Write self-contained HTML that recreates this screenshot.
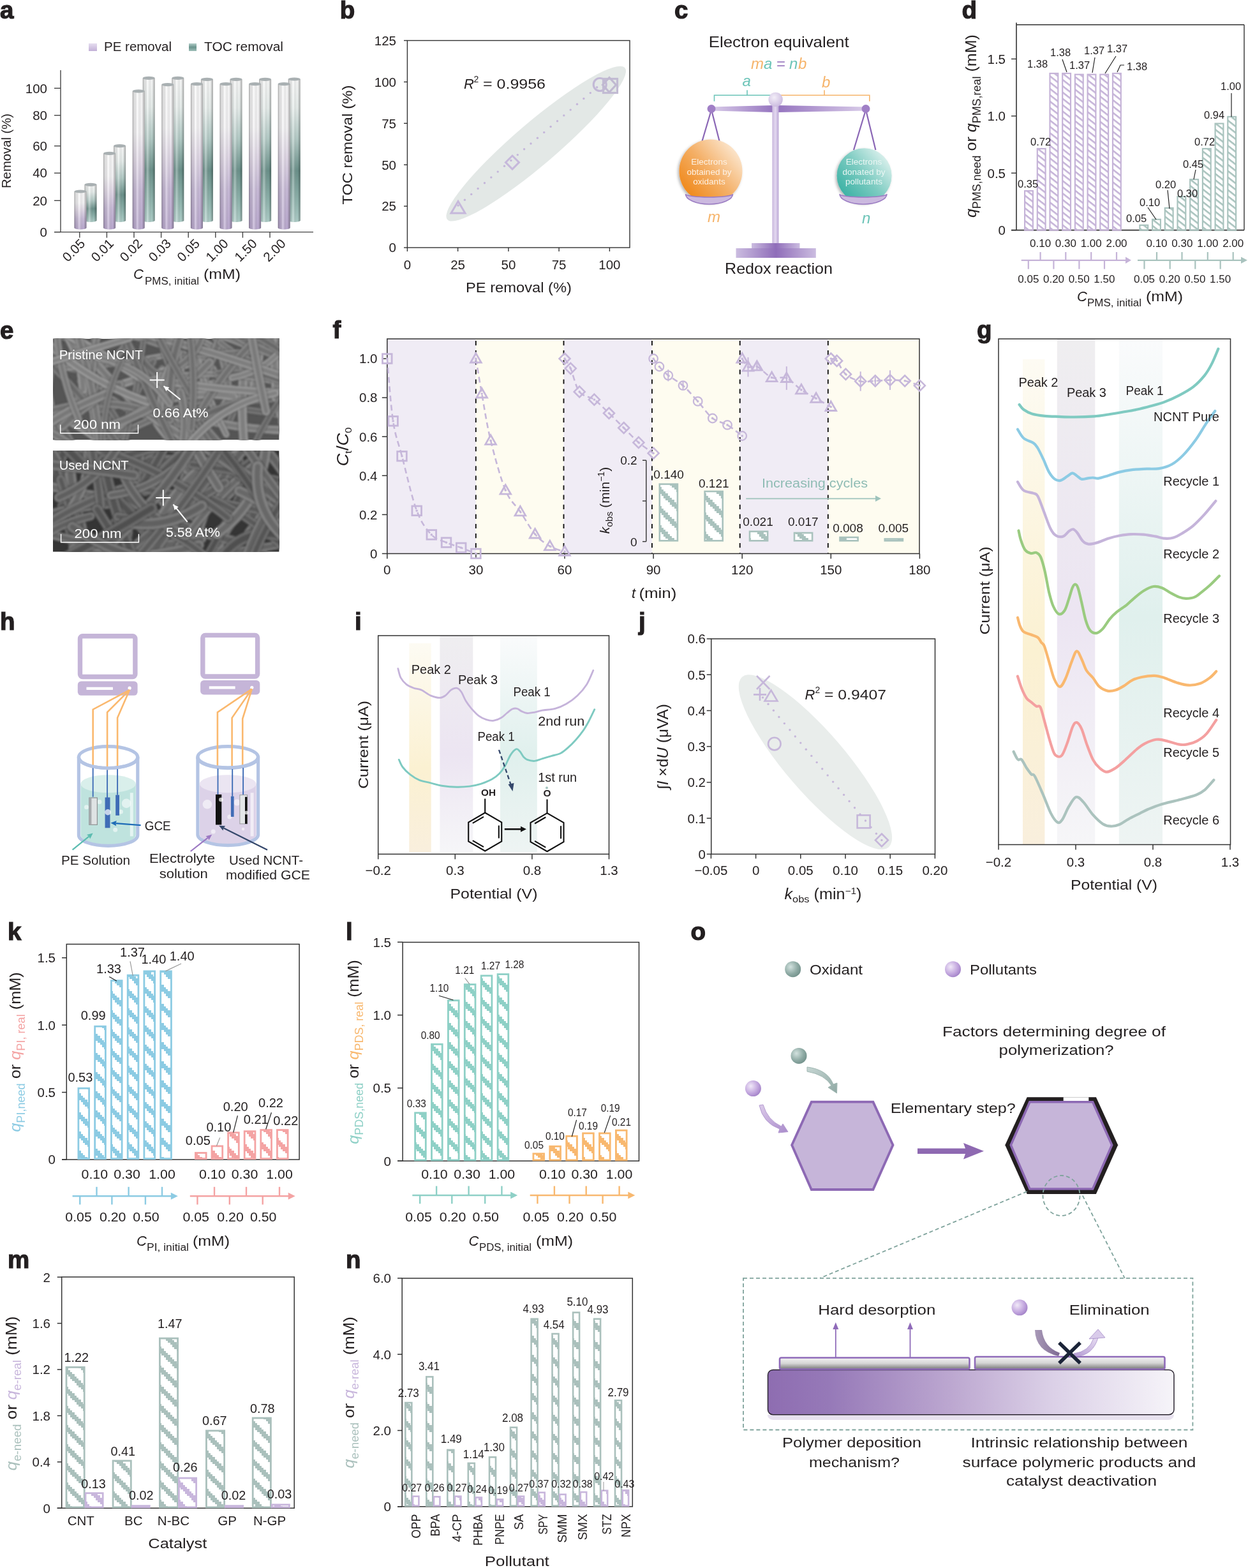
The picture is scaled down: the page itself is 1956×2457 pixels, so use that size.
<!DOCTYPE html>
<html><head><meta charset="utf-8"><style>
html,body{margin:0;padding:0;background:#fff;overflow:hidden;}
svg{display:block;}
text{font-family:"Liberation Sans", Arial, sans-serif;}
</style></head><body>
<svg width="1956" height="2457" viewBox="0 0 1956 2457">
<defs>
<linearGradient id="gPEv" x1="0" y1="0" x2="0" y2="1">
 <stop offset="0" stop-color="#ffffff"/><stop offset="0.3" stop-color="#fcfbfd"/><stop offset="0.5" stop-color="#e9e0ef"/><stop offset="0.72" stop-color="#cfc1df"/><stop offset="1" stop-color="#c0aed6"/></linearGradient>
<linearGradient id="gTOCv" x1="0" y1="0" x2="0" y2="1">
 <stop offset="0" stop-color="#ffffff"/><stop offset="0.2" stop-color="#eef5f3"/><stop offset="0.42" stop-color="#b9d2cd"/><stop offset="0.64" stop-color="#6e968f"/><stop offset="0.85" stop-color="#94bab3"/><stop offset="1" stop-color="#b3d4ce"/></linearGradient>
<linearGradient id="gLegP" x1="0" y1="0" x2="0" y2="1"><stop offset="0" stop-color="#e6def0"/><stop offset="1" stop-color="#c2b0d7"/></linearGradient>
<linearGradient id="gLegT" x1="0" y1="0" x2="0" y2="1"><stop offset="0" stop-color="#b5cfca"/><stop offset="0.5" stop-color="#6a948d"/><stop offset="1" stop-color="#9fbfb9"/></linearGradient>
<linearGradient id="gCylH" x1="0" y1="0" x2="1" y2="0">
 <stop offset="0" stop-color="#000" stop-opacity="0.38"/><stop offset="0.12" stop-color="#000" stop-opacity="0.12"/><stop offset="0.4" stop-color="#fff" stop-opacity="0.35"/><stop offset="0.75" stop-color="#000" stop-opacity="0.02"/><stop offset="1" stop-color="#000" stop-opacity="0.35"/></linearGradient>

<linearGradient id="gBeamL" x1="0" y1="0" x2="1" y2="0"><stop offset="0" stop-color="#d9cce9"/><stop offset="1" stop-color="#9574bf"/></linearGradient>
<linearGradient id="gBeamR" x1="0" y1="0" x2="1" y2="0"><stop offset="0" stop-color="#9574bf"/><stop offset="1" stop-color="#d9cce9"/></linearGradient>
<linearGradient id="gPole" x1="0" y1="0" x2="1" y2="0"><stop offset="0" stop-color="#c9b8de"/><stop offset="0.5" stop-color="#e3d8ef"/><stop offset="1" stop-color="#bba7d6"/></linearGradient>
<radialGradient id="gPivot" cx="0.4" cy="0.35" r="0.7"><stop offset="0" stop-color="#f3eef8"/><stop offset="1" stop-color="#c9b8de"/></radialGradient>
<linearGradient id="gBase" x1="0" y1="0" x2="1" y2="0"><stop offset="0" stop-color="#cbbce0"/><stop offset="0.5" stop-color="#8f6db9"/><stop offset="1" stop-color="#cbbce0"/></linearGradient>
<linearGradient id="gOrange" x1="0.15" y1="0.85" x2="0.9" y2="0.2"><stop offset="0" stop-color="#f08b1f"/><stop offset="0.5" stop-color="#f4b068"/><stop offset="1" stop-color="#fbe3c8"/></linearGradient>
<linearGradient id="gTeal" x1="0.15" y1="0.85" x2="0.9" y2="0.2"><stop offset="0" stop-color="#3fb3a6"/><stop offset="0.5" stop-color="#7ccbc1"/><stop offset="1" stop-color="#d5eeea"/></linearGradient>
<filter id="shadow" x="-20%" y="-20%" width="140%" height="140%"><feDropShadow dx="-2" dy="2" stdDeviation="2" flood-color="#000" flood-opacity="0.3"/></filter>

<radialGradient id="gBallT" cx="0.35" cy="0.35" r="0.75"><stop offset="0" stop-color="#d3e2df"/><stop offset="0.6" stop-color="#8eaaa4"/><stop offset="1" stop-color="#6f8e88"/></radialGradient>
<radialGradient id="gBallP" cx="0.35" cy="0.35" r="0.75"><stop offset="0" stop-color="#f1e9f8"/><stop offset="0.6" stop-color="#c2a6de"/><stop offset="1" stop-color="#9d7cc4"/></radialGradient>
<linearGradient id="gSlab" x1="0" y1="0" x2="1" y2="0"><stop offset="0" stop-color="#8e6db1"/><stop offset="0.15" stop-color="#9679b8"/><stop offset="0.45" stop-color="#bca7d0"/><stop offset="0.7" stop-color="#dbd0e7"/><stop offset="1" stop-color="#f6f4f9"/></linearGradient>
<linearGradient id="gFilm" x1="0" y1="0" x2="0" y2="1"><stop offset="0" stop-color="#f4f4f4"/><stop offset="0.5" stop-color="#d5d5d5"/><stop offset="1" stop-color="#777"/></linearGradient>
<linearGradient id="gArrT" x1="0" y1="0" x2="1" y2="1"><stop offset="0" stop-color="#c6d6d3"/><stop offset="1" stop-color="#8fa9a4"/></linearGradient>
<linearGradient id="gArrP" x1="0" y1="0" x2="1" y2="1"><stop offset="0" stop-color="#dccbea"/><stop offset="1" stop-color="#a98bcb"/></linearGradient>
<linearGradient id="gArrL" x1="0" y1="0" x2="1" y2="0"><stop offset="0" stop-color="#a99ab8"/><stop offset="1" stop-color="#7d6a92"/></linearGradient>
<linearGradient id="gArrR" x1="0" y1="1" x2="1" y2="0"><stop offset="0" stop-color="#b39bd2"/><stop offset="1" stop-color="#e7dcf2"/></linearGradient>
<pattern id="hPu" width="40" height="7.8" patternUnits="userSpaceOnUse" patternTransform="rotate(38)"><rect y="0" width="40" height="2.6" fill="#c5b3d8"/></pattern><pattern id="hTe" width="40" height="7.8" patternUnits="userSpaceOnUse" patternTransform="rotate(38)"><rect y="0" width="40" height="2.6" fill="#a9c3be"/></pattern><clipPath id="clip11"><rect x="83" y="530.8" width="354.6" height="158.5"/></clipPath><filter id="blur11" x="0" y="0" width="1" height="1"><feGaussianBlur stdDeviation="1.8"/></filter><clipPath id="clip12"><rect x="83" y="706.2" width="354.6" height="158.5"/></clipPath><filter id="blur12" x="0" y="0" width="1" height="1"><feGaussianBlur stdDeviation="1.8"/></filter><pattern id="hF" width="29.997" height="30" patternUnits="userSpaceOnUse" shape-rendering="crispEdges"><rect width="29.997" height="30" fill="#fff"/><rect x="0.000" y="0.000" width="3.383" height="10.5" fill="#a9c2bd"/><rect x="3.333" y="3.333" width="3.383" height="10.5" fill="#a9c2bd"/><rect x="6.666" y="6.667" width="3.383" height="10.5" fill="#a9c2bd"/><rect x="9.999" y="10.000" width="3.383" height="10.5" fill="#a9c2bd"/><rect x="13.332" y="13.333" width="3.383" height="10.5" fill="#a9c2bd"/><rect x="16.665" y="16.667" width="3.383" height="10.5" fill="#a9c2bd"/><rect x="19.998" y="20.000" width="3.383" height="10.5" fill="#a9c2bd"/><rect x="19.998" y="-10.000" width="3.383" height="10.5" fill="#a9c2bd"/><rect x="23.331" y="23.333" width="3.383" height="10.5" fill="#a9c2bd"/><rect x="23.331" y="-6.667" width="3.383" height="10.5" fill="#a9c2bd"/><rect x="26.664" y="26.667" width="3.383" height="10.5" fill="#a9c2bd"/><rect x="26.664" y="-3.333" width="3.383" height="10.5" fill="#a9c2bd"/></pattern><linearGradient id="gBandY" x1="0" y1="0" x2="0" y2="1"><stop offset="0" stop-color="#fdfbf3"/><stop offset="0.6" stop-color="#fbf1d2"/><stop offset="1" stop-color="#f9efdd"/></linearGradient>
<linearGradient id="gBandP" x1="0" y1="0" x2="0" y2="1"><stop offset="0" stop-color="#efeef0"/><stop offset="0.55" stop-color="#ece5f2"/><stop offset="1" stop-color="#f6f6f8"/></linearGradient>
<linearGradient id="gBandT" x1="0" y1="0" x2="0" y2="1"><stop offset="0" stop-color="#fafbfc"/><stop offset="0.55" stop-color="#e0f0ed"/><stop offset="1" stop-color="#eef4f3"/></linearGradient><pattern id="sK" width="29.997" height="30" patternUnits="userSpaceOnUse" shape-rendering="crispEdges"><rect x="0.000" y="0.000" width="3.383" height="10.5" fill="#8ccbe3"/><rect x="3.333" y="3.333" width="3.383" height="10.5" fill="#8ccbe3"/><rect x="6.666" y="6.667" width="3.383" height="10.5" fill="#8ccbe3"/><rect x="9.999" y="10.000" width="3.383" height="10.5" fill="#8ccbe3"/><rect x="13.332" y="13.333" width="3.383" height="10.5" fill="#8ccbe3"/><rect x="16.665" y="16.667" width="3.383" height="10.5" fill="#8ccbe3"/><rect x="19.998" y="20.000" width="3.383" height="10.5" fill="#8ccbe3"/><rect x="19.998" y="-10.000" width="3.383" height="10.5" fill="#8ccbe3"/><rect x="23.331" y="23.333" width="3.383" height="10.5" fill="#8ccbe3"/><rect x="23.331" y="-6.667" width="3.383" height="10.5" fill="#8ccbe3"/><rect x="26.664" y="26.667" width="3.383" height="10.5" fill="#8ccbe3"/><rect x="26.664" y="-3.333" width="3.383" height="10.5" fill="#8ccbe3"/></pattern><pattern id="sKp" width="29.997" height="30" patternUnits="userSpaceOnUse" shape-rendering="crispEdges"><rect x="0.000" y="0.000" width="3.383" height="10.5" fill="#f4a3a3"/><rect x="3.333" y="3.333" width="3.383" height="10.5" fill="#f4a3a3"/><rect x="6.666" y="6.667" width="3.383" height="10.5" fill="#f4a3a3"/><rect x="9.999" y="10.000" width="3.383" height="10.5" fill="#f4a3a3"/><rect x="13.332" y="13.333" width="3.383" height="10.5" fill="#f4a3a3"/><rect x="16.665" y="16.667" width="3.383" height="10.5" fill="#f4a3a3"/><rect x="19.998" y="20.000" width="3.383" height="10.5" fill="#f4a3a3"/><rect x="19.998" y="-10.000" width="3.383" height="10.5" fill="#f4a3a3"/><rect x="23.331" y="23.333" width="3.383" height="10.5" fill="#f4a3a3"/><rect x="23.331" y="-6.667" width="3.383" height="10.5" fill="#f4a3a3"/><rect x="26.664" y="26.667" width="3.383" height="10.5" fill="#f4a3a3"/><rect x="26.664" y="-3.333" width="3.383" height="10.5" fill="#f4a3a3"/></pattern><pattern id="sL" width="29.997" height="30" patternUnits="userSpaceOnUse" shape-rendering="crispEdges"><rect x="0.000" y="0.000" width="3.383" height="10.5" fill="#8ed0c6"/><rect x="3.333" y="3.333" width="3.383" height="10.5" fill="#8ed0c6"/><rect x="6.666" y="6.667" width="3.383" height="10.5" fill="#8ed0c6"/><rect x="9.999" y="10.000" width="3.383" height="10.5" fill="#8ed0c6"/><rect x="13.332" y="13.333" width="3.383" height="10.5" fill="#8ed0c6"/><rect x="16.665" y="16.667" width="3.383" height="10.5" fill="#8ed0c6"/><rect x="19.998" y="20.000" width="3.383" height="10.5" fill="#8ed0c6"/><rect x="19.998" y="-10.000" width="3.383" height="10.5" fill="#8ed0c6"/><rect x="23.331" y="23.333" width="3.383" height="10.5" fill="#8ed0c6"/><rect x="23.331" y="-6.667" width="3.383" height="10.5" fill="#8ed0c6"/><rect x="26.664" y="26.667" width="3.383" height="10.5" fill="#8ed0c6"/><rect x="26.664" y="-3.333" width="3.383" height="10.5" fill="#8ed0c6"/></pattern><pattern id="sLo" width="29.997" height="30" patternUnits="userSpaceOnUse" shape-rendering="crispEdges"><rect x="0.000" y="0.000" width="3.383" height="10.5" fill="#f8b86f"/><rect x="3.333" y="3.333" width="3.383" height="10.5" fill="#f8b86f"/><rect x="6.666" y="6.667" width="3.383" height="10.5" fill="#f8b86f"/><rect x="9.999" y="10.000" width="3.383" height="10.5" fill="#f8b86f"/><rect x="13.332" y="13.333" width="3.383" height="10.5" fill="#f8b86f"/><rect x="16.665" y="16.667" width="3.383" height="10.5" fill="#f8b86f"/><rect x="19.998" y="20.000" width="3.383" height="10.5" fill="#f8b86f"/><rect x="19.998" y="-10.000" width="3.383" height="10.5" fill="#f8b86f"/><rect x="23.331" y="23.333" width="3.383" height="10.5" fill="#f8b86f"/><rect x="23.331" y="-6.667" width="3.383" height="10.5" fill="#f8b86f"/><rect x="26.664" y="26.667" width="3.383" height="10.5" fill="#f8b86f"/><rect x="26.664" y="-3.333" width="3.383" height="10.5" fill="#f8b86f"/></pattern><pattern id="sM" width="29.997" height="30" patternUnits="userSpaceOnUse" shape-rendering="crispEdges"><rect x="0.000" y="0.000" width="3.383" height="10.5" fill="#aac0bc"/><rect x="3.333" y="3.333" width="3.383" height="10.5" fill="#aac0bc"/><rect x="6.666" y="6.667" width="3.383" height="10.5" fill="#aac0bc"/><rect x="9.999" y="10.000" width="3.383" height="10.5" fill="#aac0bc"/><rect x="13.332" y="13.333" width="3.383" height="10.5" fill="#aac0bc"/><rect x="16.665" y="16.667" width="3.383" height="10.5" fill="#aac0bc"/><rect x="19.998" y="20.000" width="3.383" height="10.5" fill="#aac0bc"/><rect x="19.998" y="-10.000" width="3.383" height="10.5" fill="#aac0bc"/><rect x="23.331" y="23.333" width="3.383" height="10.5" fill="#aac0bc"/><rect x="23.331" y="-6.667" width="3.383" height="10.5" fill="#aac0bc"/><rect x="26.664" y="26.667" width="3.383" height="10.5" fill="#aac0bc"/><rect x="26.664" y="-3.333" width="3.383" height="10.5" fill="#aac0bc"/></pattern><pattern id="sMp" width="29.997" height="30" patternUnits="userSpaceOnUse" shape-rendering="crispEdges"><rect x="0.000" y="0.000" width="3.383" height="10.5" fill="#c8b6dc"/><rect x="3.333" y="3.333" width="3.383" height="10.5" fill="#c8b6dc"/><rect x="6.666" y="6.667" width="3.383" height="10.5" fill="#c8b6dc"/><rect x="9.999" y="10.000" width="3.383" height="10.5" fill="#c8b6dc"/><rect x="13.332" y="13.333" width="3.383" height="10.5" fill="#c8b6dc"/><rect x="16.665" y="16.667" width="3.383" height="10.5" fill="#c8b6dc"/><rect x="19.998" y="20.000" width="3.383" height="10.5" fill="#c8b6dc"/><rect x="19.998" y="-10.000" width="3.383" height="10.5" fill="#c8b6dc"/><rect x="23.331" y="23.333" width="3.383" height="10.5" fill="#c8b6dc"/><rect x="23.331" y="-6.667" width="3.383" height="10.5" fill="#c8b6dc"/><rect x="26.664" y="26.667" width="3.383" height="10.5" fill="#c8b6dc"/><rect x="26.664" y="-3.333" width="3.383" height="10.5" fill="#c8b6dc"/></pattern><pattern id="sN" width="29.997" height="30" patternUnits="userSpaceOnUse" shape-rendering="crispEdges"><rect x="0.000" y="0.000" width="3.383" height="10.5" fill="#aac0bc"/><rect x="3.333" y="3.333" width="3.383" height="10.5" fill="#aac0bc"/><rect x="6.666" y="6.667" width="3.383" height="10.5" fill="#aac0bc"/><rect x="9.999" y="10.000" width="3.383" height="10.5" fill="#aac0bc"/><rect x="13.332" y="13.333" width="3.383" height="10.5" fill="#aac0bc"/><rect x="16.665" y="16.667" width="3.383" height="10.5" fill="#aac0bc"/><rect x="19.998" y="20.000" width="3.383" height="10.5" fill="#aac0bc"/><rect x="19.998" y="-10.000" width="3.383" height="10.5" fill="#aac0bc"/><rect x="23.331" y="23.333" width="3.383" height="10.5" fill="#aac0bc"/><rect x="23.331" y="-6.667" width="3.383" height="10.5" fill="#aac0bc"/><rect x="26.664" y="26.667" width="3.383" height="10.5" fill="#aac0bc"/><rect x="26.664" y="-3.333" width="3.383" height="10.5" fill="#aac0bc"/></pattern></defs>
<rect width="1956" height="2457" fill="#fff"/>
<g fill="#231f20">
<text x="0.0" y="29.2" font-size="38.5" font-weight="bold" stroke="#231f20" stroke-width="1.2">a</text>
<rect x="139.0" y="68.0" width="13.0" height="12.0" fill="url(#gLegP)" />
<text x="163.0" y="80.0" font-size="20" textLength="106.0" lengthAdjust="spacingAndGlyphs">PE removal</text>
<rect x="296.0" y="68.0" width="12.0" height="12.0" fill="url(#gLegT)" />
<text x="320.0" y="80.0" font-size="20" textLength="124.0" lengthAdjust="spacingAndGlyphs">TOC removal</text>
<line x1="95.0" y1="110.0" x2="95.0" y2="363.6" stroke="#444" stroke-width="1.4" />
<line x1="85.0" y1="363.6" x2="491.0" y2="363.6" stroke="#444" stroke-width="1.4" />
<line x1="85.0" y1="138.3" x2="95.0" y2="138.3" stroke="#444" stroke-width="1.4" />
<text x="74.0" y="145.5" font-size="20.5" text-anchor="end">100</text>
<line x1="85.0" y1="180.7" x2="95.0" y2="180.7" stroke="#444" stroke-width="1.4" />
<text x="74.0" y="187.9" font-size="20.5" text-anchor="end">80</text>
<line x1="85.0" y1="228.7" x2="95.0" y2="228.7" stroke="#444" stroke-width="1.4" />
<text x="74.0" y="235.9" font-size="20.5" text-anchor="end">60</text>
<line x1="85.0" y1="271.2" x2="95.0" y2="271.2" stroke="#444" stroke-width="1.4" />
<text x="74.0" y="278.4" font-size="20.5" text-anchor="end">40</text>
<line x1="85.0" y1="314.3" x2="95.0" y2="314.3" stroke="#444" stroke-width="1.4" />
<text x="74.0" y="321.5" font-size="20.5" text-anchor="end">20</text>
<line x1="85.0" y1="363.6" x2="95.0" y2="363.6" stroke="#444" stroke-width="1.4" />
<text x="74.0" y="370.8" font-size="20.5" text-anchor="end">0</text>
<line x1="124.8" y1="363.6" x2="124.8" y2="372.6" stroke="#444" stroke-width="1.4" />
<line x1="167.4" y1="363.6" x2="167.4" y2="372.6" stroke="#444" stroke-width="1.4" />
<line x1="210.0" y1="363.6" x2="210.0" y2="372.6" stroke="#444" stroke-width="1.4" />
<line x1="252.6" y1="363.6" x2="252.6" y2="372.6" stroke="#444" stroke-width="1.4" />
<line x1="295.2" y1="363.6" x2="295.2" y2="372.6" stroke="#444" stroke-width="1.4" />
<line x1="337.8" y1="363.6" x2="337.8" y2="372.6" stroke="#444" stroke-width="1.4" />
<line x1="380.4" y1="363.6" x2="380.4" y2="372.6" stroke="#444" stroke-width="1.4" />
<line x1="423.0" y1="363.6" x2="423.0" y2="372.6" stroke="#444" stroke-width="1.4" />
<text x="134.5" y="383.0" font-size="20.5" text-anchor="end" transform="rotate(-45 134.5 383.0)">0.05</text>
<text x="179.4" y="383.0" font-size="20.5" text-anchor="end" transform="rotate(-45 179.4 383.0)">0.01</text>
<text x="224.4" y="383.0" font-size="20.5" text-anchor="end" transform="rotate(-45 224.4 383.0)">0.02</text>
<text x="269.4" y="383.0" font-size="20.5" text-anchor="end" transform="rotate(-45 269.4 383.0)">0.03</text>
<text x="314.3" y="383.0" font-size="20.5" text-anchor="end" transform="rotate(-45 314.3 383.0)">0.05</text>
<text x="359.2" y="383.0" font-size="20.5" text-anchor="end" transform="rotate(-45 359.2 383.0)">1.00</text>
<text x="404.2" y="383.0" font-size="20.5" text-anchor="end" transform="rotate(-45 404.2 383.0)">1.50</text>
<text x="449.2" y="383.0" font-size="20.5" text-anchor="end" transform="rotate(-45 449.2 383.0)">2.00</text>
<path d="M132.5,289.3 L132.5,345.5 A9.5,2.6 0 0 0 151.5,345.5 L151.5,289.3 Z" fill="url(#gTOCv)" />
<path d="M132.5,289.3 L132.5,345.5 A9.5,2.6 0 0 0 151.5,345.5 L151.5,289.3 Z" fill="url(#gCylH)" />
<ellipse cx="142.0" cy="289.3" rx="9.5" ry="2.6" fill="#a9b0b2" />
<path d="M116.5,300.0 L116.5,357.0 A9.5,2.6 0 0 0 135.5,357.0 L135.5,300.0 Z" fill="url(#gPEv)" />
<path d="M116.5,300.0 L116.5,357.0 A9.5,2.6 0 0 0 135.5,357.0 L135.5,300.0 Z" fill="url(#gCylH)" />
<ellipse cx="126.0" cy="300.0" rx="9.5" ry="2.6" fill="#a9b0b2" />
<path d="M178.1,228.7 L178.1,345.5 A9.5,2.6 0 0 0 197.1,345.5 L197.1,228.7 Z" fill="url(#gTOCv)" />
<path d="M178.1,228.7 L178.1,345.5 A9.5,2.6 0 0 0 197.1,345.5 L197.1,228.7 Z" fill="url(#gCylH)" />
<ellipse cx="187.6" cy="228.7" rx="9.5" ry="2.6" fill="#a9b0b2" />
<path d="M162.1,240.4 L162.1,357.0 A9.5,2.6 0 0 0 181.1,357.0 L181.1,240.4 Z" fill="url(#gPEv)" />
<path d="M162.1,240.4 L162.1,357.0 A9.5,2.6 0 0 0 181.1,357.0 L181.1,240.4 Z" fill="url(#gCylH)" />
<ellipse cx="171.6" cy="240.4" rx="9.5" ry="2.6" fill="#a9b0b2" />
<path d="M223.7,122.4 L223.7,345.5 A9.5,2.6 0 0 0 242.7,345.5 L242.7,122.4 Z" fill="url(#gTOCv)" />
<path d="M223.7,122.4 L223.7,345.5 A9.5,2.6 0 0 0 242.7,345.5 L242.7,122.4 Z" fill="url(#gCylH)" />
<ellipse cx="233.2" cy="122.4" rx="9.5" ry="2.6" fill="#a9b0b2" />
<path d="M207.7,142.8 L207.7,357.0 A9.5,2.6 0 0 0 226.7,357.0 L226.7,142.8 Z" fill="url(#gPEv)" />
<path d="M207.7,142.8 L207.7,357.0 A9.5,2.6 0 0 0 226.7,357.0 L226.7,142.8 Z" fill="url(#gCylH)" />
<ellipse cx="217.2" cy="142.8" rx="9.5" ry="2.6" fill="#a9b0b2" />
<path d="M269.3,122.4 L269.3,345.5 A9.5,2.6 0 0 0 288.3,345.5 L288.3,122.4 Z" fill="url(#gTOCv)" />
<path d="M269.3,122.4 L269.3,345.5 A9.5,2.6 0 0 0 288.3,345.5 L288.3,122.4 Z" fill="url(#gCylH)" />
<ellipse cx="278.8" cy="122.4" rx="9.5" ry="2.6" fill="#a9b0b2" />
<path d="M253.3,132.6 L253.3,357.0 A9.5,2.6 0 0 0 272.3,357.0 L272.3,132.6 Z" fill="url(#gPEv)" />
<path d="M253.3,132.6 L253.3,357.0 A9.5,2.6 0 0 0 272.3,357.0 L272.3,132.6 Z" fill="url(#gCylH)" />
<ellipse cx="262.8" cy="132.6" rx="9.5" ry="2.6" fill="#a9b0b2" />
<path d="M314.9,124.4 L314.9,345.5 A9.5,2.6 0 0 0 333.9,345.5 L333.9,124.4 Z" fill="url(#gTOCv)" />
<path d="M314.9,124.4 L314.9,345.5 A9.5,2.6 0 0 0 333.9,345.5 L333.9,124.4 Z" fill="url(#gCylH)" />
<ellipse cx="324.4" cy="124.4" rx="9.5" ry="2.6" fill="#a9b0b2" />
<path d="M298.9,131.7 L298.9,357.0 A9.5,2.6 0 0 0 317.9,357.0 L317.9,131.7 Z" fill="url(#gPEv)" />
<path d="M298.9,131.7 L298.9,357.0 A9.5,2.6 0 0 0 317.9,357.0 L317.9,131.7 Z" fill="url(#gCylH)" />
<ellipse cx="308.4" cy="131.7" rx="9.5" ry="2.6" fill="#a9b0b2" />
<path d="M360.5,124.4 L360.5,345.5 A9.5,2.6 0 0 0 379.5,345.5 L379.5,124.4 Z" fill="url(#gTOCv)" />
<path d="M360.5,124.4 L360.5,345.5 A9.5,2.6 0 0 0 379.5,345.5 L379.5,124.4 Z" fill="url(#gCylH)" />
<ellipse cx="370.0" cy="124.4" rx="9.5" ry="2.6" fill="#a9b0b2" />
<path d="M344.5,131.7 L344.5,357.0 A9.5,2.6 0 0 0 363.5,357.0 L363.5,131.7 Z" fill="url(#gPEv)" />
<path d="M344.5,131.7 L344.5,357.0 A9.5,2.6 0 0 0 363.5,357.0 L363.5,131.7 Z" fill="url(#gCylH)" />
<ellipse cx="354.0" cy="131.7" rx="9.5" ry="2.6" fill="#a9b0b2" />
<path d="M406.1,124.4 L406.1,345.5 A9.5,2.6 0 0 0 425.1,345.5 L425.1,124.4 Z" fill="url(#gTOCv)" />
<path d="M406.1,124.4 L406.1,345.5 A9.5,2.6 0 0 0 425.1,345.5 L425.1,124.4 Z" fill="url(#gCylH)" />
<ellipse cx="415.6" cy="124.4" rx="9.5" ry="2.6" fill="#a9b0b2" />
<path d="M390.1,131.7 L390.1,357.0 A9.5,2.6 0 0 0 409.1,357.0 L409.1,131.7 Z" fill="url(#gPEv)" />
<path d="M390.1,131.7 L390.1,357.0 A9.5,2.6 0 0 0 409.1,357.0 L409.1,131.7 Z" fill="url(#gCylH)" />
<ellipse cx="399.6" cy="131.7" rx="9.5" ry="2.6" fill="#a9b0b2" />
<path d="M451.7,124.0 L451.7,345.5 A9.5,2.6 0 0 0 470.7,345.5 L470.7,124.0 Z" fill="url(#gTOCv)" />
<path d="M451.7,124.0 L451.7,345.5 A9.5,2.6 0 0 0 470.7,345.5 L470.7,124.0 Z" fill="url(#gCylH)" />
<ellipse cx="461.2" cy="124.0" rx="9.5" ry="2.6" fill="#a9b0b2" />
<path d="M435.7,131.7 L435.7,357.0 A9.5,2.6 0 0 0 454.7,357.0 L454.7,131.7 Z" fill="url(#gPEv)" />
<path d="M435.7,131.7 L435.7,357.0 A9.5,2.6 0 0 0 454.7,357.0 L454.7,131.7 Z" fill="url(#gCylH)" />
<ellipse cx="445.2" cy="131.7" rx="9.5" ry="2.6" fill="#a9b0b2" />
<text x="209.0" y="437.4" font-size="22" font-style="italic">C</text>
<text x="227.0" y="445.6" font-size="16" textLength="85.0" lengthAdjust="spacingAndGlyphs">PMS, initial</text>
<text x="319.0" y="437.4" font-size="22" textLength="58.0" lengthAdjust="spacingAndGlyphs">(mM)</text>
<text x="17.2" y="236.5" font-size="20.5" text-anchor="middle" textLength="117.0" lengthAdjust="spacingAndGlyphs" transform="rotate(-90 17.2 236.5)">Removal (%)</text>
<text x="532.8" y="29.1" font-size="38.5" font-weight="bold" stroke="#231f20" stroke-width="1.2">b</text>
<ellipse cx="840.2" cy="225.1" rx="183.0" ry="33.0" fill="#e3e8e6" transform="rotate(-40.5 840.2 225.1)"/>
<rect x="638.4" y="63.5" width="348.6" height="324.5" fill="none" stroke="#333" stroke-width="1.4" />
<line x1="633.0" y1="388.0" x2="638.4" y2="388.0" stroke="#333" stroke-width="1.4" />
<text x="621.0" y="395.3" font-size="20.5" text-anchor="end">0</text>
<line x1="633.0" y1="323.1" x2="638.4" y2="323.1" stroke="#333" stroke-width="1.4" />
<text x="621.0" y="330.4" font-size="20.5" text-anchor="end">25</text>
<line x1="633.0" y1="258.2" x2="638.4" y2="258.2" stroke="#333" stroke-width="1.4" />
<text x="621.0" y="265.5" font-size="20.5" text-anchor="end">50</text>
<line x1="633.0" y1="193.3" x2="638.4" y2="193.3" stroke="#333" stroke-width="1.4" />
<text x="621.0" y="200.6" font-size="20.5" text-anchor="end">75</text>
<line x1="633.0" y1="128.4" x2="638.4" y2="128.4" stroke="#333" stroke-width="1.4" />
<text x="621.0" y="135.7" font-size="20.5" text-anchor="end">100</text>
<line x1="633.0" y1="63.5" x2="638.4" y2="63.5" stroke="#333" stroke-width="1.4" />
<text x="621.0" y="70.8" font-size="20.5" text-anchor="end">125</text>
<line x1="638.4" y1="388.0" x2="638.4" y2="394.0" stroke="#333" stroke-width="1.4" />
<text x="638.4" y="422.0" font-size="20.5" text-anchor="middle">0</text>
<line x1="717.6" y1="388.0" x2="717.6" y2="394.0" stroke="#333" stroke-width="1.4" />
<text x="717.6" y="422.0" font-size="20.5" text-anchor="middle">25</text>
<line x1="796.9" y1="388.0" x2="796.9" y2="394.0" stroke="#333" stroke-width="1.4" />
<text x="796.9" y="422.0" font-size="20.5" text-anchor="middle">50</text>
<line x1="876.1" y1="388.0" x2="876.1" y2="394.0" stroke="#333" stroke-width="1.4" />
<text x="876.1" y="422.0" font-size="20.5" text-anchor="middle">75</text>
<line x1="955.4" y1="388.0" x2="955.4" y2="394.0" stroke="#333" stroke-width="1.4" />
<text x="955.4" y="422.0" font-size="20.5" text-anchor="middle">100</text>
<text x="813.0" y="457.5" font-size="22" text-anchor="middle" textLength="166.0" lengthAdjust="spacingAndGlyphs">PE removal (%)</text>
<text x="552.0" y="227.0" font-size="22" text-anchor="middle" textLength="187.0" lengthAdjust="spacingAndGlyphs" transform="rotate(-90 552.0 227.0)">TOC removal (%)</text>
<circle cx="718.0" cy="322.0" r="1.7" fill="#c4b6da" />
<circle cx="728.4" cy="313.2" r="1.7" fill="#c4b6da" />
<circle cx="738.7" cy="304.4" r="1.7" fill="#c4b6da" />
<circle cx="749.1" cy="295.5" r="1.7" fill="#c4b6da" />
<circle cx="759.5" cy="286.7" r="1.7" fill="#c4b6da" />
<circle cx="769.8" cy="277.9" r="1.7" fill="#c4b6da" />
<circle cx="780.2" cy="269.1" r="1.7" fill="#c4b6da" />
<circle cx="790.5" cy="260.3" r="1.7" fill="#c4b6da" />
<circle cx="800.9" cy="251.5" r="1.7" fill="#c4b6da" />
<circle cx="811.3" cy="242.6" r="1.7" fill="#c4b6da" />
<circle cx="821.6" cy="233.8" r="1.7" fill="#c4b6da" />
<circle cx="832.0" cy="225.0" r="1.7" fill="#c4b6da" />
<circle cx="842.4" cy="216.2" r="1.7" fill="#c4b6da" />
<circle cx="852.7" cy="207.4" r="1.7" fill="#c4b6da" />
<circle cx="863.1" cy="198.5" r="1.7" fill="#c4b6da" />
<circle cx="873.5" cy="189.7" r="1.7" fill="#c4b6da" />
<circle cx="883.8" cy="180.9" r="1.7" fill="#c4b6da" />
<circle cx="894.2" cy="172.1" r="1.7" fill="#c4b6da" />
<circle cx="904.5" cy="163.3" r="1.7" fill="#c4b6da" />
<circle cx="914.9" cy="154.5" r="1.7" fill="#c4b6da" />
<circle cx="925.3" cy="145.6" r="1.7" fill="#c4b6da" />
<circle cx="935.6" cy="136.8" r="1.7" fill="#c4b6da" />
<circle cx="946.0" cy="128.0" r="1.7" fill="#c4b6da" />
<path d="M718.0,315.5 L707.0,334.0 L729.0,334.0 Z" fill="none" stroke="#c6b8db" stroke-width="3" />
<path d="M803.0,244.0 L813.5,254.4 L803.0,265.0 L792.5,254.4 Z" fill="none" stroke="#c6b8db" stroke-width="3" />
<circle cx="940.2" cy="132.5" r="10.0" fill="none" stroke="#c2b8d6" stroke-width="3.2" />
<rect x="945.5" y="123.5" width="22.0" height="22.0" fill="none" stroke="#c2bbd3" stroke-width="3.2" />
<path d="M955.0,121.5 L965.5,133.0 L955.0,144.5 L944.5,133.0 Z" fill="none" stroke="#c0b9d1" stroke-width="3.2" />
<text x="727.0" y="138.5" font-size="22" font-style="italic">R</text>
<text x="742.5" y="129.0" font-size="14">2</text>
<text x="757.0" y="138.5" font-size="22" textLength="98.0" lengthAdjust="spacingAndGlyphs">= 0.9956</text>
<text x="1057.0" y="29.1" font-size="38.5" font-weight="bold" stroke="#231f20" stroke-width="1.2">c</text>
<text x="1110.7" y="74.3" font-size="24" textLength="220.0" lengthAdjust="spacingAndGlyphs">Electron equivalent</text>
<text x="1177.0" y="108.4" font-size="24" fill="#f6b46b" font-style="italic">m</text>
<text x="1197.0" y="108.4" font-size="24" fill="#6cc4b8" font-style="italic">a</text>
<text x="1217.0" y="108.4" font-size="24" fill="#9d7cc1">=</text>
<text x="1237.0" y="108.4" font-size="24" fill="#6cc4b8" font-style="italic">n</text>
<text x="1251.0" y="108.4" font-size="24" fill="#f6b46b" font-style="italic">b</text>
<text x="1163.5" y="134.6" font-size="24" fill="#6cc4b8" font-style="italic">a</text>
<text x="1288.0" y="137.0" font-size="24" fill="#f6b46b" font-style="italic">b</text>
<path d="M1119.5,158.8 L1119.5,149.2 L1215.6,149.2 L1215.6,158.8 M1171,149.2 L1171,141.3" fill="none" stroke="#6cc4b8" stroke-width="1.6" />
<path d="M1217.5,158.8 L1217.5,149.2 L1362.8,149.2 L1362.8,158.8 M1292,149.2 L1292,141.3" fill="none" stroke="#f6b46b" stroke-width="1.6" />
<path d="M1115,172 L1100.5,221 M1115,172 L1127.5,221" fill="none" stroke="#8a66b5" stroke-width="2.2" />
<path d="M1357,172 L1338,235 M1357,172 L1372.4,235" fill="none" stroke="#8a66b5" stroke-width="2.2" />
<path d="M1115,167.5 L1213,165 L1213,176 L1115,173.5 Z" fill="url(#gBeamL)" />
<path d="M1218,165 L1357,167.5 L1357,173.5 L1218,176 Z" fill="url(#gBeamR)" />
<circle cx="1115.0" cy="170.5" r="6.5" fill="#a07fc6" />
<circle cx="1357.0" cy="170.5" r="6.5" fill="#a07fc6" />
<rect x="1210.3" y="163.0" width="10.2" height="219.0" fill="url(#gPole)" />
<circle cx="1215.6" cy="156.0" r="11.2" fill="url(#gPivot)" />
<rect x="1178.0" y="381.0" width="75.5" height="8.5" fill="url(#gBase)" />
<rect x="1153.5" y="389.0" width="125.3" height="15.0" fill="url(#gBase)" />
<circle cx="1114.0" cy="268.0" r="49.5" fill="url(#gOrange)" filter="url(#shadow)"/>
<circle cx="1354.6" cy="275.3" r="43.0" fill="url(#gTeal)" filter="url(#shadow)"/>
<path d="M1074.5,304 A37,5 0 0 0 1148.5,304 A37,16 0 0 1 1074.5,304 Z" fill="#cbb9df" stroke="#9b7cc3" stroke-width="1.6" />
<path d="M1316,304 A37,5 0 0 0 1390,304 A37,16 0 0 1 1316,304 Z" fill="#cbb9df" stroke="#9b7cc3" stroke-width="1.6" />
<text x="1111.5" y="258.0" font-size="13.5" text-anchor="middle" fill="#fdf1e3">Electrons</text>
<text x="1111.5" y="273.5" font-size="13.5" text-anchor="middle" fill="#fdf1e3">obtained by</text>
<text x="1111.5" y="289.0" font-size="13.5" text-anchor="middle" fill="#fdf1e3">oxidants</text>
<text x="1354.0" y="258.0" font-size="13.5" text-anchor="middle" fill="#e8f6f3">Electrons</text>
<text x="1354.0" y="273.5" font-size="13.5" text-anchor="middle" fill="#e8f6f3">donated by</text>
<text x="1354.0" y="289.0" font-size="13.5" text-anchor="middle" fill="#e8f6f3">pollutants</text>
<text x="1109.0" y="348.0" font-size="24" fill="#f6b46b" font-style="italic">m</text>
<text x="1351.0" y="349.6" font-size="24" fill="#6cc4b8" font-style="italic">n</text>
<text x="1136.0" y="429.0" font-size="24" textLength="169.0" lengthAdjust="spacingAndGlyphs">Redox reaction</text>
<text x="1507.5" y="29.1" font-size="38.5" font-weight="bold" stroke="#231f20" stroke-width="1.2">d</text>
<line x1="1593.0" y1="35.5" x2="1593.0" y2="360.6" stroke="#333" stroke-width="1.6" />
<line x1="1593.0" y1="38.8" x2="1950.0" y2="38.8" stroke="#333" stroke-width="1.4" />
<line x1="1950.0" y1="38.8" x2="1950.0" y2="360.6" stroke="#333" stroke-width="1.4" />
<line x1="1585.0" y1="360.6" x2="1950.0" y2="360.6" stroke="#333" stroke-width="1.6" />
<line x1="1585.0" y1="360.6" x2="1593.0" y2="360.6" stroke="#333" stroke-width="1.4" />
<text x="1576.0" y="367.9" font-size="20.5" text-anchor="end">0</text>
<line x1="1585.0" y1="271.2" x2="1593.0" y2="271.2" stroke="#333" stroke-width="1.4" />
<text x="1576.0" y="278.5" font-size="20.5" text-anchor="end">0.5</text>
<line x1="1585.0" y1="181.8" x2="1593.0" y2="181.8" stroke="#333" stroke-width="1.4" />
<text x="1576.0" y="189.1" font-size="20.5" text-anchor="end">1.0</text>
<line x1="1585.0" y1="92.4" x2="1593.0" y2="92.4" stroke="#333" stroke-width="1.4" />
<text x="1576.0" y="99.7" font-size="20.5" text-anchor="end">1.5</text>
<rect x="1606.1" y="299.1" width="12.8" height="61.5" fill="url(#hPu)" stroke="#c5b3d8" stroke-width="2.2" />
<rect x="1786.4" y="352.8" width="12.8" height="7.8" fill="url(#hTe)" stroke="#a9c3be" stroke-width="2.2" />
<rect x="1625.8" y="233.0" width="12.8" height="127.6" fill="url(#hPu)" stroke="#c5b3d8" stroke-width="2.2" />
<rect x="1806.1" y="343.8" width="12.8" height="16.8" fill="url(#hTe)" stroke="#a9c3be" stroke-width="2.2" />
<rect x="1645.5" y="115.0" width="12.8" height="245.6" fill="url(#hPu)" stroke="#c5b3d8" stroke-width="2.2" />
<rect x="1825.8" y="325.9" width="12.8" height="34.7" fill="url(#hTe)" stroke="#a9c3be" stroke-width="2.2" />
<rect x="1665.2" y="115.0" width="12.8" height="245.6" fill="url(#hPu)" stroke="#c5b3d8" stroke-width="2.2" />
<rect x="1845.5" y="308.1" width="12.8" height="52.5" fill="url(#hTe)" stroke="#a9c3be" stroke-width="2.2" />
<rect x="1684.9" y="116.7" width="12.8" height="243.9" fill="url(#hPu)" stroke="#c5b3d8" stroke-width="2.2" />
<rect x="1865.2" y="281.2" width="12.8" height="79.4" fill="url(#hTe)" stroke="#a9c3be" stroke-width="2.2" />
<rect x="1704.6" y="116.7" width="12.8" height="243.9" fill="url(#hPu)" stroke="#c5b3d8" stroke-width="2.2" />
<rect x="1884.9" y="233.0" width="12.8" height="127.6" fill="url(#hTe)" stroke="#a9c3be" stroke-width="2.2" />
<rect x="1724.3" y="116.7" width="12.8" height="243.9" fill="url(#hPu)" stroke="#c5b3d8" stroke-width="2.2" />
<rect x="1904.6" y="193.6" width="12.8" height="167.0" fill="url(#hTe)" stroke="#a9c3be" stroke-width="2.2" />
<rect x="1744.0" y="115.0" width="12.8" height="245.6" fill="url(#hPu)" stroke="#c5b3d8" stroke-width="2.2" />
<rect x="1924.3" y="182.9" width="12.8" height="177.7" fill="url(#hTe)" stroke="#a9c3be" stroke-width="2.2" />
<text x="1595.0" y="294.0" font-size="16.5">0.35</text>
<text x="1615.0" y="228.0" font-size="16.5">0.72</text>
<text x="1610.0" y="106.0" font-size="16.5">1.38</text>
<text x="1646.0" y="88.0" font-size="16.5">1.38</text>
<text x="1676.0" y="107.5" font-size="16.5">1.37</text>
<text x="1699.0" y="84.5" font-size="16.5">1.37</text>
<text x="1735.0" y="82.0" font-size="16.5">1.37</text>
<text x="1766.0" y="110.0" font-size="16.5">1.38</text>
<path d="M1665,93 L1672,113 M1716,90 L1712,114 M1749,88 L1732,115 M1762,102 L1756,102 L1751,113" fill="none" stroke="#222" stroke-width="1.2" />
<text x="1765.0" y="347.5" font-size="16.5">0.05</text>
<text x="1786.0" y="322.5" font-size="16.5">0.10</text>
<text x="1811.0" y="295.0" font-size="16.5">0.20</text>
<text x="1845.0" y="308.5" font-size="16.5">0.30</text>
<text x="1854.0" y="263.0" font-size="16.5">0.45</text>
<text x="1872.0" y="228.0" font-size="16.5">0.72</text>
<text x="1887.0" y="186.0" font-size="16.5">0.94</text>
<text x="1913.0" y="141.0" font-size="16.5">1.00</text>
<path d="M1799,325 L1812,344 M1830,298 L1833,327 M1874,266 L1871,281 M1930,146 L1930,183" fill="none" stroke="#222" stroke-width="1.2" />
<line x1="1600.7" y1="407.8" x2="1768.0" y2="407.8" stroke="#c5b3d8" stroke-width="2.2" />
<path d="M1764,402.5 L1773,407.8 L1764,413 Z" fill="#c5b3d8" />
<line x1="1630.6" y1="395.0" x2="1630.6" y2="407.8" stroke="#c5b3d8" stroke-width="2.2" />
<line x1="1670.3" y1="395.0" x2="1670.3" y2="407.8" stroke="#c5b3d8" stroke-width="2.2" />
<line x1="1710.2" y1="395.0" x2="1710.2" y2="407.8" stroke="#c5b3d8" stroke-width="2.2" />
<line x1="1750.0" y1="395.0" x2="1750.0" y2="407.8" stroke="#c5b3d8" stroke-width="2.2" />
<line x1="1611.8" y1="407.8" x2="1611.8" y2="421.6" stroke="#c5b3d8" stroke-width="2.2" />
<line x1="1651.4" y1="407.8" x2="1651.4" y2="421.6" stroke="#c5b3d8" stroke-width="2.2" />
<line x1="1691.4" y1="407.8" x2="1691.4" y2="421.6" stroke="#c5b3d8" stroke-width="2.2" />
<line x1="1731.0" y1="407.8" x2="1731.0" y2="421.6" stroke="#c5b3d8" stroke-width="2.2" />
<line x1="1783.0" y1="407.8" x2="1950.0" y2="407.8" stroke="#a9c3be" stroke-width="2.2" />
<path d="M1945,402.5 L1955,407.8 L1945,413 Z" fill="#a9c3be" />
<line x1="1813.0" y1="395.0" x2="1813.0" y2="407.8" stroke="#a9c3be" stroke-width="2.2" />
<line x1="1852.5" y1="395.0" x2="1852.5" y2="407.8" stroke="#a9c3be" stroke-width="2.2" />
<line x1="1892.8" y1="395.0" x2="1892.8" y2="407.8" stroke="#a9c3be" stroke-width="2.2" />
<line x1="1932.7" y1="395.0" x2="1932.7" y2="407.8" stroke="#a9c3be" stroke-width="2.2" />
<line x1="1793.5" y1="407.8" x2="1793.5" y2="421.6" stroke="#a9c3be" stroke-width="2.2" />
<line x1="1833.7" y1="407.8" x2="1833.7" y2="421.6" stroke="#a9c3be" stroke-width="2.2" />
<line x1="1873.3" y1="407.8" x2="1873.3" y2="421.6" stroke="#a9c3be" stroke-width="2.2" />
<line x1="1912.7" y1="407.8" x2="1912.7" y2="421.6" stroke="#a9c3be" stroke-width="2.2" />
<text x="1630.6" y="387.0" font-size="17" text-anchor="middle">0.10</text>
<text x="1813.0" y="387.0" font-size="17" text-anchor="middle">0.10</text>
<text x="1670.4" y="387.0" font-size="17" text-anchor="middle">0.30</text>
<text x="1852.9" y="387.0" font-size="17" text-anchor="middle">0.30</text>
<text x="1710.2" y="387.0" font-size="17" text-anchor="middle">1.00</text>
<text x="1892.8" y="387.0" font-size="17" text-anchor="middle">1.00</text>
<text x="1750.0" y="387.0" font-size="17" text-anchor="middle">2.00</text>
<text x="1932.7" y="387.0" font-size="17" text-anchor="middle">2.00</text>
<text x="1611.8" y="443.0" font-size="17" text-anchor="middle">0.05</text>
<text x="1793.5" y="443.0" font-size="17" text-anchor="middle">0.05</text>
<text x="1651.5" y="443.0" font-size="17" text-anchor="middle">0.20</text>
<text x="1833.2" y="443.0" font-size="17" text-anchor="middle">0.20</text>
<text x="1691.2" y="443.0" font-size="17" text-anchor="middle">0.50</text>
<text x="1872.9" y="443.0" font-size="17" text-anchor="middle">0.50</text>
<text x="1730.9" y="443.0" font-size="17" text-anchor="middle">1.50</text>
<text x="1912.6" y="443.0" font-size="17" text-anchor="middle">1.50</text>
<text x="1688.0" y="471.6" font-size="22" font-style="italic">C</text>
<text x="1704.0" y="480.0" font-size="16" textLength="85.0" lengthAdjust="spacingAndGlyphs">PMS, initial</text>
<text x="1796.0" y="471.6" font-size="22" textLength="58.0" lengthAdjust="spacingAndGlyphs">(mM)</text>
<text transform="translate(1530 197.6) rotate(-90)" text-anchor="middle" font-size="24.5" textLength="287" lengthAdjust="spacingAndGlyphs"><tspan font-style="italic" dy="0">q</tspan><tspan font-size="17.5" dy="7">PMS,need</tspan><tspan dy="-7"> or </tspan><tspan font-style="italic" dy="0">q</tspan><tspan font-size="17.5" dy="7">PMS,real</tspan><tspan dy="-7"> (mM)</tspan></text>
<text x="0.0" y="530.7" font-size="38.5" font-weight="bold" stroke="#231f20" stroke-width="1.2">e</text>
<g clip-path="url(#clip11)">
<rect x="83.0" y="530.8" width="354.6" height="158.5" fill="#555555" />
<g filter="url(#blur11)">
<path d="M335.0,599.2 Q241.3,621.2 148.0,644.6" fill="none" stroke="#000" stroke-width="12.9" stroke-linecap="round" opacity="0.22"/>
<path d="M335.0,599.2 Q241.3,621.2 148.0,644.6" fill="none" stroke="#909090" stroke-width="9.9" stroke-linecap="round"/>
<path d="M335.0,599.2 Q241.3,621.2 148.0,644.6" fill="none" stroke="#767676" stroke-width="5.0" stroke-linecap="round"/>
<path d="M403.2,543.9 Q384.7,606.9 357.3,666.6" fill="none" stroke="#000" stroke-width="12.5" stroke-linecap="round" opacity="0.22"/>
<path d="M403.2,543.9 Q384.7,606.9 357.3,666.6" fill="none" stroke="#828282" stroke-width="9.5" stroke-linecap="round"/>
<path d="M403.2,543.9 Q384.7,606.9 357.3,666.6" fill="none" stroke="#686868" stroke-width="4.7" stroke-linecap="round"/>
<path d="M230.8,628.4 Q377.0,689.9 534.2,668.5" fill="none" stroke="#000" stroke-width="15.7" stroke-linecap="round" opacity="0.22"/>
<path d="M230.8,628.4 Q377.0,689.9 534.2,668.5" fill="none" stroke="#929292" stroke-width="12.7" stroke-linecap="round"/>
<path d="M230.8,628.4 Q377.0,689.9 534.2,668.5" fill="none" stroke="#787878" stroke-width="6.3" stroke-linecap="round"/>
<path d="M364.4,608.3 Q340.6,670.6 274.7,660.7" fill="none" stroke="#000" stroke-width="13.2" stroke-linecap="round" opacity="0.22"/>
<path d="M364.4,608.3 Q340.6,670.6 274.7,660.7" fill="none" stroke="#9a9a9a" stroke-width="10.2" stroke-linecap="round"/>
<path d="M364.4,608.3 Q340.6,670.6 274.7,660.7" fill="none" stroke="#808080" stroke-width="5.1" stroke-linecap="round"/>
<path d="M49.3,467.6 Q73.2,603.2 100.4,738.2" fill="none" stroke="#000" stroke-width="13.5" stroke-linecap="round" opacity="0.22"/>
<path d="M49.3,467.6 Q73.2,603.2 100.4,738.2" fill="none" stroke="#929292" stroke-width="10.5" stroke-linecap="round"/>
<path d="M49.3,467.6 Q73.2,603.2 100.4,738.2" fill="none" stroke="#787878" stroke-width="5.2" stroke-linecap="round"/>
<path d="M106.8,448.3 Q60.7,525.5 22.9,607.0" fill="none" stroke="#000" stroke-width="16.2" stroke-linecap="round" opacity="0.22"/>
<path d="M106.8,448.3 Q60.7,525.5 22.9,607.0" fill="none" stroke="#9b9b9b" stroke-width="13.2" stroke-linecap="round"/>
<path d="M106.8,448.3 Q60.7,525.5 22.9,607.0" fill="none" stroke="#818181" stroke-width="6.6" stroke-linecap="round"/>
<path d="M284.6,522.7 Q367.9,544.3 400.0,624.1" fill="none" stroke="#000" stroke-width="12.5" stroke-linecap="round" opacity="0.22"/>
<path d="M284.6,522.7 Q367.9,544.3 400.0,624.1" fill="none" stroke="#969696" stroke-width="9.5" stroke-linecap="round"/>
<path d="M284.6,522.7 Q367.9,544.3 400.0,624.1" fill="none" stroke="#7c7c7c" stroke-width="4.8" stroke-linecap="round"/>
<path d="M59.7,558.8 Q102.1,584.8 151.4,578.3" fill="none" stroke="#000" stroke-width="13.0" stroke-linecap="round" opacity="0.22"/>
<path d="M59.7,558.8 Q102.1,584.8 151.4,578.3" fill="none" stroke="#848484" stroke-width="10.0" stroke-linecap="round"/>
<path d="M59.7,558.8 Q102.1,584.8 151.4,578.3" fill="none" stroke="#6a6a6a" stroke-width="5.0" stroke-linecap="round"/>
<path d="M510.7,598.6 Q424.6,642.4 333.6,609.6" fill="none" stroke="#000" stroke-width="13.0" stroke-linecap="round" opacity="0.22"/>
<path d="M510.7,598.6 Q424.6,642.4 333.6,609.6" fill="none" stroke="#929292" stroke-width="10.0" stroke-linecap="round"/>
<path d="M510.7,598.6 Q424.6,642.4 333.6,609.6" fill="none" stroke="#787878" stroke-width="5.0" stroke-linecap="round"/>
<path d="M303.2,539.0 Q336.0,573.1 355.4,616.4" fill="none" stroke="#000" stroke-width="12.6" stroke-linecap="round" opacity="0.22"/>
<path d="M303.2,539.0 Q336.0,573.1 355.4,616.4" fill="none" stroke="#9b9b9b" stroke-width="9.6" stroke-linecap="round"/>
<path d="M303.2,539.0 Q336.0,573.1 355.4,616.4" fill="none" stroke="#818181" stroke-width="4.8" stroke-linecap="round"/>
<path d="M29.9,506.0 Q165.7,502.4 290.6,555.7" fill="none" stroke="#000" stroke-width="12.9" stroke-linecap="round" opacity="0.22"/>
<path d="M29.9,506.0 Q165.7,502.4 290.6,555.7" fill="none" stroke="#8f8f8f" stroke-width="9.9" stroke-linecap="round"/>
<path d="M29.9,506.0 Q165.7,502.4 290.6,555.7" fill="none" stroke="#757575" stroke-width="5.0" stroke-linecap="round"/>
<path d="M332.1,646.0 Q270.7,714.2 195.5,766.7" fill="none" stroke="#000" stroke-width="14.1" stroke-linecap="round" opacity="0.22"/>
<path d="M332.1,646.0 Q270.7,714.2 195.5,766.7" fill="none" stroke="#8a8a8a" stroke-width="11.1" stroke-linecap="round"/>
<path d="M332.1,646.0 Q270.7,714.2 195.5,766.7" fill="none" stroke="#707070" stroke-width="5.6" stroke-linecap="round"/>
<path d="M279.8,552.2 Q148.6,581.9 14.2,576.5" fill="none" stroke="#000" stroke-width="12.1" stroke-linecap="round" opacity="0.22"/>
<path d="M279.8,552.2 Q148.6,581.9 14.2,576.5" fill="none" stroke="#9a9a9a" stroke-width="9.1" stroke-linecap="round"/>
<path d="M279.8,552.2 Q148.6,581.9 14.2,576.5" fill="none" stroke="#808080" stroke-width="4.5" stroke-linecap="round"/>
<path d="M171.1,605.5 Q176.0,721.5 102.7,811.4" fill="none" stroke="#000" stroke-width="13.1" stroke-linecap="round" opacity="0.22"/>
<path d="M171.1,605.5 Q176.0,721.5 102.7,811.4" fill="none" stroke="#828282" stroke-width="10.1" stroke-linecap="round"/>
<path d="M171.1,605.5 Q176.0,721.5 102.7,811.4" fill="none" stroke="#686868" stroke-width="5.0" stroke-linecap="round"/>
<path d="M125.2,597.5 Q197.9,644.5 204.6,730.8" fill="none" stroke="#000" stroke-width="13.0" stroke-linecap="round" opacity="0.22"/>
<path d="M125.2,597.5 Q197.9,644.5 204.6,730.8" fill="none" stroke="#808080" stroke-width="10.0" stroke-linecap="round"/>
<path d="M125.2,597.5 Q197.9,644.5 204.6,730.8" fill="none" stroke="#666666" stroke-width="5.0" stroke-linecap="round"/>
<path d="M268.7,410.0 Q344.9,500.4 359.7,617.8" fill="none" stroke="#000" stroke-width="14.4" stroke-linecap="round" opacity="0.22"/>
<path d="M268.7,410.0 Q344.9,500.4 359.7,617.8" fill="none" stroke="#909090" stroke-width="11.4" stroke-linecap="round"/>
<path d="M268.7,410.0 Q344.9,500.4 359.7,617.8" fill="none" stroke="#767676" stroke-width="5.7" stroke-linecap="round"/>
<path d="M237.7,649.1 Q269.8,713.7 341.7,716.5" fill="none" stroke="#000" stroke-width="15.1" stroke-linecap="round" opacity="0.22"/>
<path d="M237.7,649.1 Q269.8,713.7 341.7,716.5" fill="none" stroke="#989898" stroke-width="12.1" stroke-linecap="round"/>
<path d="M237.7,649.1 Q269.8,713.7 341.7,716.5" fill="none" stroke="#7e7e7e" stroke-width="6.0" stroke-linecap="round"/>
<path d="M391.0,444.9 Q333.8,535.6 307.5,639.6" fill="none" stroke="#000" stroke-width="16.4" stroke-linecap="round" opacity="0.22"/>
<path d="M391.0,444.9 Q333.8,535.6 307.5,639.6" fill="none" stroke="#8a8a8a" stroke-width="13.4" stroke-linecap="round"/>
<path d="M391.0,444.9 Q333.8,535.6 307.5,639.6" fill="none" stroke="#707070" stroke-width="6.7" stroke-linecap="round"/>
<path d="M254.5,578.7 Q287.8,633.9 347.8,610.2" fill="none" stroke="#000" stroke-width="15.7" stroke-linecap="round" opacity="0.22"/>
<path d="M254.5,578.7 Q287.8,633.9 347.8,610.2" fill="none" stroke="#858585" stroke-width="12.7" stroke-linecap="round"/>
<path d="M254.5,578.7 Q287.8,633.9 347.8,610.2" fill="none" stroke="#6b6b6b" stroke-width="6.3" stroke-linecap="round"/>
<path d="M312.1,565.2 Q217.0,592.6 122.9,623.5" fill="none" stroke="#000" stroke-width="15.6" stroke-linecap="round" opacity="0.22"/>
<path d="M312.1,565.2 Q217.0,592.6 122.9,623.5" fill="none" stroke="#9b9b9b" stroke-width="12.6" stroke-linecap="round"/>
<path d="M312.1,565.2 Q217.0,592.6 122.9,623.5" fill="none" stroke="#818181" stroke-width="6.3" stroke-linecap="round"/>
<path d="M115.9,419.8 Q80.0,554.2 64.4,692.5" fill="none" stroke="#000" stroke-width="13.1" stroke-linecap="round" opacity="0.22"/>
<path d="M115.9,419.8 Q80.0,554.2 64.4,692.5" fill="none" stroke="#868686" stroke-width="10.1" stroke-linecap="round"/>
<path d="M115.9,419.8 Q80.0,554.2 64.4,692.5" fill="none" stroke="#6c6c6c" stroke-width="5.0" stroke-linecap="round"/>
<path d="M335.9,640.0 Q428.9,637.4 512.2,678.9" fill="none" stroke="#000" stroke-width="12.9" stroke-linecap="round" opacity="0.22"/>
<path d="M335.9,640.0 Q428.9,637.4 512.2,678.9" fill="none" stroke="#7f7f7f" stroke-width="9.9" stroke-linecap="round"/>
<path d="M335.9,640.0 Q428.9,637.4 512.2,678.9" fill="none" stroke="#656565" stroke-width="4.9" stroke-linecap="round"/>
<path d="M130.8,590.3 Q194.4,656.6 286.2,658.5" fill="none" stroke="#000" stroke-width="15.3" stroke-linecap="round" opacity="0.22"/>
<path d="M130.8,590.3 Q194.4,656.6 286.2,658.5" fill="none" stroke="#888888" stroke-width="12.3" stroke-linecap="round"/>
<path d="M130.8,590.3 Q194.4,656.6 286.2,658.5" fill="none" stroke="#6e6e6e" stroke-width="6.1" stroke-linecap="round"/>
<path d="M291.6,606.0 Q354.3,587.6 379.9,647.7" fill="none" stroke="#000" stroke-width="13.8" stroke-linecap="round" opacity="0.22"/>
<path d="M291.6,606.0 Q354.3,587.6 379.9,647.7" fill="none" stroke="#9b9b9b" stroke-width="10.8" stroke-linecap="round"/>
<path d="M291.6,606.0 Q354.3,587.6 379.9,647.7" fill="none" stroke="#818181" stroke-width="5.4" stroke-linecap="round"/>
<path d="M202.2,466.7 Q223.1,529.3 169.8,568.2" fill="none" stroke="#000" stroke-width="13.6" stroke-linecap="round" opacity="0.22"/>
<path d="M202.2,466.7 Q223.1,529.3 169.8,568.2" fill="none" stroke="#878787" stroke-width="10.6" stroke-linecap="round"/>
<path d="M202.2,466.7 Q223.1,529.3 169.8,568.2" fill="none" stroke="#6d6d6d" stroke-width="5.3" stroke-linecap="round"/>
<path d="M475.5,401.0 Q421.7,520.5 439.2,650.5" fill="none" stroke="#000" stroke-width="15.7" stroke-linecap="round" opacity="0.22"/>
<path d="M475.5,401.0 Q421.7,520.5 439.2,650.5" fill="none" stroke="#959595" stroke-width="12.7" stroke-linecap="round"/>
<path d="M475.5,401.0 Q421.7,520.5 439.2,650.5" fill="none" stroke="#7b7b7b" stroke-width="6.3" stroke-linecap="round"/>
<path d="M88.2,654.3 Q116.2,700.9 140.1,749.8" fill="none" stroke="#000" stroke-width="16.4" stroke-linecap="round" opacity="0.22"/>
<path d="M88.2,654.3 Q116.2,700.9 140.1,749.8" fill="none" stroke="#808080" stroke-width="13.4" stroke-linecap="round"/>
<path d="M88.2,654.3 Q116.2,700.9 140.1,749.8" fill="none" stroke="#666666" stroke-width="6.7" stroke-linecap="round"/>
<path d="M325.8,622.8 Q222.9,657.5 129.4,712.6" fill="none" stroke="#000" stroke-width="13.9" stroke-linecap="round" opacity="0.22"/>
<path d="M325.8,622.8 Q222.9,657.5 129.4,712.6" fill="none" stroke="#8a8a8a" stroke-width="10.9" stroke-linecap="round"/>
<path d="M325.8,622.8 Q222.9,657.5 129.4,712.6" fill="none" stroke="#707070" stroke-width="5.4" stroke-linecap="round"/>
<path d="M12.5,508.9 Q74.1,504.2 123.3,541.4" fill="none" stroke="#000" stroke-width="15.6" stroke-linecap="round" opacity="0.22"/>
<path d="M12.5,508.9 Q74.1,504.2 123.3,541.4" fill="none" stroke="#8b8b8b" stroke-width="12.6" stroke-linecap="round"/>
<path d="M12.5,508.9 Q74.1,504.2 123.3,541.4" fill="none" stroke="#717171" stroke-width="6.3" stroke-linecap="round"/>
<path d="M239.8,566.3 Q186.8,649.0 192.8,747.2" fill="none" stroke="#000" stroke-width="14.6" stroke-linecap="round" opacity="0.22"/>
<path d="M239.8,566.3 Q186.8,649.0 192.8,747.2" fill="none" stroke="#808080" stroke-width="11.6" stroke-linecap="round"/>
<path d="M239.8,566.3 Q186.8,649.0 192.8,747.2" fill="none" stroke="#666666" stroke-width="5.8" stroke-linecap="round"/>
<path d="M220.4,559.5 Q254.8,612.0 311.7,585.3" fill="none" stroke="#000" stroke-width="14.5" stroke-linecap="round" opacity="0.22"/>
<path d="M220.4,559.5 Q254.8,612.0 311.7,585.3" fill="none" stroke="#818181" stroke-width="11.5" stroke-linecap="round"/>
<path d="M220.4,559.5 Q254.8,612.0 311.7,585.3" fill="none" stroke="#676767" stroke-width="5.7" stroke-linecap="round"/>
<path d="M273.4,660.2 Q318.4,681.1 337.6,726.8" fill="none" stroke="#000" stroke-width="15.1" stroke-linecap="round" opacity="0.22"/>
<path d="M273.4,660.2 Q318.4,681.1 337.6,726.8" fill="none" stroke="#939393" stroke-width="12.1" stroke-linecap="round"/>
<path d="M273.4,660.2 Q318.4,681.1 337.6,726.8" fill="none" stroke="#797979" stroke-width="6.0" stroke-linecap="round"/>
<path d="M197.6,530.8 Q267.7,660.4 337.5,790.1" fill="none" stroke="#000" stroke-width="13.6" stroke-linecap="round" opacity="0.22"/>
<path d="M197.6,530.8 Q267.7,660.4 337.5,790.1" fill="none" stroke="#858585" stroke-width="10.6" stroke-linecap="round"/>
<path d="M197.6,530.8 Q267.7,660.4 337.5,790.1" fill="none" stroke="#6b6b6b" stroke-width="5.3" stroke-linecap="round"/>
<path d="M297.0,419.7 Q289.4,558.2 354.6,680.7" fill="none" stroke="#000" stroke-width="13.1" stroke-linecap="round" opacity="0.22"/>
<path d="M297.0,419.7 Q289.4,558.2 354.6,680.7" fill="none" stroke="#9a9a9a" stroke-width="10.1" stroke-linecap="round"/>
<path d="M297.0,419.7 Q289.4,558.2 354.6,680.7" fill="none" stroke="#808080" stroke-width="5.0" stroke-linecap="round"/>
<path d="M102.4,656.9 Q157.9,683.0 196.9,730.2" fill="none" stroke="#000" stroke-width="16.2" stroke-linecap="round" opacity="0.22"/>
<path d="M102.4,656.9 Q157.9,683.0 196.9,730.2" fill="none" stroke="#9a9a9a" stroke-width="13.2" stroke-linecap="round"/>
<path d="M102.4,656.9 Q157.9,683.0 196.9,730.2" fill="none" stroke="#808080" stroke-width="6.6" stroke-linecap="round"/>
<path d="M302.6,650.8 Q347.0,696.5 384.7,748.0" fill="none" stroke="#000" stroke-width="16.6" stroke-linecap="round" opacity="0.22"/>
<path d="M302.6,650.8 Q347.0,696.5 384.7,748.0" fill="none" stroke="#868686" stroke-width="13.6" stroke-linecap="round"/>
<path d="M302.6,650.8 Q347.0,696.5 384.7,748.0" fill="none" stroke="#6c6c6c" stroke-width="6.8" stroke-linecap="round"/>
<path d="M398.3,468.0 Q371.4,585.5 383.4,705.4" fill="none" stroke="#000" stroke-width="16.9" stroke-linecap="round" opacity="0.22"/>
<path d="M398.3,468.0 Q371.4,585.5 383.4,705.4" fill="none" stroke="#989898" stroke-width="13.9" stroke-linecap="round"/>
<path d="M398.3,468.0 Q371.4,585.5 383.4,705.4" fill="none" stroke="#7e7e7e" stroke-width="7.0" stroke-linecap="round"/>
<path d="M101.2,511.7 Q245.6,484.6 381.9,539.5" fill="none" stroke="#000" stroke-width="13.4" stroke-linecap="round" opacity="0.22"/>
<path d="M101.2,511.7 Q245.6,484.6 381.9,539.5" fill="none" stroke="#949494" stroke-width="10.4" stroke-linecap="round"/>
<path d="M101.2,511.7 Q245.6,484.6 381.9,539.5" fill="none" stroke="#7a7a7a" stroke-width="5.2" stroke-linecap="round"/>
<path d="M225.9,526.5 Q211.1,641.4 179.7,752.9" fill="none" stroke="#000" stroke-width="12.1" stroke-linecap="round" opacity="0.22"/>
<path d="M225.9,526.5 Q211.1,641.4 179.7,752.9" fill="none" stroke="#848484" stroke-width="9.1" stroke-linecap="round"/>
<path d="M225.9,526.5 Q211.1,641.4 179.7,752.9" fill="none" stroke="#6a6a6a" stroke-width="4.6" stroke-linecap="round"/>
<path d="M345.1,536.4 Q385.4,568.4 435.7,579.4" fill="none" stroke="#000" stroke-width="12.5" stroke-linecap="round" opacity="0.22"/>
<path d="M345.1,536.4 Q385.4,568.4 435.7,579.4" fill="none" stroke="#8c8c8c" stroke-width="9.5" stroke-linecap="round"/>
<path d="M345.1,536.4 Q385.4,568.4 435.7,579.4" fill="none" stroke="#727272" stroke-width="4.8" stroke-linecap="round"/>
<path d="M252.8,588.7 Q299.2,626.9 295.7,686.9" fill="none" stroke="#000" stroke-width="14.4" stroke-linecap="round" opacity="0.22"/>
<path d="M252.8,588.7 Q299.2,626.9 295.7,686.9" fill="none" stroke="#989898" stroke-width="11.4" stroke-linecap="round"/>
<path d="M252.8,588.7 Q299.2,626.9 295.7,686.9" fill="none" stroke="#7e7e7e" stroke-width="5.7" stroke-linecap="round"/>
<path d="M122.7,389.8 Q162.3,510.4 144.3,636.0" fill="none" stroke="#000" stroke-width="15.9" stroke-linecap="round" opacity="0.22"/>
<path d="M122.7,389.8 Q162.3,510.4 144.3,636.0" fill="none" stroke="#868686" stroke-width="12.9" stroke-linecap="round"/>
<path d="M122.7,389.8 Q162.3,510.4 144.3,636.0" fill="none" stroke="#6c6c6c" stroke-width="6.4" stroke-linecap="round"/>
<path d="M276.2,544.1 Q306.6,698.8 275.8,853.4" fill="none" stroke="#000" stroke-width="16.0" stroke-linecap="round" opacity="0.22"/>
<path d="M276.2,544.1 Q306.6,698.8 275.8,853.4" fill="none" stroke="#999999" stroke-width="13.0" stroke-linecap="round"/>
<path d="M276.2,544.1 Q306.6,698.8 275.8,853.4" fill="none" stroke="#7f7f7f" stroke-width="6.5" stroke-linecap="round"/>
<path d="M542.3,502.0 Q427.6,560.7 298.9,554.3" fill="none" stroke="#000" stroke-width="13.0" stroke-linecap="round" opacity="0.22"/>
<path d="M542.3,502.0 Q427.6,560.7 298.9,554.3" fill="none" stroke="#8c8c8c" stroke-width="10.0" stroke-linecap="round"/>
<path d="M542.3,502.0 Q427.6,560.7 298.9,554.3" fill="none" stroke="#727272" stroke-width="5.0" stroke-linecap="round"/>
<path d="M431.4,396.8 Q412.9,512.1 394.9,627.5" fill="none" stroke="#000" stroke-width="16.7" stroke-linecap="round" opacity="0.22"/>
<path d="M431.4,396.8 Q412.9,512.1 394.9,627.5" fill="none" stroke="#989898" stroke-width="13.7" stroke-linecap="round"/>
<path d="M431.4,396.8 Q412.9,512.1 394.9,627.5" fill="none" stroke="#7e7e7e" stroke-width="6.9" stroke-linecap="round"/>
<path d="M146.5,565.4 Q228.8,663.0 345.5,714.8" fill="none" stroke="#000" stroke-width="16.6" stroke-linecap="round" opacity="0.22"/>
<path d="M146.5,565.4 Q228.8,663.0 345.5,714.8" fill="none" stroke="#929292" stroke-width="13.6" stroke-linecap="round"/>
<path d="M146.5,565.4 Q228.8,663.0 345.5,714.8" fill="none" stroke="#787878" stroke-width="6.8" stroke-linecap="round"/>
<path d="M93.2,507.5 Q127.8,553.1 130.2,610.3" fill="none" stroke="#000" stroke-width="16.7" stroke-linecap="round" opacity="0.22"/>
<path d="M93.2,507.5 Q127.8,553.1 130.2,610.3" fill="none" stroke="#979797" stroke-width="13.7" stroke-linecap="round"/>
<path d="M93.2,507.5 Q127.8,553.1 130.2,610.3" fill="none" stroke="#7d7d7d" stroke-width="6.8" stroke-linecap="round"/>
<path d="M65.9,648.4 Q168.4,611.8 266.7,658.3" fill="none" stroke="#000" stroke-width="14.8" stroke-linecap="round" opacity="0.22"/>
<path d="M65.9,648.4 Q168.4,611.8 266.7,658.3" fill="none" stroke="#888888" stroke-width="11.8" stroke-linecap="round"/>
<path d="M65.9,648.4 Q168.4,611.8 266.7,658.3" fill="none" stroke="#6e6e6e" stroke-width="5.9" stroke-linecap="round"/>
<path d="M232.7,595.6 Q369.6,568.5 499.6,619.5" fill="none" stroke="#000" stroke-width="12.2" stroke-linecap="round" opacity="0.22"/>
<path d="M232.7,595.6 Q369.6,568.5 499.6,619.5" fill="none" stroke="#979797" stroke-width="9.2" stroke-linecap="round"/>
<path d="M232.7,595.6 Q369.6,568.5 499.6,619.5" fill="none" stroke="#7d7d7d" stroke-width="4.6" stroke-linecap="round"/>
<path d="M366.8,621.8 Q261.6,603.7 180.0,672.3" fill="none" stroke="#000" stroke-width="15.6" stroke-linecap="round" opacity="0.22"/>
<path d="M366.8,621.8 Q261.6,603.7 180.0,672.3" fill="none" stroke="#9a9a9a" stroke-width="12.6" stroke-linecap="round"/>
<path d="M366.8,621.8 Q261.6,603.7 180.0,672.3" fill="none" stroke="#808080" stroke-width="6.3" stroke-linecap="round"/>
<path d="M492.2,630.8 Q387.6,607.8 296.7,664.5" fill="none" stroke="#000" stroke-width="15.8" stroke-linecap="round" opacity="0.22"/>
<path d="M492.2,630.8 Q387.6,607.8 296.7,664.5" fill="none" stroke="#808080" stroke-width="12.8" stroke-linecap="round"/>
<path d="M492.2,630.8 Q387.6,607.8 296.7,664.5" fill="none" stroke="#666666" stroke-width="6.4" stroke-linecap="round"/>
<path d="M328.5,567.7 Q251.7,647.8 144.3,675.7" fill="none" stroke="#000" stroke-width="16.2" stroke-linecap="round" opacity="0.22"/>
<path d="M328.5,567.7 Q251.7,647.8 144.3,675.7" fill="none" stroke="#8e8e8e" stroke-width="13.2" stroke-linecap="round"/>
<path d="M328.5,567.7 Q251.7,647.8 144.3,675.7" fill="none" stroke="#747474" stroke-width="6.6" stroke-linecap="round"/>
<path d="M233.7,444.2 Q250.4,585.8 334.3,701.2" fill="none" stroke="#000" stroke-width="13.5" stroke-linecap="round" opacity="0.22"/>
<path d="M233.7,444.2 Q250.4,585.8 334.3,701.2" fill="none" stroke="#848484" stroke-width="10.5" stroke-linecap="round"/>
<path d="M233.7,444.2 Q250.4,585.8 334.3,701.2" fill="none" stroke="#6a6a6a" stroke-width="5.3" stroke-linecap="round"/>
<path d="M53.4,543.5 Q124.7,613.7 184.0,694.4" fill="none" stroke="#000" stroke-width="14.5" stroke-linecap="round" opacity="0.22"/>
<path d="M53.4,543.5 Q124.7,613.7 184.0,694.4" fill="none" stroke="#818181" stroke-width="11.5" stroke-linecap="round"/>
<path d="M53.4,543.5 Q124.7,613.7 184.0,694.4" fill="none" stroke="#676767" stroke-width="5.8" stroke-linecap="round"/>
<path d="M403.1,506.5 Q302.7,525.2 200.5,526.1" fill="none" stroke="#000" stroke-width="16.9" stroke-linecap="round" opacity="0.22"/>
<path d="M403.1,506.5 Q302.7,525.2 200.5,526.1" fill="none" stroke="#979797" stroke-width="13.9" stroke-linecap="round"/>
<path d="M403.1,506.5 Q302.7,525.2 200.5,526.1" fill="none" stroke="#7d7d7d" stroke-width="7.0" stroke-linecap="round"/>
<path d="M-16.5,455.6 Q113.0,526.1 238.7,603.0" fill="none" stroke="#000" stroke-width="16.8" stroke-linecap="round" opacity="0.22"/>
<path d="M-16.5,455.6 Q113.0,526.1 238.7,603.0" fill="none" stroke="#9b9b9b" stroke-width="13.8" stroke-linecap="round"/>
<path d="M-16.5,455.6 Q113.0,526.1 238.7,603.0" fill="none" stroke="#818181" stroke-width="6.9" stroke-linecap="round"/>
<path d="M422.4,505.5 Q433.3,563.7 432.3,623.0" fill="none" stroke="#000" stroke-width="16.7" stroke-linecap="round" opacity="0.22"/>
<path d="M422.4,505.5 Q433.3,563.7 432.3,623.0" fill="none" stroke="#989898" stroke-width="13.7" stroke-linecap="round"/>
<path d="M422.4,505.5 Q433.3,563.7 432.3,623.0" fill="none" stroke="#7e7e7e" stroke-width="6.8" stroke-linecap="round"/>
<path d="M340.1,584.5 Q440.2,575.1 511.9,645.5" fill="none" stroke="#000" stroke-width="12.6" stroke-linecap="round" opacity="0.22"/>
<path d="M340.1,584.5 Q440.2,575.1 511.9,645.5" fill="none" stroke="#868686" stroke-width="9.6" stroke-linecap="round"/>
<path d="M340.1,584.5 Q440.2,575.1 511.9,645.5" fill="none" stroke="#6c6c6c" stroke-width="4.8" stroke-linecap="round"/>
<path d="M313.1,475.2 Q360.9,529.1 427.9,555.4" fill="none" stroke="#000" stroke-width="15.6" stroke-linecap="round" opacity="0.22"/>
<path d="M313.1,475.2 Q360.9,529.1 427.9,555.4" fill="none" stroke="#888888" stroke-width="12.6" stroke-linecap="round"/>
<path d="M313.1,475.2 Q360.9,529.1 427.9,555.4" fill="none" stroke="#6e6e6e" stroke-width="6.3" stroke-linecap="round"/>
<path d="M159.4,500.8 Q127.8,609.8 159.6,718.9" fill="none" stroke="#000" stroke-width="13.3" stroke-linecap="round" opacity="0.22"/>
<path d="M159.4,500.8 Q127.8,609.8 159.6,718.9" fill="none" stroke="#919191" stroke-width="10.3" stroke-linecap="round"/>
<path d="M159.4,500.8 Q127.8,609.8 159.6,718.9" fill="none" stroke="#777777" stroke-width="5.1" stroke-linecap="round"/>
<path d="M124.0,531.4 Q148.7,614.5 158.1,700.7" fill="none" stroke="#000" stroke-width="15.1" stroke-linecap="round" opacity="0.22"/>
<path d="M124.0,531.4 Q148.7,614.5 158.1,700.7" fill="none" stroke="#8e8e8e" stroke-width="12.1" stroke-linecap="round"/>
<path d="M124.0,531.4 Q148.7,614.5 158.1,700.7" fill="none" stroke="#747474" stroke-width="6.0" stroke-linecap="round"/>
<path d="M282.7,613.6 Q300.8,685.0 268.0,750.9" fill="none" stroke="#000" stroke-width="15.1" stroke-linecap="round" opacity="0.22"/>
<path d="M282.7,613.6 Q300.8,685.0 268.0,750.9" fill="none" stroke="#8f8f8f" stroke-width="12.1" stroke-linecap="round"/>
<path d="M282.7,613.6 Q300.8,685.0 268.0,750.9" fill="none" stroke="#757575" stroke-width="6.0" stroke-linecap="round"/>
<path d="M493.2,459.4 Q374.7,532.1 309.0,654.6" fill="none" stroke="#000" stroke-width="15.0" stroke-linecap="round" opacity="0.22"/>
<path d="M493.2,459.4 Q374.7,532.1 309.0,654.6" fill="none" stroke="#888888" stroke-width="12.0" stroke-linecap="round"/>
<path d="M493.2,459.4 Q374.7,532.1 309.0,654.6" fill="none" stroke="#6e6e6e" stroke-width="6.0" stroke-linecap="round"/>
<path d="M465.4,506.8 Q437.7,577.3 363.5,592.0" fill="none" stroke="#000" stroke-width="13.2" stroke-linecap="round" opacity="0.22"/>
<path d="M465.4,506.8 Q437.7,577.3 363.5,592.0" fill="none" stroke="#9a9a9a" stroke-width="10.2" stroke-linecap="round"/>
<path d="M465.4,506.8 Q437.7,577.3 363.5,592.0" fill="none" stroke="#808080" stroke-width="5.1" stroke-linecap="round"/>
<path d="M219.5,521.3 Q351.8,555.6 480.0,603.3" fill="none" stroke="#000" stroke-width="15.5" stroke-linecap="round" opacity="0.22"/>
<path d="M219.5,521.3 Q351.8,555.6 480.0,603.3" fill="none" stroke="#979797" stroke-width="12.5" stroke-linecap="round"/>
<path d="M219.5,521.3 Q351.8,555.6 480.0,603.3" fill="none" stroke="#7d7d7d" stroke-width="6.3" stroke-linecap="round"/>
<path d="M187.0,602.6 Q138.5,630.4 97.3,668.3" fill="none" stroke="#000" stroke-width="16.6" stroke-linecap="round" opacity="0.22"/>
<path d="M187.0,602.6 Q138.5,630.4 97.3,668.3" fill="none" stroke="#898989" stroke-width="13.6" stroke-linecap="round"/>
<path d="M187.0,602.6 Q138.5,630.4 97.3,668.3" fill="none" stroke="#6f6f6f" stroke-width="6.8" stroke-linecap="round"/>
<path d="M447.4,405.3 Q444.9,533.7 442.8,662.1" fill="none" stroke="#000" stroke-width="16.2" stroke-linecap="round" opacity="0.22"/>
<path d="M447.4,405.3 Q444.9,533.7 442.8,662.1" fill="none" stroke="#939393" stroke-width="13.2" stroke-linecap="round"/>
<path d="M447.4,405.3 Q444.9,533.7 442.8,662.1" fill="none" stroke="#797979" stroke-width="6.6" stroke-linecap="round"/>
<path d="M251.4,596.7 Q379.0,616.7 508.2,616.3" fill="none" stroke="#000" stroke-width="14.8" stroke-linecap="round" opacity="0.22"/>
<path d="M251.4,596.7 Q379.0,616.7 508.2,616.3" fill="none" stroke="#9a9a9a" stroke-width="11.8" stroke-linecap="round"/>
<path d="M251.4,596.7 Q379.0,616.7 508.2,616.3" fill="none" stroke="#808080" stroke-width="5.9" stroke-linecap="round"/>
<path d="M10.7,465.3 Q94.5,582.8 231.0,629.6" fill="none" stroke="#000" stroke-width="15.4" stroke-linecap="round" opacity="0.22"/>
<path d="M10.7,465.3 Q94.5,582.8 231.0,629.6" fill="none" stroke="#9b9b9b" stroke-width="12.4" stroke-linecap="round"/>
<path d="M10.7,465.3 Q94.5,582.8 231.0,629.6" fill="none" stroke="#818181" stroke-width="6.2" stroke-linecap="round"/>
<path d="M320.6,492.4 Q322.4,557.0 263.0,582.6" fill="none" stroke="#000" stroke-width="14.3" stroke-linecap="round" opacity="0.22"/>
<path d="M320.6,492.4 Q322.4,557.0 263.0,582.6" fill="none" stroke="#8a8a8a" stroke-width="11.3" stroke-linecap="round"/>
<path d="M320.6,492.4 Q322.4,557.0 263.0,582.6" fill="none" stroke="#707070" stroke-width="5.7" stroke-linecap="round"/>
<path d="M280.8,552.0 Q249.1,590.5 251.8,640.3" fill="none" stroke="#000" stroke-width="13.0" stroke-linecap="round" opacity="0.22"/>
<path d="M280.8,552.0 Q249.1,590.5 251.8,640.3" fill="none" stroke="#999999" stroke-width="10.0" stroke-linecap="round"/>
<path d="M280.8,552.0 Q249.1,590.5 251.8,640.3" fill="none" stroke="#7f7f7f" stroke-width="5.0" stroke-linecap="round"/>
<path d="M165.9,447.8 Q215.3,585.9 282.0,716.6" fill="none" stroke="#000" stroke-width="14.6" stroke-linecap="round" opacity="0.22"/>
<path d="M165.9,447.8 Q215.3,585.9 282.0,716.6" fill="none" stroke="#818181" stroke-width="11.6" stroke-linecap="round"/>
<path d="M165.9,447.8 Q215.3,585.9 282.0,716.6" fill="none" stroke="#676767" stroke-width="5.8" stroke-linecap="round"/>
<path d="M168.6,616.6 Q50.1,661.7 -30.4,759.6" fill="none" stroke="#000" stroke-width="16.7" stroke-linecap="round" opacity="0.22"/>
<path d="M168.6,616.6 Q50.1,661.7 -30.4,759.6" fill="none" stroke="#929292" stroke-width="13.7" stroke-linecap="round"/>
<path d="M168.6,616.6 Q50.1,661.7 -30.4,759.6" fill="none" stroke="#787878" stroke-width="6.8" stroke-linecap="round"/>
<path d="M309.5,469.1 Q265.0,542.5 266.1,628.3" fill="none" stroke="#000" stroke-width="16.6" stroke-linecap="round" opacity="0.22"/>
<path d="M309.5,469.1 Q265.0,542.5 266.1,628.3" fill="none" stroke="#868686" stroke-width="13.6" stroke-linecap="round"/>
<path d="M309.5,469.1 Q265.0,542.5 266.1,628.3" fill="none" stroke="#6c6c6c" stroke-width="6.8" stroke-linecap="round"/>
<path d="M431.6,615.9 Q337.1,635.4 281.9,714.5" fill="none" stroke="#000" stroke-width="14.7" stroke-linecap="round" opacity="0.22"/>
<path d="M431.6,615.9 Q337.1,635.4 281.9,714.5" fill="none" stroke="#9a9a9a" stroke-width="11.7" stroke-linecap="round"/>
<path d="M431.6,615.9 Q337.1,635.4 281.9,714.5" fill="none" stroke="#808080" stroke-width="5.8" stroke-linecap="round"/>
<path d="M151.9,559.9 Q224.3,572.6 266.0,633.1" fill="none" stroke="#000" stroke-width="13.7" stroke-linecap="round" opacity="0.22"/>
<path d="M151.9,559.9 Q224.3,572.6 266.0,633.1" fill="none" stroke="#979797" stroke-width="10.7" stroke-linecap="round"/>
<path d="M151.9,559.9 Q224.3,572.6 266.0,633.1" fill="none" stroke="#7d7d7d" stroke-width="5.4" stroke-linecap="round"/>
<path d="M197.5,409.3 Q238.0,517.8 298.5,616.5" fill="none" stroke="#000" stroke-width="13.4" stroke-linecap="round" opacity="0.22"/>
<path d="M197.5,409.3 Q238.0,517.8 298.5,616.5" fill="none" stroke="#858585" stroke-width="10.4" stroke-linecap="round"/>
<path d="M197.5,409.3 Q238.0,517.8 298.5,616.5" fill="none" stroke="#6b6b6b" stroke-width="5.2" stroke-linecap="round"/>
<path d="M372.6,513.8 Q460.3,547.8 512.2,626.4" fill="none" stroke="#000" stroke-width="13.9" stroke-linecap="round" opacity="0.22"/>
<path d="M372.6,513.8 Q460.3,547.8 512.2,626.4" fill="none" stroke="#808080" stroke-width="10.9" stroke-linecap="round"/>
<path d="M372.6,513.8 Q460.3,547.8 512.2,626.4" fill="none" stroke="#666666" stroke-width="5.5" stroke-linecap="round"/>
<path d="M533.7,534.4 Q422.7,612.8 381.4,742.2" fill="none" stroke="#000" stroke-width="12.6" stroke-linecap="round" opacity="0.22"/>
<path d="M533.7,534.4 Q422.7,612.8 381.4,742.2" fill="none" stroke="#7e7e7e" stroke-width="9.6" stroke-linecap="round"/>
<path d="M533.7,534.4 Q422.7,612.8 381.4,742.2" fill="none" stroke="#646464" stroke-width="4.8" stroke-linecap="round"/>
<path d="M87.9,458.9 Q82.5,562.0 123.3,656.8" fill="none" stroke="#000" stroke-width="13.9" stroke-linecap="round" opacity="0.22"/>
<path d="M87.9,458.9 Q82.5,562.0 123.3,656.8" fill="none" stroke="#929292" stroke-width="10.9" stroke-linecap="round"/>
<path d="M87.9,458.9 Q82.5,562.0 123.3,656.8" fill="none" stroke="#787878" stroke-width="5.4" stroke-linecap="round"/>
<path d="M202.8,529.8 Q101.6,559.9 0.9,591.4" fill="none" stroke="#000" stroke-width="14.6" stroke-linecap="round" opacity="0.22"/>
<path d="M202.8,529.8 Q101.6,559.9 0.9,591.4" fill="none" stroke="#9c9c9c" stroke-width="11.6" stroke-linecap="round"/>
<path d="M202.8,529.8 Q101.6,559.9 0.9,591.4" fill="none" stroke="#828282" stroke-width="5.8" stroke-linecap="round"/>
<path d="M376.8,416.4 Q392.6,531.4 417.1,644.7" fill="none" stroke="#000" stroke-width="15.8" stroke-linecap="round" opacity="0.22"/>
<path d="M376.8,416.4 Q392.6,531.4 417.1,644.7" fill="none" stroke="#939393" stroke-width="12.8" stroke-linecap="round"/>
<path d="M376.8,416.4 Q392.6,531.4 417.1,644.7" fill="none" stroke="#797979" stroke-width="6.4" stroke-linecap="round"/>
<path d="M-4.1,648.8 Q95.1,669.3 165.7,742.1" fill="none" stroke="#000" stroke-width="14.7" stroke-linecap="round" opacity="0.22"/>
<path d="M-4.1,648.8 Q95.1,669.3 165.7,742.1" fill="none" stroke="#8d8d8d" stroke-width="11.7" stroke-linecap="round"/>
<path d="M-4.1,648.8 Q95.1,669.3 165.7,742.1" fill="none" stroke="#737373" stroke-width="5.9" stroke-linecap="round"/>
<path d="M297.1,519.8 Q307.5,595.9 299.7,672.3" fill="none" stroke="#000" stroke-width="13.8" stroke-linecap="round" opacity="0.22"/>
<path d="M297.1,519.8 Q307.5,595.9 299.7,672.3" fill="none" stroke="#878787" stroke-width="10.8" stroke-linecap="round"/>
<path d="M297.1,519.8 Q307.5,595.9 299.7,672.3" fill="none" stroke="#6d6d6d" stroke-width="5.4" stroke-linecap="round"/>
<path d="M190.2,566.0 Q156.6,637.1 161.3,715.6" fill="none" stroke="#000" stroke-width="12.1" stroke-linecap="round" opacity="0.22"/>
<path d="M190.2,566.0 Q156.6,637.1 161.3,715.6" fill="none" stroke="#878787" stroke-width="9.1" stroke-linecap="round"/>
<path d="M190.2,566.0 Q156.6,637.1 161.3,715.6" fill="none" stroke="#6d6d6d" stroke-width="4.6" stroke-linecap="round"/>
</g></g>
<g clip-path="url(#clip12)">
<rect x="83.0" y="706.2" width="354.6" height="158.5" fill="#353535" />
<g filter="url(#blur12)">
<path d="M280.6,764.1 Q288.4,838.7 220.0,869.3" fill="none" stroke="#000" stroke-width="17.9" stroke-linecap="round" opacity="0.22"/>
<path d="M280.6,764.1 Q288.4,838.7 220.0,869.3" fill="none" stroke="#757575" stroke-width="14.9" stroke-linecap="round"/>
<path d="M280.6,764.1 Q288.4,838.7 220.0,869.3" fill="none" stroke="#5b5b5b" stroke-width="7.4" stroke-linecap="round"/>
<path d="M380.7,748.6 Q335.4,818.4 253.1,806.5" fill="none" stroke="#000" stroke-width="15.9" stroke-linecap="round" opacity="0.22"/>
<path d="M380.7,748.6 Q335.4,818.4 253.1,806.5" fill="none" stroke="#7d7d7d" stroke-width="12.9" stroke-linecap="round"/>
<path d="M380.7,748.6 Q335.4,818.4 253.1,806.5" fill="none" stroke="#636363" stroke-width="6.4" stroke-linecap="round"/>
<path d="M285.9,703.4 Q228.3,691.0 187.4,733.4" fill="none" stroke="#000" stroke-width="18.1" stroke-linecap="round" opacity="0.22"/>
<path d="M285.9,703.4 Q228.3,691.0 187.4,733.4" fill="none" stroke="#6c6c6c" stroke-width="15.1" stroke-linecap="round"/>
<path d="M285.9,703.4 Q228.3,691.0 187.4,733.4" fill="none" stroke="#525252" stroke-width="7.5" stroke-linecap="round"/>
<path d="M430.2,789.1 Q363.9,791.1 342.3,853.9" fill="none" stroke="#000" stroke-width="20.5" stroke-linecap="round" opacity="0.22"/>
<path d="M430.2,789.1 Q363.9,791.1 342.3,853.9" fill="none" stroke="#848484" stroke-width="17.5" stroke-linecap="round"/>
<path d="M430.2,789.1 Q363.9,791.1 342.3,853.9" fill="none" stroke="#6a6a6a" stroke-width="8.7" stroke-linecap="round"/>
<path d="M412.8,698.2 Q265.2,739.1 114.8,710.3" fill="none" stroke="#000" stroke-width="20.8" stroke-linecap="round" opacity="0.22"/>
<path d="M412.8,698.2 Q265.2,739.1 114.8,710.3" fill="none" stroke="#777777" stroke-width="17.8" stroke-linecap="round"/>
<path d="M412.8,698.2 Q265.2,739.1 114.8,710.3" fill="none" stroke="#5d5d5d" stroke-width="8.9" stroke-linecap="round"/>
<path d="M303.6,711.4 Q241.8,855.0 248.2,1011.1" fill="none" stroke="#000" stroke-width="16.0" stroke-linecap="round" opacity="0.22"/>
<path d="M303.6,711.4 Q241.8,855.0 248.2,1011.1" fill="none" stroke="#7b7b7b" stroke-width="13.0" stroke-linecap="round"/>
<path d="M303.6,711.4 Q241.8,855.0 248.2,1011.1" fill="none" stroke="#616161" stroke-width="6.5" stroke-linecap="round"/>
<path d="M357.0,658.7 Q386.9,765.2 412.8,872.7" fill="none" stroke="#000" stroke-width="18.2" stroke-linecap="round" opacity="0.22"/>
<path d="M357.0,658.7 Q386.9,765.2 412.8,872.7" fill="none" stroke="#767676" stroke-width="15.2" stroke-linecap="round"/>
<path d="M357.0,658.7 Q386.9,765.2 412.8,872.7" fill="none" stroke="#5c5c5c" stroke-width="7.6" stroke-linecap="round"/>
<path d="M207.4,628.0 Q328.0,684.9 424.2,777.2" fill="none" stroke="#000" stroke-width="20.2" stroke-linecap="round" opacity="0.22"/>
<path d="M207.4,628.0 Q328.0,684.9 424.2,777.2" fill="none" stroke="#757575" stroke-width="17.2" stroke-linecap="round"/>
<path d="M207.4,628.0 Q328.0,684.9 424.2,777.2" fill="none" stroke="#5b5b5b" stroke-width="8.6" stroke-linecap="round"/>
<path d="M157.7,689.4 Q223.4,739.6 272.6,806.0" fill="none" stroke="#000" stroke-width="19.9" stroke-linecap="round" opacity="0.22"/>
<path d="M157.7,689.4 Q223.4,739.6 272.6,806.0" fill="none" stroke="#7c7c7c" stroke-width="16.9" stroke-linecap="round"/>
<path d="M157.7,689.4 Q223.4,739.6 272.6,806.0" fill="none" stroke="#626262" stroke-width="8.4" stroke-linecap="round"/>
<path d="M338.6,643.0 Q259.4,690.3 182.0,740.6" fill="none" stroke="#000" stroke-width="19.1" stroke-linecap="round" opacity="0.22"/>
<path d="M338.6,643.0 Q259.4,690.3 182.0,740.6" fill="none" stroke="#717171" stroke-width="16.1" stroke-linecap="round"/>
<path d="M338.6,643.0 Q259.4,690.3 182.0,740.6" fill="none" stroke="#575757" stroke-width="8.0" stroke-linecap="round"/>
<path d="M122.4,606.1 Q103.9,735.1 37.9,847.4" fill="none" stroke="#000" stroke-width="19.2" stroke-linecap="round" opacity="0.22"/>
<path d="M122.4,606.1 Q103.9,735.1 37.9,847.4" fill="none" stroke="#6c6c6c" stroke-width="16.2" stroke-linecap="round"/>
<path d="M122.4,606.1 Q103.9,735.1 37.9,847.4" fill="none" stroke="#525252" stroke-width="8.1" stroke-linecap="round"/>
<path d="M23.4,639.5 Q113.1,722.1 131.6,842.6" fill="none" stroke="#000" stroke-width="17.2" stroke-linecap="round" opacity="0.22"/>
<path d="M23.4,639.5 Q113.1,722.1 131.6,842.6" fill="none" stroke="#787878" stroke-width="14.2" stroke-linecap="round"/>
<path d="M23.4,639.5 Q113.1,722.1 131.6,842.6" fill="none" stroke="#5e5e5e" stroke-width="7.1" stroke-linecap="round"/>
<path d="M277.7,663.3 Q216.1,790.2 116.3,890.0" fill="none" stroke="#000" stroke-width="17.8" stroke-linecap="round" opacity="0.22"/>
<path d="M277.7,663.3 Q216.1,790.2 116.3,890.0" fill="none" stroke="#6f6f6f" stroke-width="14.8" stroke-linecap="round"/>
<path d="M277.7,663.3 Q216.1,790.2 116.3,890.0" fill="none" stroke="#555555" stroke-width="7.4" stroke-linecap="round"/>
<path d="M331.0,676.0 Q273.1,715.2 228.2,768.6" fill="none" stroke="#000" stroke-width="20.5" stroke-linecap="round" opacity="0.22"/>
<path d="M331.0,676.0 Q273.1,715.2 228.2,768.6" fill="none" stroke="#727272" stroke-width="17.5" stroke-linecap="round"/>
<path d="M331.0,676.0 Q273.1,715.2 228.2,768.6" fill="none" stroke="#585858" stroke-width="8.7" stroke-linecap="round"/>
<path d="M459.3,661.7 Q392.9,740.0 299.1,782.0" fill="none" stroke="#000" stroke-width="20.9" stroke-linecap="round" opacity="0.22"/>
<path d="M459.3,661.7 Q392.9,740.0 299.1,782.0" fill="none" stroke="#6d6d6d" stroke-width="17.9" stroke-linecap="round"/>
<path d="M459.3,661.7 Q392.9,740.0 299.1,782.0" fill="none" stroke="#535353" stroke-width="9.0" stroke-linecap="round"/>
<path d="M376.8,780.1 Q455.1,812.0 537.2,792.2" fill="none" stroke="#000" stroke-width="16.7" stroke-linecap="round" opacity="0.22"/>
<path d="M376.8,780.1 Q455.1,812.0 537.2,792.2" fill="none" stroke="#848484" stroke-width="13.7" stroke-linecap="round"/>
<path d="M376.8,780.1 Q455.1,812.0 537.2,792.2" fill="none" stroke="#6a6a6a" stroke-width="6.8" stroke-linecap="round"/>
<path d="M110.3,743.0 Q122.8,841.9 108.9,940.7" fill="none" stroke="#000" stroke-width="20.7" stroke-linecap="round" opacity="0.22"/>
<path d="M110.3,743.0 Q122.8,841.9 108.9,940.7" fill="none" stroke="#7f7f7f" stroke-width="17.7" stroke-linecap="round"/>
<path d="M110.3,743.0 Q122.8,841.9 108.9,940.7" fill="none" stroke="#656565" stroke-width="8.8" stroke-linecap="round"/>
<path d="M329.9,606.6 Q431.7,706.2 501.9,830.2" fill="none" stroke="#000" stroke-width="18.8" stroke-linecap="round" opacity="0.22"/>
<path d="M329.9,606.6 Q431.7,706.2 501.9,830.2" fill="none" stroke="#7a7a7a" stroke-width="15.8" stroke-linecap="round"/>
<path d="M329.9,606.6 Q431.7,706.2 501.9,830.2" fill="none" stroke="#606060" stroke-width="7.9" stroke-linecap="round"/>
<path d="M307.3,767.5 Q270.1,871.9 170.0,919.3" fill="none" stroke="#000" stroke-width="19.2" stroke-linecap="round" opacity="0.22"/>
<path d="M307.3,767.5 Q270.1,871.9 170.0,919.3" fill="none" stroke="#6a6a6a" stroke-width="16.2" stroke-linecap="round"/>
<path d="M307.3,767.5 Q270.1,871.9 170.0,919.3" fill="none" stroke="#505050" stroke-width="8.1" stroke-linecap="round"/>
<path d="M97.3,792.9 Q120.6,860.7 132.7,931.5" fill="none" stroke="#000" stroke-width="18.4" stroke-linecap="round" opacity="0.22"/>
<path d="M97.3,792.9 Q120.6,860.7 132.7,931.5" fill="none" stroke="#6b6b6b" stroke-width="15.4" stroke-linecap="round"/>
<path d="M97.3,792.9 Q120.6,860.7 132.7,931.5" fill="none" stroke="#515151" stroke-width="7.7" stroke-linecap="round"/>
<path d="M437.3,853.5 Q310.4,876.2 181.8,884.1" fill="none" stroke="#000" stroke-width="15.6" stroke-linecap="round" opacity="0.22"/>
<path d="M437.3,853.5 Q310.4,876.2 181.8,884.1" fill="none" stroke="#7c7c7c" stroke-width="12.6" stroke-linecap="round"/>
<path d="M437.3,853.5 Q310.4,876.2 181.8,884.1" fill="none" stroke="#626262" stroke-width="6.3" stroke-linecap="round"/>
<path d="M249.9,575.3 Q210.5,723.5 195.5,876.1" fill="none" stroke="#000" stroke-width="18.4" stroke-linecap="round" opacity="0.22"/>
<path d="M249.9,575.3 Q210.5,723.5 195.5,876.1" fill="none" stroke="#767676" stroke-width="15.4" stroke-linecap="round"/>
<path d="M249.9,575.3 Q210.5,723.5 195.5,876.1" fill="none" stroke="#5c5c5c" stroke-width="7.7" stroke-linecap="round"/>
<path d="M196.5,787.7 Q59.1,793.0 -57.0,866.7" fill="none" stroke="#000" stroke-width="18.2" stroke-linecap="round" opacity="0.22"/>
<path d="M196.5,787.7 Q59.1,793.0 -57.0,866.7" fill="none" stroke="#777777" stroke-width="15.2" stroke-linecap="round"/>
<path d="M196.5,787.7 Q59.1,793.0 -57.0,866.7" fill="none" stroke="#5d5d5d" stroke-width="7.6" stroke-linecap="round"/>
<path d="M294.5,736.0 Q379.5,745.4 454.3,787.0" fill="none" stroke="#000" stroke-width="19.1" stroke-linecap="round" opacity="0.22"/>
<path d="M294.5,736.0 Q379.5,745.4 454.3,787.0" fill="none" stroke="#838383" stroke-width="16.1" stroke-linecap="round"/>
<path d="M294.5,736.0 Q379.5,745.4 454.3,787.0" fill="none" stroke="#696969" stroke-width="8.1" stroke-linecap="round"/>
<path d="M180.8,770.1 Q269.8,826.4 372.6,849.3" fill="none" stroke="#000" stroke-width="18.5" stroke-linecap="round" opacity="0.22"/>
<path d="M180.8,770.1 Q269.8,826.4 372.6,849.3" fill="none" stroke="#767676" stroke-width="15.5" stroke-linecap="round"/>
<path d="M180.8,770.1 Q269.8,826.4 372.6,849.3" fill="none" stroke="#5c5c5c" stroke-width="7.7" stroke-linecap="round"/>
<path d="M12.4,735.9 Q87.0,773.0 170.2,777.7" fill="none" stroke="#000" stroke-width="16.9" stroke-linecap="round" opacity="0.22"/>
<path d="M12.4,735.9 Q87.0,773.0 170.2,777.7" fill="none" stroke="#818181" stroke-width="13.9" stroke-linecap="round"/>
<path d="M12.4,735.9 Q87.0,773.0 170.2,777.7" fill="none" stroke="#676767" stroke-width="6.9" stroke-linecap="round"/>
<path d="M408.5,707.3 Q348.2,842.8 266.6,966.7" fill="none" stroke="#000" stroke-width="16.3" stroke-linecap="round" opacity="0.22"/>
<path d="M408.5,707.3 Q348.2,842.8 266.6,966.7" fill="none" stroke="#6a6a6a" stroke-width="13.3" stroke-linecap="round"/>
<path d="M408.5,707.3 Q348.2,842.8 266.6,966.7" fill="none" stroke="#505050" stroke-width="6.6" stroke-linecap="round"/>
<path d="M200.2,763.0 Q309.5,778.7 417.5,802.1" fill="none" stroke="#000" stroke-width="15.6" stroke-linecap="round" opacity="0.22"/>
<path d="M200.2,763.0 Q309.5,778.7 417.5,802.1" fill="none" stroke="#747474" stroke-width="12.6" stroke-linecap="round"/>
<path d="M200.2,763.0 Q309.5,778.7 417.5,802.1" fill="none" stroke="#5a5a5a" stroke-width="6.3" stroke-linecap="round"/>
<path d="M95.2,751.2 Q136.0,884.4 207.9,1003.9" fill="none" stroke="#000" stroke-width="16.3" stroke-linecap="round" opacity="0.22"/>
<path d="M95.2,751.2 Q136.0,884.4 207.9,1003.9" fill="none" stroke="#737373" stroke-width="13.3" stroke-linecap="round"/>
<path d="M95.2,751.2 Q136.0,884.4 207.9,1003.9" fill="none" stroke="#595959" stroke-width="6.7" stroke-linecap="round"/>
<path d="M462.2,734.6 Q428.2,787.5 388.9,836.7" fill="none" stroke="#000" stroke-width="18.0" stroke-linecap="round" opacity="0.22"/>
<path d="M462.2,734.6 Q428.2,787.5 388.9,836.7" fill="none" stroke="#7d7d7d" stroke-width="15.0" stroke-linecap="round"/>
<path d="M462.2,734.6 Q428.2,787.5 388.9,836.7" fill="none" stroke="#636363" stroke-width="7.5" stroke-linecap="round"/>
<path d="M381.0,746.1 Q326.3,758.4 302.2,809.0" fill="none" stroke="#000" stroke-width="18.2" stroke-linecap="round" opacity="0.22"/>
<path d="M381.0,746.1 Q326.3,758.4 302.2,809.0" fill="none" stroke="#777777" stroke-width="15.2" stroke-linecap="round"/>
<path d="M381.0,746.1 Q326.3,758.4 302.2,809.0" fill="none" stroke="#5d5d5d" stroke-width="7.6" stroke-linecap="round"/>
<path d="M424.5,663.8 Q327.0,742.6 302.3,865.6" fill="none" stroke="#000" stroke-width="18.4" stroke-linecap="round" opacity="0.22"/>
<path d="M424.5,663.8 Q327.0,742.6 302.3,865.6" fill="none" stroke="#7b7b7b" stroke-width="15.4" stroke-linecap="round"/>
<path d="M424.5,663.8 Q327.0,742.6 302.3,865.6" fill="none" stroke="#616161" stroke-width="7.7" stroke-linecap="round"/>
<path d="M56.1,830.5 Q184.2,873.0 316.2,844.4" fill="none" stroke="#000" stroke-width="16.8" stroke-linecap="round" opacity="0.22"/>
<path d="M56.1,830.5 Q184.2,873.0 316.2,844.4" fill="none" stroke="#7e7e7e" stroke-width="13.8" stroke-linecap="round"/>
<path d="M56.1,830.5 Q184.2,873.0 316.2,844.4" fill="none" stroke="#646464" stroke-width="6.9" stroke-linecap="round"/>
<path d="M126.7,659.0 Q157.1,736.7 106.5,803.0" fill="none" stroke="#000" stroke-width="17.2" stroke-linecap="round" opacity="0.22"/>
<path d="M126.7,659.0 Q157.1,736.7 106.5,803.0" fill="none" stroke="#838383" stroke-width="14.2" stroke-linecap="round"/>
<path d="M126.7,659.0 Q157.1,736.7 106.5,803.0" fill="none" stroke="#696969" stroke-width="7.1" stroke-linecap="round"/>
<path d="M139.4,706.4 Q204.0,827.2 309.0,915.1" fill="none" stroke="#000" stroke-width="16.9" stroke-linecap="round" opacity="0.22"/>
<path d="M139.4,706.4 Q204.0,827.2 309.0,915.1" fill="none" stroke="#7d7d7d" stroke-width="13.9" stroke-linecap="round"/>
<path d="M139.4,706.4 Q204.0,827.2 309.0,915.1" fill="none" stroke="#636363" stroke-width="7.0" stroke-linecap="round"/>
<path d="M211.2,760.3 Q100.5,790.9 14.1,866.5" fill="none" stroke="#000" stroke-width="17.5" stroke-linecap="round" opacity="0.22"/>
<path d="M211.2,760.3 Q100.5,790.9 14.1,866.5" fill="none" stroke="#777777" stroke-width="14.5" stroke-linecap="round"/>
<path d="M211.2,760.3 Q100.5,790.9 14.1,866.5" fill="none" stroke="#5d5d5d" stroke-width="7.3" stroke-linecap="round"/>
<path d="M397.0,687.8 Q296.5,724.1 248.7,819.5" fill="none" stroke="#000" stroke-width="19.8" stroke-linecap="round" opacity="0.22"/>
<path d="M397.0,687.8 Q296.5,724.1 248.7,819.5" fill="none" stroke="#848484" stroke-width="16.8" stroke-linecap="round"/>
<path d="M397.0,687.8 Q296.5,724.1 248.7,819.5" fill="none" stroke="#6a6a6a" stroke-width="8.4" stroke-linecap="round"/>
<path d="M24.3,618.0 Q128.5,728.3 235.8,835.8" fill="none" stroke="#000" stroke-width="20.2" stroke-linecap="round" opacity="0.22"/>
<path d="M24.3,618.0 Q128.5,728.3 235.8,835.8" fill="none" stroke="#6b6b6b" stroke-width="17.2" stroke-linecap="round"/>
<path d="M24.3,618.0 Q128.5,728.3 235.8,835.8" fill="none" stroke="#515151" stroke-width="8.6" stroke-linecap="round"/>
<path d="M416.4,714.3 Q291.6,810.1 225.0,952.6" fill="none" stroke="#000" stroke-width="15.8" stroke-linecap="round" opacity="0.22"/>
<path d="M416.4,714.3 Q291.6,810.1 225.0,952.6" fill="none" stroke="#828282" stroke-width="12.8" stroke-linecap="round"/>
<path d="M416.4,714.3 Q291.6,810.1 225.0,952.6" fill="none" stroke="#686868" stroke-width="6.4" stroke-linecap="round"/>
<path d="M292.7,764.2 Q430.8,817.8 516.1,938.9" fill="none" stroke="#000" stroke-width="15.3" stroke-linecap="round" opacity="0.22"/>
<path d="M292.7,764.2 Q430.8,817.8 516.1,938.9" fill="none" stroke="#737373" stroke-width="12.3" stroke-linecap="round"/>
<path d="M292.7,764.2 Q430.8,817.8 516.1,938.9" fill="none" stroke="#595959" stroke-width="6.1" stroke-linecap="round"/>
<path d="M273.6,647.3 Q360.5,756.3 491.9,802.7" fill="none" stroke="#000" stroke-width="19.6" stroke-linecap="round" opacity="0.22"/>
<path d="M273.6,647.3 Q360.5,756.3 491.9,802.7" fill="none" stroke="#6f6f6f" stroke-width="16.6" stroke-linecap="round"/>
<path d="M273.6,647.3 Q360.5,756.3 491.9,802.7" fill="none" stroke="#555555" stroke-width="8.3" stroke-linecap="round"/>
<path d="M360.3,667.0 Q278.6,690.7 196.7,714.1" fill="none" stroke="#000" stroke-width="17.7" stroke-linecap="round" opacity="0.22"/>
<path d="M360.3,667.0 Q278.6,690.7 196.7,714.1" fill="none" stroke="#707070" stroke-width="14.7" stroke-linecap="round"/>
<path d="M360.3,667.0 Q278.6,690.7 196.7,714.1" fill="none" stroke="#565656" stroke-width="7.3" stroke-linecap="round"/>
<path d="M352.7,756.6 Q264.0,805.6 189.7,874.5" fill="none" stroke="#000" stroke-width="17.1" stroke-linecap="round" opacity="0.22"/>
<path d="M352.7,756.6 Q264.0,805.6 189.7,874.5" fill="none" stroke="#787878" stroke-width="14.1" stroke-linecap="round"/>
<path d="M352.7,756.6 Q264.0,805.6 189.7,874.5" fill="none" stroke="#5e5e5e" stroke-width="7.1" stroke-linecap="round"/>
<path d="M440.0,839.6 Q384.3,826.2 349.2,871.4" fill="none" stroke="#000" stroke-width="20.5" stroke-linecap="round" opacity="0.22"/>
<path d="M440.0,839.6 Q384.3,826.2 349.2,871.4" fill="none" stroke="#6a6a6a" stroke-width="17.5" stroke-linecap="round"/>
<path d="M440.0,839.6 Q384.3,826.2 349.2,871.4" fill="none" stroke="#505050" stroke-width="8.8" stroke-linecap="round"/>
<path d="M341.5,731.9 Q243.4,846.8 172.4,980.1" fill="none" stroke="#000" stroke-width="18.3" stroke-linecap="round" opacity="0.22"/>
<path d="M341.5,731.9 Q243.4,846.8 172.4,980.1" fill="none" stroke="#777777" stroke-width="15.3" stroke-linecap="round"/>
<path d="M341.5,731.9 Q243.4,846.8 172.4,980.1" fill="none" stroke="#5d5d5d" stroke-width="7.6" stroke-linecap="round"/>
<path d="M300.7,728.0 Q445.9,747.3 585.0,793.3" fill="none" stroke="#000" stroke-width="15.6" stroke-linecap="round" opacity="0.22"/>
<path d="M300.7,728.0 Q445.9,747.3 585.0,793.3" fill="none" stroke="#717171" stroke-width="12.6" stroke-linecap="round"/>
<path d="M300.7,728.0 Q445.9,747.3 585.0,793.3" fill="none" stroke="#575757" stroke-width="6.3" stroke-linecap="round"/>
<path d="M23.8,695.5 Q97.2,662.6 168.7,699.3" fill="none" stroke="#000" stroke-width="18.4" stroke-linecap="round" opacity="0.22"/>
<path d="M23.8,695.5 Q97.2,662.6 168.7,699.3" fill="none" stroke="#7f7f7f" stroke-width="15.4" stroke-linecap="round"/>
<path d="M23.8,695.5 Q97.2,662.6 168.7,699.3" fill="none" stroke="#656565" stroke-width="7.7" stroke-linecap="round"/>
<path d="M490.2,707.4 Q389.1,810.7 364.6,953.2" fill="none" stroke="#000" stroke-width="16.4" stroke-linecap="round" opacity="0.22"/>
<path d="M490.2,707.4 Q389.1,810.7 364.6,953.2" fill="none" stroke="#7c7c7c" stroke-width="13.4" stroke-linecap="round"/>
<path d="M490.2,707.4 Q389.1,810.7 364.6,953.2" fill="none" stroke="#626262" stroke-width="6.7" stroke-linecap="round"/>
<path d="M326.3,703.1 Q432.6,775.1 530.6,858.1" fill="none" stroke="#000" stroke-width="20.0" stroke-linecap="round" opacity="0.22"/>
<path d="M326.3,703.1 Q432.6,775.1 530.6,858.1" fill="none" stroke="#7b7b7b" stroke-width="17.0" stroke-linecap="round"/>
<path d="M326.3,703.1 Q432.6,775.1 530.6,858.1" fill="none" stroke="#616161" stroke-width="8.5" stroke-linecap="round"/>
<path d="M417.4,691.3 Q413.8,782.5 340.1,836.2" fill="none" stroke="#000" stroke-width="19.6" stroke-linecap="round" opacity="0.22"/>
<path d="M417.4,691.3 Q413.8,782.5 340.1,836.2" fill="none" stroke="#838383" stroke-width="16.6" stroke-linecap="round"/>
<path d="M417.4,691.3 Q413.8,782.5 340.1,836.2" fill="none" stroke="#696969" stroke-width="8.3" stroke-linecap="round"/>
<path d="M344.5,640.0 Q424.1,763.4 518.2,876.2" fill="none" stroke="#000" stroke-width="16.7" stroke-linecap="round" opacity="0.22"/>
<path d="M344.5,640.0 Q424.1,763.4 518.2,876.2" fill="none" stroke="#7f7f7f" stroke-width="13.7" stroke-linecap="round"/>
<path d="M344.5,640.0 Q424.1,763.4 518.2,876.2" fill="none" stroke="#656565" stroke-width="6.8" stroke-linecap="round"/>
<path d="M124.5,629.9 Q149.3,709.0 157.4,791.4" fill="none" stroke="#000" stroke-width="17.0" stroke-linecap="round" opacity="0.22"/>
<path d="M124.5,629.9 Q149.3,709.0 157.4,791.4" fill="none" stroke="#747474" stroke-width="14.0" stroke-linecap="round"/>
<path d="M124.5,629.9 Q149.3,709.0 157.4,791.4" fill="none" stroke="#5a5a5a" stroke-width="7.0" stroke-linecap="round"/>
<path d="M311.9,854.2 Q214.5,884.8 115.3,860.6" fill="none" stroke="#000" stroke-width="18.8" stroke-linecap="round" opacity="0.22"/>
<path d="M311.9,854.2 Q214.5,884.8 115.3,860.6" fill="none" stroke="#7d7d7d" stroke-width="15.8" stroke-linecap="round"/>
<path d="M311.9,854.2 Q214.5,884.8 115.3,860.6" fill="none" stroke="#636363" stroke-width="7.9" stroke-linecap="round"/>
<path d="M272.0,633.7 Q302.4,701.7 343.0,764.2" fill="none" stroke="#000" stroke-width="18.2" stroke-linecap="round" opacity="0.22"/>
<path d="M272.0,633.7 Q302.4,701.7 343.0,764.2" fill="none" stroke="#848484" stroke-width="15.2" stroke-linecap="round"/>
<path d="M272.0,633.7 Q302.4,701.7 343.0,764.2" fill="none" stroke="#6a6a6a" stroke-width="7.6" stroke-linecap="round"/>
<path d="M374.8,769.3 Q464.3,808.9 502.7,898.9" fill="none" stroke="#000" stroke-width="18.5" stroke-linecap="round" opacity="0.22"/>
<path d="M374.8,769.3 Q464.3,808.9 502.7,898.9" fill="none" stroke="#818181" stroke-width="15.5" stroke-linecap="round"/>
<path d="M374.8,769.3 Q464.3,808.9 502.7,898.9" fill="none" stroke="#676767" stroke-width="7.8" stroke-linecap="round"/>
<path d="M157.3,704.8 Q266.8,740.4 357.3,811.5" fill="none" stroke="#000" stroke-width="16.9" stroke-linecap="round" opacity="0.22"/>
<path d="M157.3,704.8 Q266.8,740.4 357.3,811.5" fill="none" stroke="#747474" stroke-width="13.9" stroke-linecap="round"/>
<path d="M157.3,704.8 Q266.8,740.4 357.3,811.5" fill="none" stroke="#5a5a5a" stroke-width="6.9" stroke-linecap="round"/>
<path d="M152.1,797.9 Q206.1,882.4 254.0,970.6" fill="none" stroke="#000" stroke-width="18.7" stroke-linecap="round" opacity="0.22"/>
<path d="M152.1,797.9 Q206.1,882.4 254.0,970.6" fill="none" stroke="#6f6f6f" stroke-width="15.7" stroke-linecap="round"/>
<path d="M152.1,797.9 Q206.1,882.4 254.0,970.6" fill="none" stroke="#555555" stroke-width="7.9" stroke-linecap="round"/>
<path d="M455.6,768.1 Q384.0,860.9 372.2,977.6" fill="none" stroke="#000" stroke-width="16.8" stroke-linecap="round" opacity="0.22"/>
<path d="M455.6,768.1 Q384.0,860.9 372.2,977.6" fill="none" stroke="#6e6e6e" stroke-width="13.8" stroke-linecap="round"/>
<path d="M455.6,768.1 Q384.0,860.9 372.2,977.6" fill="none" stroke="#545454" stroke-width="6.9" stroke-linecap="round"/>
<path d="M161.9,720.2 Q181.6,820.9 226.4,913.2" fill="none" stroke="#000" stroke-width="20.0" stroke-linecap="round" opacity="0.22"/>
<path d="M161.9,720.2 Q181.6,820.9 226.4,913.2" fill="none" stroke="#6c6c6c" stroke-width="17.0" stroke-linecap="round"/>
<path d="M161.9,720.2 Q181.6,820.9 226.4,913.2" fill="none" stroke="#525252" stroke-width="8.5" stroke-linecap="round"/>
<path d="M184.7,809.6 Q288.5,825.9 356.0,906.4" fill="none" stroke="#000" stroke-width="16.0" stroke-linecap="round" opacity="0.22"/>
<path d="M184.7,809.6 Q288.5,825.9 356.0,906.4" fill="none" stroke="#737373" stroke-width="13.0" stroke-linecap="round"/>
<path d="M184.7,809.6 Q288.5,825.9 356.0,906.4" fill="none" stroke="#595959" stroke-width="6.5" stroke-linecap="round"/>
<path d="M298.0,708.5 Q249.0,766.3 173.9,776.1" fill="none" stroke="#000" stroke-width="15.7" stroke-linecap="round" opacity="0.22"/>
<path d="M298.0,708.5 Q249.0,766.3 173.9,776.1" fill="none" stroke="#7e7e7e" stroke-width="12.7" stroke-linecap="round"/>
<path d="M298.0,708.5 Q249.0,766.3 173.9,776.1" fill="none" stroke="#646464" stroke-width="6.4" stroke-linecap="round"/>
<path d="M201.5,665.5 Q170.6,745.4 91.9,779.6" fill="none" stroke="#000" stroke-width="17.4" stroke-linecap="round" opacity="0.22"/>
<path d="M201.5,665.5 Q170.6,745.4 91.9,779.6" fill="none" stroke="#797979" stroke-width="14.4" stroke-linecap="round"/>
<path d="M201.5,665.5 Q170.6,745.4 91.9,779.6" fill="none" stroke="#5f5f5f" stroke-width="7.2" stroke-linecap="round"/>
<path d="M326.5,657.9 Q264.9,772.2 166.8,857.1" fill="none" stroke="#000" stroke-width="19.7" stroke-linecap="round" opacity="0.22"/>
<path d="M326.5,657.9 Q264.9,772.2 166.8,857.1" fill="none" stroke="#7a7a7a" stroke-width="16.7" stroke-linecap="round"/>
<path d="M326.5,657.9 Q264.9,772.2 166.8,857.1" fill="none" stroke="#606060" stroke-width="8.4" stroke-linecap="round"/>
<path d="M341.1,709.2 Q265.6,826.1 167.6,924.9" fill="none" stroke="#000" stroke-width="16.8" stroke-linecap="round" opacity="0.22"/>
<path d="M341.1,709.2 Q265.6,826.1 167.6,924.9" fill="none" stroke="#767676" stroke-width="13.8" stroke-linecap="round"/>
<path d="M341.1,709.2 Q265.6,826.1 167.6,924.9" fill="none" stroke="#5c5c5c" stroke-width="6.9" stroke-linecap="round"/>
<path d="M142.2,809.0 Q46.9,829.7 3.3,916.9" fill="none" stroke="#000" stroke-width="15.9" stroke-linecap="round" opacity="0.22"/>
<path d="M142.2,809.0 Q46.9,829.7 3.3,916.9" fill="none" stroke="#797979" stroke-width="12.9" stroke-linecap="round"/>
<path d="M142.2,809.0 Q46.9,829.7 3.3,916.9" fill="none" stroke="#5f5f5f" stroke-width="6.5" stroke-linecap="round"/>
<path d="M352.7,708.4 Q399.6,765.5 433.7,831.1" fill="none" stroke="#000" stroke-width="15.9" stroke-linecap="round" opacity="0.22"/>
<path d="M352.7,708.4 Q399.6,765.5 433.7,831.1" fill="none" stroke="#6b6b6b" stroke-width="12.9" stroke-linecap="round"/>
<path d="M352.7,708.4 Q399.6,765.5 433.7,831.1" fill="none" stroke="#515151" stroke-width="6.4" stroke-linecap="round"/>
<path d="M192.9,744.1 Q224.2,809.6 290.6,839.2" fill="none" stroke="#000" stroke-width="17.3" stroke-linecap="round" opacity="0.22"/>
<path d="M192.9,744.1 Q224.2,809.6 290.6,839.2" fill="none" stroke="#7b7b7b" stroke-width="14.3" stroke-linecap="round"/>
<path d="M192.9,744.1 Q224.2,809.6 290.6,839.2" fill="none" stroke="#616161" stroke-width="7.1" stroke-linecap="round"/>
<path d="M316.2,792.8 Q261.6,829.5 196.7,818.3" fill="none" stroke="#000" stroke-width="20.5" stroke-linecap="round" opacity="0.22"/>
<path d="M316.2,792.8 Q261.6,829.5 196.7,818.3" fill="none" stroke="#7a7a7a" stroke-width="17.5" stroke-linecap="round"/>
<path d="M316.2,792.8 Q261.6,829.5 196.7,818.3" fill="none" stroke="#606060" stroke-width="8.7" stroke-linecap="round"/>
<path d="M404.0,731.0 Q396.9,806.1 457.4,851.2" fill="none" stroke="#000" stroke-width="20.1" stroke-linecap="round" opacity="0.22"/>
<path d="M404.0,731.0 Q396.9,806.1 457.4,851.2" fill="none" stroke="#828282" stroke-width="17.1" stroke-linecap="round"/>
<path d="M404.0,731.0 Q396.9,806.1 457.4,851.2" fill="none" stroke="#686868" stroke-width="8.5" stroke-linecap="round"/>
<path d="M1.3,722.4 Q106.3,728.6 210.2,744.9" fill="none" stroke="#000" stroke-width="18.7" stroke-linecap="round" opacity="0.22"/>
<path d="M1.3,722.4 Q106.3,728.6 210.2,744.9" fill="none" stroke="#797979" stroke-width="15.7" stroke-linecap="round"/>
<path d="M1.3,722.4 Q106.3,728.6 210.2,744.9" fill="none" stroke="#5f5f5f" stroke-width="7.9" stroke-linecap="round"/>
<path d="M237.5,796.5 Q138.9,857.5 34.8,908.5" fill="none" stroke="#000" stroke-width="20.9" stroke-linecap="round" opacity="0.22"/>
<path d="M237.5,796.5 Q138.9,857.5 34.8,908.5" fill="none" stroke="#6a6a6a" stroke-width="17.9" stroke-linecap="round"/>
<path d="M237.5,796.5 Q138.9,857.5 34.8,908.5" fill="none" stroke="#505050" stroke-width="9.0" stroke-linecap="round"/>
<path d="M113.2,825.5 Q204.8,888.9 315.9,881.0" fill="none" stroke="#000" stroke-width="18.4" stroke-linecap="round" opacity="0.22"/>
<path d="M113.2,825.5 Q204.8,888.9 315.9,881.0" fill="none" stroke="#787878" stroke-width="15.4" stroke-linecap="round"/>
<path d="M113.2,825.5 Q204.8,888.9 315.9,881.0" fill="none" stroke="#5e5e5e" stroke-width="7.7" stroke-linecap="round"/>
</g></g>
<text x="92.7" y="562.8" font-size="20" fill="#ffffff" textLength="131.0" lengthAdjust="spacingAndGlyphs">Pristine NCNT</text>
<text x="92.7" y="736.2" font-size="20" fill="#ffffff" textLength="109.0" lengthAdjust="spacingAndGlyphs">Used NCNT</text>
<path d="M234.7,595.5 L257.7,595.5 M246.2,583.0 L246.2,608.0" fill="none" stroke="#ffffff" stroke-width="2" />
<path d="M244.3,780 L267.3,780 M255.8,767.5 L255.8,792.5" fill="none" stroke="#ffffff" stroke-width="2" />
<line x1="282.6" y1="626.0" x2="256.5" y2="605.0" stroke="#ffffff" stroke-width="2" />
<path d="M256.5,605.0 L265.3,607.0 L260.4,613.1 Z" fill="#ffffff" />
<line x1="293.7" y1="817.8" x2="271.5" y2="790.5" stroke="#ffffff" stroke-width="2" />
<path d="M271.5,790.5 L279.7,794.3 L273.6,799.3 Z" fill="#ffffff" />
<text x="239.5" y="653.8" font-size="20" fill="#ffffff" textLength="87.0" lengthAdjust="spacingAndGlyphs">0.66 At%</text>
<text x="260.0" y="840.5" font-size="20" fill="#ffffff" textLength="85.0" lengthAdjust="spacingAndGlyphs">5.58 At%</text>
<path d="M94.7,665.4 L94.7,678.8 L216.5,678.8 L216.5,665.4" fill="none" stroke="#ffffff" stroke-width="1.5" />
<path d="M95.6,836.7 L95.6,849.8 L217.4,849.8 L217.4,836.7" fill="none" stroke="#ffffff" stroke-width="1.5" />
<text x="115.0" y="672.0" font-size="20" fill="#ffffff" textLength="74.0" lengthAdjust="spacingAndGlyphs">200 nm</text>
<text x="116.5" y="843.0" font-size="20" fill="#ffffff" textLength="74.0" lengthAdjust="spacingAndGlyphs">200 nm</text>
<text x="521.5" y="529.7" font-size="38.5" font-weight="bold" stroke="#231f20" stroke-width="1.2">f</text>
<rect x="606.8" y="531.0" width="139.0" height="336.5" fill="#f0ecf5" />
<rect x="745.8" y="531.0" width="137.7" height="336.5" fill="#fefcf0" />
<rect x="883.5" y="531.0" width="138.4" height="336.5" fill="#f0ecf5" />
<rect x="1021.9" y="531.0" width="137.8" height="336.5" fill="#fefcf0" />
<rect x="1159.7" y="531.0" width="138.1" height="336.5" fill="#f0ecf5" />
<rect x="1297.8" y="531.0" width="143.2" height="336.5" fill="#fefcf0" />
<line x1="745.8" y1="534.0" x2="745.8" y2="867.5" stroke="#111" stroke-width="1.9" stroke-dasharray="7.2,7.9"/>
<line x1="883.5" y1="534.0" x2="883.5" y2="867.5" stroke="#111" stroke-width="1.9" stroke-dasharray="7.2,7.9"/>
<line x1="1021.9" y1="534.0" x2="1021.9" y2="867.5" stroke="#111" stroke-width="1.9" stroke-dasharray="7.2,7.9"/>
<line x1="1159.7" y1="534.0" x2="1159.7" y2="867.5" stroke="#111" stroke-width="1.9" stroke-dasharray="7.2,7.9"/>
<line x1="1297.8" y1="534.0" x2="1297.8" y2="867.5" stroke="#111" stroke-width="1.9" stroke-dasharray="7.2,7.9"/>
<rect x="606.8" y="531.0" width="834.2" height="336.5" fill="none" stroke="#333" stroke-width="1.5" />
<line x1="606.8" y1="867.5" x2="606.8" y2="875.5" stroke="#333" stroke-width="1.5" />
<text x="606.8" y="900.0" font-size="20.5" text-anchor="middle">0</text>
<line x1="745.9" y1="867.5" x2="745.9" y2="875.5" stroke="#333" stroke-width="1.5" />
<text x="745.9" y="900.0" font-size="20.5" text-anchor="middle">30</text>
<line x1="885.0" y1="867.5" x2="885.0" y2="875.5" stroke="#333" stroke-width="1.5" />
<text x="885.0" y="900.0" font-size="20.5" text-anchor="middle">60</text>
<line x1="1024.1" y1="867.5" x2="1024.1" y2="875.5" stroke="#333" stroke-width="1.5" />
<text x="1024.1" y="900.0" font-size="20.5" text-anchor="middle">90</text>
<line x1="1163.2" y1="867.5" x2="1163.2" y2="875.5" stroke="#333" stroke-width="1.5" />
<text x="1163.2" y="900.0" font-size="20.5" text-anchor="middle">120</text>
<line x1="1302.3" y1="867.5" x2="1302.3" y2="875.5" stroke="#333" stroke-width="1.5" />
<text x="1302.3" y="900.0" font-size="20.5" text-anchor="middle">150</text>
<line x1="1441.4" y1="867.5" x2="1441.4" y2="875.5" stroke="#333" stroke-width="1.5" />
<text x="1441.4" y="900.0" font-size="20.5" text-anchor="middle">180</text>
<line x1="598.8" y1="867.5" x2="606.8" y2="867.5" stroke="#333" stroke-width="1.5" />
<text x="591.5" y="874.8" font-size="20.5" text-anchor="end">0</text>
<line x1="598.8" y1="806.4" x2="606.8" y2="806.4" stroke="#333" stroke-width="1.5" />
<text x="591.5" y="813.7" font-size="20.5" text-anchor="end">0.2</text>
<line x1="598.8" y1="745.3" x2="606.8" y2="745.3" stroke="#333" stroke-width="1.5" />
<text x="591.5" y="752.6" font-size="20.5" text-anchor="end">0.4</text>
<line x1="598.8" y1="684.2" x2="606.8" y2="684.2" stroke="#333" stroke-width="1.5" />
<text x="591.5" y="691.5" font-size="20.5" text-anchor="end">0.6</text>
<line x1="598.8" y1="623.1" x2="606.8" y2="623.1" stroke="#333" stroke-width="1.5" />
<text x="591.5" y="630.4" font-size="20.5" text-anchor="end">0.8</text>
<line x1="598.8" y1="562.0" x2="606.8" y2="562.0" stroke="#333" stroke-width="1.5" />
<text x="591.5" y="569.3" font-size="20.5" text-anchor="end">1.0</text>
<text x="990.0" y="937.2" font-size="22" font-style="italic">t</text>
<text x="1001.4" y="937.2" font-size="22" textLength="59.0" lengthAdjust="spacingAndGlyphs">(min)</text>
<text transform="translate(546 700) rotate(-90)" text-anchor="middle" font-size="25" textLength="61" lengthAdjust="spacingAndGlyphs"><tspan font-style="italic">C</tspan><tspan font-size="15" dy="5">t</tspan><tspan dy="-5">/</tspan><tspan font-style="italic">C</tspan><tspan font-size="15" dy="5">0</tspan></text>
<path d="M606.8,562.0 C608.3,578.3 612.2,634.3 616.1,659.8 C619.9,685.2 623.8,691.3 630.0,714.8 C636.2,738.2 645.4,779.8 653.2,800.3 C660.9,820.8 668.6,829.6 676.3,837.9 C684.1,846.2 691.8,846.7 699.5,850.1 C707.3,853.5 715.0,855.4 722.7,858.3 C730.4,861.2 742.0,866.0 745.9,867.5" fill="none" stroke="#c6b7da" stroke-width="2.6" stroke-dasharray="9,5.5"/>
<rect x="599.5" y="554.7" width="14.6" height="14.6" fill="none" stroke="#c6b7da" stroke-width="2.8" />
<circle cx="606.8" cy="562.0" r="1.8" fill="#c6b7da" />
<rect x="608.8" y="652.5" width="14.6" height="14.6" fill="none" stroke="#c6b7da" stroke-width="2.8" />
<circle cx="616.1" cy="659.8" r="1.8" fill="#c6b7da" />
<rect x="622.7" y="707.5" width="14.6" height="14.6" fill="none" stroke="#c6b7da" stroke-width="2.8" />
<circle cx="630.0" cy="714.8" r="1.8" fill="#c6b7da" />
<rect x="645.9" y="793.0" width="14.6" height="14.6" fill="none" stroke="#c6b7da" stroke-width="2.8" />
<circle cx="653.2" cy="800.3" r="1.8" fill="#c6b7da" />
<rect x="669.0" y="830.6" width="14.6" height="14.6" fill="none" stroke="#c6b7da" stroke-width="2.8" />
<circle cx="676.3" cy="837.9" r="1.8" fill="#c6b7da" />
<rect x="692.2" y="842.8" width="14.6" height="14.6" fill="none" stroke="#c6b7da" stroke-width="2.8" />
<circle cx="699.5" cy="850.1" r="1.8" fill="#c6b7da" />
<rect x="715.4" y="851.0" width="14.6" height="14.6" fill="none" stroke="#c6b7da" stroke-width="2.8" />
<circle cx="722.7" cy="858.3" r="1.8" fill="#c6b7da" />
<rect x="738.6" y="860.2" width="14.6" height="14.6" fill="none" stroke="#c6b7da" stroke-width="2.8" />
<circle cx="745.9" cy="867.5" r="1.8" fill="#c6b7da" />
<path d="M745.9,562.0 C747.4,571.2 751.3,595.6 755.2,617.0 C759.0,638.4 762.9,665.1 769.1,690.3 C775.3,715.5 784.5,749.6 792.3,768.2 C800.0,786.8 807.7,790.4 815.4,801.8 C823.2,813.3 830.9,827.9 838.6,837.0 C846.4,846.0 854.1,851.3 861.8,855.9 C869.5,860.5 881.1,863.0 885.0,864.4" fill="none" stroke="#c6b7da" stroke-width="2.6" stroke-dasharray="9,5.5"/>
<path d="M745.9,553.5 L737.6,568.0 L754.2,568.0 Z" fill="none" stroke="#c6b7da" stroke-width="2.8" />
<circle cx="745.9" cy="562.0" r="1.8" fill="#c6b7da" />
<path d="M755.2,608.5 L746.9,623.0 L763.5,623.0 Z" fill="none" stroke="#c6b7da" stroke-width="2.8" />
<circle cx="755.2" cy="617.0" r="1.8" fill="#c6b7da" />
<path d="M769.1,681.8 L760.8,696.3 L777.4,696.3 Z" fill="none" stroke="#c6b7da" stroke-width="2.8" />
<circle cx="769.1" cy="690.3" r="1.8" fill="#c6b7da" />
<path d="M792.3,759.7 L784.0,774.2 L800.6,774.2 Z" fill="none" stroke="#c6b7da" stroke-width="2.8" />
<circle cx="792.3" cy="768.2" r="1.8" fill="#c6b7da" />
<path d="M815.4,793.3 L807.1,807.8 L823.7,807.8 Z" fill="none" stroke="#c6b7da" stroke-width="2.8" />
<circle cx="815.4" cy="801.8" r="1.8" fill="#c6b7da" />
<path d="M838.6,828.5 L830.3,843.0 L846.9,843.0 Z" fill="none" stroke="#c6b7da" stroke-width="2.8" />
<circle cx="838.6" cy="837.0" r="1.8" fill="#c6b7da" />
<path d="M861.8,847.4 L853.5,861.9 L870.1,861.9 Z" fill="none" stroke="#c6b7da" stroke-width="2.8" />
<circle cx="861.8" cy="855.9" r="1.8" fill="#c6b7da" />
<path d="M885.0,855.9 L876.7,870.4 L893.3,870.4 Z" fill="none" stroke="#c6b7da" stroke-width="2.8" />
<circle cx="885.0" cy="864.4" r="1.8" fill="#c6b7da" />
<path d="M885.0,562.0 C886.5,564.5 890.4,568.6 894.3,577.3 C898.1,585.9 902.0,605.8 908.2,613.9 C914.4,622.1 923.6,620.6 931.4,626.2 C939.1,631.8 946.8,640.2 954.5,647.5 C962.3,654.9 970.0,662.8 977.7,670.5 C985.5,678.1 993.2,686.7 1000.9,693.4 C1008.6,700.0 1020.2,707.4 1024.1,710.2" fill="none" stroke="#c6b7da" stroke-width="2.6" stroke-dasharray="9,5.5"/>
<path d="M885.0,553.5 L893.5,562.0 L885.0,570.5 L876.5,562.0 Z" fill="none" stroke="#c6b7da" stroke-width="2.6" />
<circle cx="885.0" cy="562.0" r="1.8" fill="#c6b7da" />
<path d="M894.3,568.8 L902.8,577.3 L894.3,585.8 L885.8,577.3 Z" fill="none" stroke="#c6b7da" stroke-width="2.6" />
<circle cx="894.3" cy="577.3" r="1.8" fill="#c6b7da" />
<path d="M908.2,605.4 L916.7,613.9 L908.2,622.4 L899.7,613.9 Z" fill="none" stroke="#c6b7da" stroke-width="2.6" />
<circle cx="908.2" cy="613.9" r="1.8" fill="#c6b7da" />
<path d="M931.4,617.7 L939.9,626.2 L931.4,634.7 L922.9,626.2 Z" fill="none" stroke="#c6b7da" stroke-width="2.6" />
<circle cx="931.4" cy="626.2" r="1.8" fill="#c6b7da" />
<path d="M954.5,639.0 L963.0,647.5 L954.5,656.0 L946.0,647.5 Z" fill="none" stroke="#c6b7da" stroke-width="2.6" />
<circle cx="954.5" cy="647.5" r="1.8" fill="#c6b7da" />
<path d="M977.7,662.0 L986.2,670.5 L977.7,679.0 L969.2,670.5 Z" fill="none" stroke="#c6b7da" stroke-width="2.6" />
<circle cx="977.7" cy="670.5" r="1.8" fill="#c6b7da" />
<path d="M1000.9,684.9 L1009.4,693.4 L1000.9,701.9 L992.4,693.4 Z" fill="none" stroke="#c6b7da" stroke-width="2.6" />
<circle cx="1000.9" cy="693.4" r="1.8" fill="#c6b7da" />
<path d="M1024.1,701.7 L1032.6,710.2 L1024.1,718.7 L1015.6,710.2 Z" fill="none" stroke="#c6b7da" stroke-width="2.6" />
<circle cx="1024.1" cy="710.2" r="1.8" fill="#c6b7da" />
<path d="M1024.1,562.0 C1025.6,564.1 1029.5,570.1 1033.4,574.5 C1037.2,578.9 1041.1,583.3 1047.3,588.3 C1053.5,593.2 1062.7,597.4 1070.5,604.2 C1078.2,610.9 1085.9,620.4 1093.7,628.9 C1101.4,637.5 1109.1,649.3 1116.8,655.5 C1124.6,661.6 1132.3,661.3 1140.0,665.9 C1147.7,670.5 1159.3,680.1 1163.2,683.0" fill="none" stroke="#c6b7da" stroke-width="2.6" stroke-dasharray="9,5.5"/>
<circle cx="1024.1" cy="562.0" r="6.8" fill="none" stroke="#c6b7da" stroke-width="2.2" />
<circle cx="1024.1" cy="562.0" r="1.8" fill="#c6b7da" />
<circle cx="1033.4" cy="574.5" r="6.8" fill="none" stroke="#c6b7da" stroke-width="2.2" />
<circle cx="1033.4" cy="574.5" r="1.8" fill="#c6b7da" />
<line x1="1047.3" y1="579.1" x2="1047.3" y2="597.4" stroke="#c6b7da" stroke-width="2" />
<circle cx="1047.3" cy="588.3" r="6.8" fill="none" stroke="#c6b7da" stroke-width="2.2" />
<circle cx="1047.3" cy="588.3" r="1.8" fill="#c6b7da" />
<line x1="1070.5" y1="598.0" x2="1070.5" y2="610.3" stroke="#c6b7da" stroke-width="2" />
<circle cx="1070.5" cy="604.2" r="6.8" fill="none" stroke="#c6b7da" stroke-width="2.2" />
<circle cx="1070.5" cy="604.2" r="1.8" fill="#c6b7da" />
<circle cx="1093.7" cy="628.9" r="6.8" fill="none" stroke="#c6b7da" stroke-width="2.2" />
<circle cx="1093.7" cy="628.9" r="1.8" fill="#c6b7da" />
<circle cx="1116.8" cy="655.5" r="6.8" fill="none" stroke="#c6b7da" stroke-width="2.2" />
<circle cx="1116.8" cy="655.5" r="1.8" fill="#c6b7da" />
<circle cx="1140.0" cy="665.9" r="6.8" fill="none" stroke="#c6b7da" stroke-width="2.2" />
<circle cx="1140.0" cy="665.9" r="1.8" fill="#c6b7da" />
<circle cx="1163.2" cy="683.0" r="6.8" fill="none" stroke="#c6b7da" stroke-width="2.2" />
<circle cx="1163.2" cy="683.0" r="1.8" fill="#c6b7da" />
<path d="M1163.2,562.0 C1164.7,564.2 1168.6,573.1 1172.5,575.1 C1176.3,577.2 1180.2,571.5 1186.4,574.2 C1192.6,577.0 1201.8,588.6 1209.6,591.6 C1217.3,594.7 1225.0,589.3 1232.8,592.5 C1240.5,595.8 1248.2,605.6 1255.9,610.9 C1263.7,616.2 1271.4,619.9 1279.1,624.3 C1286.8,628.8 1298.4,635.3 1302.3,637.5" fill="none" stroke="#c6b7da" stroke-width="2.6" stroke-dasharray="9,5.5"/>
<path d="M1163.2,553.5 L1154.9,568.0 L1171.5,568.0 Z" fill="none" stroke="#c6b7da" stroke-width="2.8" />
<circle cx="1163.2" cy="562.0" r="1.8" fill="#c6b7da" />
<line x1="1172.5" y1="559.9" x2="1172.5" y2="590.4" stroke="#c6b7da" stroke-width="2" />
<path d="M1172.5,566.6 L1164.2,581.1 L1180.8,581.1 Z" fill="none" stroke="#c6b7da" stroke-width="2.8" />
<circle cx="1172.5" cy="575.1" r="1.8" fill="#c6b7da" />
<line x1="1186.4" y1="568.1" x2="1186.4" y2="580.3" stroke="#c6b7da" stroke-width="2" />
<path d="M1186.4,565.7 L1178.1,580.2 L1194.7,580.2 Z" fill="none" stroke="#c6b7da" stroke-width="2.8" />
<circle cx="1186.4" cy="574.2" r="1.8" fill="#c6b7da" />
<path d="M1209.6,583.1 L1201.3,597.6 L1217.9,597.6 Z" fill="none" stroke="#c6b7da" stroke-width="2.8" />
<circle cx="1209.6" cy="591.6" r="1.8" fill="#c6b7da" />
<line x1="1232.8" y1="574.2" x2="1232.8" y2="610.9" stroke="#c6b7da" stroke-width="2" />
<path d="M1232.8,584.0 L1224.5,598.5 L1241.0,598.5 Z" fill="none" stroke="#c6b7da" stroke-width="2.8" />
<circle cx="1232.8" cy="592.5" r="1.8" fill="#c6b7da" />
<path d="M1255.9,602.4 L1247.6,616.9 L1264.2,616.9 Z" fill="none" stroke="#c6b7da" stroke-width="2.8" />
<circle cx="1255.9" cy="610.9" r="1.8" fill="#c6b7da" />
<path d="M1279.1,615.8 L1270.8,630.3 L1287.4,630.3 Z" fill="none" stroke="#c6b7da" stroke-width="2.8" />
<circle cx="1279.1" cy="624.3" r="1.8" fill="#c6b7da" />
<path d="M1302.3,629.0 L1294.0,643.5 L1310.6,643.5 Z" fill="none" stroke="#c6b7da" stroke-width="2.8" />
<circle cx="1302.3" cy="637.5" r="1.8" fill="#c6b7da" />
<path d="M1302.3,562.0 C1303.8,562.6 1307.7,561.3 1311.6,565.4 C1315.4,569.4 1319.3,581.1 1325.5,586.4 C1331.7,591.8 1340.9,595.7 1348.7,597.4 C1356.4,599.2 1364.1,597.1 1371.8,596.8 C1379.6,596.5 1387.3,595.6 1395.0,595.6 C1402.8,595.6 1410.5,595.4 1418.2,596.8 C1425.9,598.3 1437.5,602.9 1441.4,604.2" fill="none" stroke="#c6b7da" stroke-width="2.6" stroke-dasharray="9,5.5"/>
<path d="M1302.3,553.5 L1310.8,562.0 L1302.3,570.5 L1293.8,562.0 Z" fill="none" stroke="#c6b7da" stroke-width="2.6" />
<circle cx="1302.3" cy="562.0" r="1.8" fill="#c6b7da" />
<path d="M1311.6,556.9 L1320.1,565.4 L1311.6,573.9 L1303.1,565.4 Z" fill="none" stroke="#c6b7da" stroke-width="2.6" />
<circle cx="1311.6" cy="565.4" r="1.8" fill="#c6b7da" />
<path d="M1325.5,577.9 L1334.0,586.4 L1325.5,594.9 L1317.0,586.4 Z" fill="none" stroke="#c6b7da" stroke-width="2.6" />
<circle cx="1325.5" cy="586.4" r="1.8" fill="#c6b7da" />
<line x1="1348.7" y1="582.2" x2="1348.7" y2="612.7" stroke="#c6b7da" stroke-width="2" />
<path d="M1348.7,588.9 L1357.2,597.4 L1348.7,605.9 L1340.2,597.4 Z" fill="none" stroke="#c6b7da" stroke-width="2.6" />
<circle cx="1348.7" cy="597.4" r="1.8" fill="#c6b7da" />
<line x1="1371.8" y1="590.7" x2="1371.8" y2="602.9" stroke="#c6b7da" stroke-width="2" />
<path d="M1371.8,588.3 L1380.3,596.8 L1371.8,605.3 L1363.3,596.8 Z" fill="none" stroke="#c6b7da" stroke-width="2.6" />
<circle cx="1371.8" cy="596.8" r="1.8" fill="#c6b7da" />
<line x1="1395.0" y1="580.3" x2="1395.0" y2="610.9" stroke="#c6b7da" stroke-width="2" />
<path d="M1395.0,587.1 L1403.5,595.6 L1395.0,604.1 L1386.5,595.6 Z" fill="none" stroke="#c6b7da" stroke-width="2.6" />
<circle cx="1395.0" cy="595.6" r="1.8" fill="#c6b7da" />
<path d="M1418.2,588.3 L1426.7,596.8 L1418.2,605.3 L1409.7,596.8 Z" fill="none" stroke="#c6b7da" stroke-width="2.6" />
<circle cx="1418.2" cy="596.8" r="1.8" fill="#c6b7da" />
<path d="M1441.4,595.7 L1449.9,604.2 L1441.4,612.7 L1432.9,604.2 Z" fill="none" stroke="#c6b7da" stroke-width="2.6" />
<circle cx="1441.4" cy="604.2" r="1.8" fill="#c6b7da" />
<line x1="1012.8" y1="721.3" x2="1012.8" y2="848.6" stroke="#333" stroke-width="1.4" />
<line x1="1007.0" y1="721.3" x2="1012.8" y2="721.3" stroke="#333" stroke-width="1.4" />
<line x1="1007.0" y1="785.0" x2="1012.8" y2="785.0" stroke="#333" stroke-width="1.4" />
<line x1="1007.0" y1="848.6" x2="1012.8" y2="848.6" stroke="#333" stroke-width="1.4" />
<text x="998.6" y="728.0" font-size="19" text-anchor="end">0.2</text>
<text x="998.6" y="855.5" font-size="19" text-anchor="end">0</text>
<text transform="translate(955 784) rotate(-90)" text-anchor="middle" font-size="21"><tspan font-style="italic">k</tspan><tspan font-size="15" dy="5">obs</tspan><tspan dy="-5"> (min</tspan><tspan font-size="14" dy="-8">−1</tspan><tspan dy="8">)</tspan></text>
<rect x="1033.8" y="758.6" width="28.1" height="88.7" fill="url(#hF)" stroke="#a9c2bd" stroke-width="2.6" />
<rect x="1104.6" y="770.0" width="28.1" height="77.3" fill="url(#hF)" stroke="#a9c2bd" stroke-width="2.6" />
<rect x="1175.0" y="832.8" width="28.1" height="14.5" fill="url(#hF)" stroke="#a9c2bd" stroke-width="2.6" />
<rect x="1245.0" y="835.0" width="28.1" height="12.3" fill="url(#hF)" stroke="#a9c2bd" stroke-width="2.6" />
<rect x="1316.5" y="842.0" width="28.1" height="5.3" fill="url(#hF)" stroke="#a9c2bd" stroke-width="2.6" />
<rect x="1386.8" y="844.5" width="28.1" height="2.8" fill="url(#hF)" stroke="#a9c2bd" stroke-width="2.6" />
<text x="1024.3" y="749.8" font-size="19">0.140</text>
<text x="1095.0" y="764.0" font-size="19">0.121</text>
<text x="1164.2" y="824.0" font-size="19">0.021</text>
<text x="1235.0" y="824.0" font-size="19">0.017</text>
<text x="1305.2" y="834.4" font-size="19">0.008</text>
<text x="1376.6" y="834.4" font-size="19">0.005</text>
<text x="1194.0" y="764.1" font-size="20" fill="#8fbcb4" textLength="166.0" lengthAdjust="spacingAndGlyphs">Increasing cycles</text>
<line x1="1169.3" y1="781.3" x2="1376.0" y2="781.3" stroke="#9ec3bc" stroke-width="1.8" />
<path d="M1372,776.5 L1381,781.3 L1372,786 Z" fill="#9ec3bc" />
<text x="1531.0" y="529.7" font-size="38.5" font-weight="bold" stroke="#231f20" stroke-width="1.2">g</text>
<rect x="1603.0" y="563.0" width="34.4" height="760.5" fill="url(#gBandY)" />
<rect x="1656.8" y="531.0" width="59.5" height="792.5" fill="url(#gBandP)" />
<rect x="1753.8" y="531.0" width="68.2" height="792.5" fill="url(#gBandT)" />
<rect x="1565.0" y="531.0" width="363.5" height="792.5" fill="none" stroke="#333" stroke-width="1.5" />
<line x1="1565.0" y1="1323.5" x2="1565.0" y2="1331.5" stroke="#333" stroke-width="1.5" />
<text x="1565.0" y="1357.5" font-size="20.5" text-anchor="middle">−0.2</text>
<line x1="1686.0" y1="1323.5" x2="1686.0" y2="1331.5" stroke="#333" stroke-width="1.5" />
<text x="1686.0" y="1357.5" font-size="20.5" text-anchor="middle">0.3</text>
<line x1="1807.0" y1="1323.5" x2="1807.0" y2="1331.5" stroke="#333" stroke-width="1.5" />
<text x="1807.0" y="1357.5" font-size="20.5" text-anchor="middle">0.8</text>
<line x1="1928.0" y1="1323.5" x2="1928.0" y2="1331.5" stroke="#333" stroke-width="1.5" />
<text x="1928.0" y="1357.5" font-size="20.5" text-anchor="middle">1.3</text>
<text x="1746.0" y="1393.6" font-size="22" text-anchor="middle" textLength="136.0" lengthAdjust="spacingAndGlyphs">Potential (V)</text>
<text x="1551.0" y="925.5" font-size="22" text-anchor="middle" textLength="138.0" lengthAdjust="spacingAndGlyphs" transform="rotate(-90 1551.0 925.5)">Current (μA)</text>
<path d="M1597.6,634.0 C1598.8,635.3 1601.0,639.4 1604.3,641.8 C1607.6,644.2 1612.0,646.8 1617.6,648.4 C1623.1,650.1 1630.5,651.0 1637.5,651.8 C1644.5,652.5 1651.9,652.6 1659.6,652.9 C1667.4,653.2 1674.8,653.6 1684.0,653.5 C1693.2,653.5 1706.1,653.1 1715.0,652.4 C1723.9,651.8 1729.8,650.6 1737.1,649.5 C1744.5,648.4 1751.9,647.1 1759.3,645.8 C1766.7,644.5 1774.1,643.4 1781.4,641.8 C1788.8,640.2 1796.2,638.3 1803.6,636.3 C1811.0,634.2 1818.3,632.4 1825.7,629.6 C1833.1,626.8 1840.5,623.5 1847.9,619.6 C1855.2,615.8 1863.4,611.5 1870.0,606.4 C1876.7,601.2 1882.9,594.5 1887.7,588.6 C1892.5,582.7 1895.2,577.9 1898.8,570.9 C1902.4,563.9 1907.7,550.6 1909.4,546.6" fill="none" stroke="#7fcac1" stroke-width="4.2" stroke-linecap="round" stroke-linejoin="round"/>
<path d="M1595.0,672.8 C1596.5,675.1 1600.2,682.9 1604.3,686.5 C1608.4,690.1 1616.1,691.7 1619.8,694.3 C1623.5,696.8 1623.8,697.8 1626.4,702.0 C1629.0,706.2 1632.3,713.4 1635.3,719.7 C1638.2,726.0 1641.2,734.5 1644.1,739.6 C1647.1,744.8 1650.1,748.5 1653.0,750.7 C1656.0,752.9 1658.5,753.7 1661.9,752.9 C1665.2,752.2 1669.8,748.2 1672.9,746.3 C1676.1,744.4 1678.3,741.6 1680.7,741.4 C1683.1,741.2 1684.9,743.6 1687.3,745.2 C1689.7,746.7 1692.3,750.0 1695.1,750.7 C1697.8,751.5 1701.0,750.0 1703.9,749.6 C1706.9,749.2 1709.8,748.5 1712.8,748.5 C1715.7,748.5 1717.6,750.2 1721.6,749.6 C1725.7,749.1 1731.6,746.8 1737.1,745.2 C1742.7,743.5 1749.0,741.1 1754.9,739.6 C1760.8,738.2 1766.3,737.1 1772.6,736.3 C1778.9,735.5 1785.1,735.1 1792.5,734.8 C1799.9,734.4 1809.5,735.3 1816.9,734.1 C1824.2,732.9 1830.5,731.0 1836.8,727.5 C1843.1,724.0 1848.2,719.5 1854.5,713.1 C1860.8,706.6 1868.5,696.8 1874.4,688.7 C1880.3,680.6 1885.0,671.8 1889.9,664.4 C1894.9,656.9 1901.9,647.4 1904.3,644.0" fill="none" stroke="#8ccbe4" stroke-width="4.2" stroke-linecap="round" stroke-linejoin="round"/>
<path d="M1595.0,755.1 C1596.5,757.4 1600.2,765.5 1604.3,768.4 C1608.4,771.4 1616.1,771.4 1619.8,772.9 C1623.5,774.3 1623.8,772.9 1626.4,777.3 C1629.0,781.7 1632.0,790.9 1635.3,799.4 C1638.6,807.9 1643.0,821.6 1646.4,828.2 C1649.7,834.9 1651.9,837.3 1655.2,839.3 C1658.5,841.3 1663.0,841.5 1666.3,840.4 C1669.6,839.3 1672.6,834.5 1675.1,832.6 C1677.7,830.8 1679.6,829.0 1681.8,829.3 C1684.0,829.7 1685.8,831.7 1688.4,834.9 C1691.0,838.0 1694.3,845.2 1697.3,848.1 C1700.2,851.1 1702.5,852.2 1706.1,852.6 C1709.8,852.9 1714.3,851.8 1719.4,850.4 C1724.6,848.9 1731.2,845.6 1737.1,843.7 C1743.1,841.9 1749.0,840.4 1754.9,839.3 C1760.8,838.2 1766.3,837.3 1772.6,837.1 C1778.9,836.8 1786.2,837.2 1792.5,837.7 C1798.8,838.3 1804.7,839.4 1810.2,840.4 C1815.8,841.4 1820.9,843.4 1825.7,843.7 C1830.5,844.1 1834.6,843.9 1839.0,842.6 C1843.4,841.3 1847.1,839.1 1852.3,836.0 C1857.5,832.8 1864.1,828.8 1870.0,823.8 C1875.9,818.8 1881.8,812.5 1887.7,806.1 C1893.6,799.6 1902.5,788.5 1905.4,785.0" fill="none" stroke="#c5b4da" stroke-width="4.2" stroke-linecap="round" stroke-linejoin="round"/>
<path d="M1596.5,831.5 C1597.1,833.9 1598.2,841.0 1599.9,845.9 C1601.5,850.9 1603.9,857.9 1606.5,861.4 C1609.1,864.9 1612.4,866.2 1615.4,867.0 C1618.3,867.7 1621.6,864.9 1624.2,865.9 C1626.8,866.8 1628.6,867.7 1630.9,872.5 C1633.1,877.3 1635.3,885.4 1637.5,894.7 C1639.7,903.9 1641.9,918.6 1644.1,927.9 C1646.4,937.1 1648.2,944.3 1650.8,950.0 C1653.4,955.7 1656.7,961.1 1659.6,962.2 C1662.6,963.3 1665.9,960.5 1668.5,956.7 C1671.1,952.8 1673.1,944.8 1675.1,938.9 C1677.2,933.0 1679.0,925.1 1680.7,921.2 C1682.3,917.3 1683.6,915.7 1685.1,915.7 C1686.6,915.7 1687.9,916.6 1689.5,921.2 C1691.2,925.8 1693.0,934.9 1695.1,943.4 C1697.1,951.9 1699.5,964.8 1701.7,972.2 C1703.9,979.5 1705.6,984.3 1708.4,987.7 C1711.1,991.0 1715.0,992.5 1718.3,992.1 C1721.6,991.7 1724.8,989.1 1728.3,985.4 C1731.8,981.7 1735.7,974.4 1739.4,969.9 C1743.1,965.5 1746.0,962.6 1750.4,958.9 C1754.9,955.2 1761.5,951.3 1765.9,947.8 C1770.4,944.3 1772.6,941.5 1777.0,937.8 C1781.4,934.1 1787.3,928.8 1792.5,925.7 C1797.7,922.5 1803.2,919.7 1808.0,919.0 C1812.8,918.3 1816.9,919.6 1821.3,921.2 C1825.7,922.9 1830.2,926.6 1834.6,929.0 C1839.0,931.4 1843.8,934.1 1847.9,935.6 C1851.9,937.1 1854.9,937.8 1858.9,937.8 C1863.0,937.8 1868.2,937.3 1872.2,935.6 C1876.3,934.0 1879.2,931.0 1883.3,927.9 C1887.4,924.7 1892.0,921.0 1896.6,916.8 C1901.2,912.5 1908.6,904.8 1911.0,902.4" fill="none" stroke="#9acb80" stroke-width="4.2" stroke-linecap="round" stroke-linejoin="round"/>
<path d="M1595.0,967.7 C1595.6,969.9 1597.2,977.3 1598.8,981.0 C1600.3,984.7 1601.5,987.7 1604.3,989.9 C1607.1,992.1 1611.7,992.8 1615.4,994.3 C1619.0,995.8 1623.7,996.7 1626.4,998.7 C1629.2,1000.7 1630.0,1004.0 1631.8,1006.4 C1633.5,1008.7 1634.8,1007.4 1636.9,1012.7 C1639.0,1018.0 1642.0,1029.6 1644.5,1038.1 C1647.0,1046.6 1649.4,1057.2 1652.1,1063.5 C1654.9,1069.9 1658.0,1076.2 1661.0,1076.2 C1664.0,1076.2 1666.7,1070.3 1669.9,1063.5 C1673.1,1056.7 1677.1,1042.8 1680.1,1035.6 C1683.0,1028.4 1685.1,1020.7 1687.7,1020.3 C1690.2,1019.9 1692.8,1027.9 1695.3,1033.0 C1697.8,1038.1 1700.0,1045.9 1702.9,1050.8 C1705.9,1055.7 1709.7,1058.0 1713.1,1062.2 C1716.5,1066.5 1719.4,1072.8 1723.3,1076.2 C1727.1,1079.6 1731.7,1081.7 1736.0,1082.6 C1740.2,1083.4 1744.4,1082.6 1748.7,1081.3 C1752.9,1080.0 1757.1,1077.5 1761.4,1074.9 C1765.6,1072.4 1769.4,1068.4 1774.1,1066.1 C1778.7,1063.7 1783.4,1062.2 1789.3,1061.0 C1795.2,1059.8 1803.7,1058.7 1809.6,1058.9 C1815.6,1059.2 1818.9,1060.4 1824.9,1062.2 C1830.8,1064.1 1838.9,1068.0 1845.2,1069.9 C1851.6,1071.8 1857.1,1073.5 1863.0,1073.7 C1868.9,1073.9 1875.3,1073.0 1880.8,1071.1 C1886.3,1069.2 1891.8,1065.4 1896.0,1062.2 C1900.3,1059.1 1904.5,1053.8 1906.2,1052.1" fill="none" stroke="#f9b86f" stroke-width="4.2" stroke-linecap="round" stroke-linejoin="round"/>
<path d="M1594.9,1059.7 C1596.0,1062.9 1599.0,1073.0 1601.3,1078.8 C1603.6,1084.5 1606.4,1090.4 1608.9,1094.0 C1611.5,1097.6 1614.0,1098.2 1616.5,1100.4 C1619.1,1102.5 1621.8,1105.4 1624.2,1106.7 C1626.5,1108.0 1628.4,1104.2 1630.5,1108.0 C1632.6,1111.8 1634.5,1121.3 1636.9,1129.6 C1639.2,1137.8 1642.0,1149.1 1644.5,1157.5 C1647.0,1166.0 1649.8,1175.7 1652.1,1180.4 C1654.4,1185.0 1656.3,1185.0 1658.5,1185.5 C1660.6,1185.9 1662.5,1186.3 1664.8,1182.9 C1667.1,1179.5 1669.7,1172.6 1672.4,1165.1 C1675.2,1157.7 1678.8,1144.0 1681.3,1138.5 C1683.9,1133.0 1685.4,1131.5 1687.7,1132.1 C1690.0,1132.7 1692.8,1136.8 1695.3,1142.3 C1697.8,1147.8 1700.0,1157.1 1702.9,1165.1 C1705.9,1173.2 1709.7,1184.2 1713.1,1190.5 C1716.5,1196.9 1719.7,1200.1 1723.3,1203.3 C1726.9,1206.4 1730.5,1209.6 1734.7,1209.6 C1738.9,1209.6 1743.8,1206.4 1748.7,1203.3 C1753.5,1200.1 1758.4,1195.4 1763.9,1190.5 C1769.4,1185.7 1776.6,1178.3 1781.7,1174.0 C1786.8,1169.8 1789.3,1167.7 1794.4,1165.1 C1799.5,1162.6 1807.1,1159.6 1812.2,1158.8 C1817.3,1157.9 1818.9,1158.8 1824.9,1160.1 C1830.8,1161.3 1841.8,1165.4 1847.7,1166.4 C1853.7,1167.5 1855.8,1167.3 1860.4,1166.4 C1865.1,1165.6 1870.6,1164.1 1875.7,1161.3 C1880.8,1158.6 1885.9,1155.4 1890.9,1149.9 C1896.0,1144.4 1903.6,1131.9 1906.2,1128.3" fill="none" stroke="#f4a0a0" stroke-width="4.2" stroke-linecap="round" stroke-linejoin="round"/>
<path d="M1588.6,1177.8 C1589.4,1179.5 1592.4,1185.9 1593.7,1188.0 C1594.9,1190.1 1594.9,1190.1 1596.2,1190.5 C1597.5,1191.0 1599.2,1188.4 1601.3,1190.5 C1603.4,1192.7 1606.4,1199.4 1608.9,1203.3 C1611.5,1207.1 1614.4,1211.3 1616.5,1213.4 C1618.7,1215.5 1618.7,1210.9 1621.6,1216.0 C1624.6,1221.0 1630.1,1234.2 1634.3,1243.9 C1638.6,1253.6 1643.2,1267.0 1647.0,1274.4 C1650.8,1281.8 1654.2,1286.7 1657.2,1288.4 C1660.2,1290.1 1661.9,1288.6 1664.8,1284.6 C1667.8,1280.5 1671.4,1270.2 1675.0,1264.2 C1678.6,1258.3 1682.6,1250.3 1686.4,1249.0 C1690.2,1247.7 1693.4,1251.9 1697.8,1256.6 C1702.3,1261.3 1708.0,1271.2 1713.1,1276.9 C1718.2,1282.6 1723.7,1287.9 1728.3,1290.9 C1733.0,1293.9 1736.8,1294.5 1741.0,1294.7 C1745.3,1294.9 1749.1,1294.1 1753.7,1292.2 C1758.4,1290.3 1763.5,1286.2 1769.0,1283.3 C1774.5,1280.3 1781.7,1276.9 1786.8,1274.4 C1791.8,1271.8 1794.0,1270.4 1799.5,1268.0 C1805.0,1265.7 1811.3,1263.0 1819.8,1260.4 C1828.3,1257.9 1841.0,1255.3 1850.3,1252.8 C1859.6,1250.3 1869.3,1247.7 1875.7,1245.2 C1882.0,1242.6 1883.9,1241.4 1888.4,1237.6 C1892.8,1233.7 1900.0,1224.8 1902.4,1222.3" fill="none" stroke="#abc3be" stroke-width="4.2" stroke-linecap="round" stroke-linejoin="round"/>
<text x="1596.4" y="605.6" font-size="19.5" textLength="62.0" lengthAdjust="spacingAndGlyphs">Peak 2</text>
<text x="1671.9" y="621.5" font-size="19.5" textLength="62.0" lengthAdjust="spacingAndGlyphs">Peak 3</text>
<text x="1764.6" y="619.4" font-size="19.5" textLength="59.0" lengthAdjust="spacingAndGlyphs">Peak 1</text>
<text x="1911.0" y="660.3" font-size="20" text-anchor="end">NCNT Pure</text>
<text x="1911.0" y="760.8" font-size="20" text-anchor="end">Recycle 1</text>
<text x="1911.0" y="875.0" font-size="20" text-anchor="end">Recycle 2</text>
<text x="1911.0" y="976.4" font-size="20" text-anchor="end">Recycle 3</text>
<text x="1911.0" y="1124.0" font-size="20" text-anchor="end">Recycle 4</text>
<text x="1911.0" y="1186.4" font-size="20" text-anchor="end">Recycle 5</text>
<text x="1911.0" y="1292.0" font-size="20" text-anchor="end">Recycle 6</text>
<text x="0.0" y="987.2" font-size="38.5" font-weight="bold" stroke="#231f20" stroke-width="1.2">h</text>
<rect x="125.5" y="996.8" width="86.4" height="63.7" fill="#fff" stroke="#c5b5d8" stroke-width="7.4" rx="4"/>
<rect x="121.8" y="1067.4" width="93.8" height="22.4" fill="#c5b5d8" rx="5.5"/>
<rect x="135.5" y="1076.7" width="41.4" height="4.3" fill="#fff" />
<circle cx="203.1" cy="1078.2" r="2.6" fill="#fff" />
<rect x="317.8" y="995.4" width="85.8" height="64.6" fill="#fff" stroke="#c5b5d8" stroke-width="7.4" rx="4"/>
<rect x="314.1" y="1066.0" width="93.2" height="22.4" fill="#c5b5d8" rx="5.5"/>
<rect x="327.8" y="1075.3" width="40.8" height="4.3" fill="#fff" />
<circle cx="394.8" cy="1077.3" r="2.6" fill="#fff" />
<ellipse cx="169.6" cy="1186.6" rx="46.2" ry="17.0" fill="#fff" stroke="#b4c4e4" stroke-width="5.2" />
<path d="M126.4,1228.3 L126.4,1308.4 A43.2,15 0 0 0 212.8,1308.4 L212.8,1228.3 Z" fill="#bfe3de" />
<ellipse cx="169.6" cy="1228.3" rx="43.2" ry="14.0" fill="#d9efeb" />
<ellipse cx="169.6" cy="1308.4" rx="40.2" ry="12.0" fill="#bfe3de" opacity="0.6"/>
<rect x="203.8" y="1242.3" width="5.0" height="68.1" fill="#fff" opacity="0.6"/>
<ellipse cx="357.2" cy="1186.6" rx="47.4" ry="17.0" fill="#fff" stroke="#b4c4e4" stroke-width="5.2" />
<path d="M312.9,1228.3 L312.9,1308.4 A44.4,15 0 0 0 401.6,1308.4 L401.6,1228.3 Z" fill="#dcd2e8" />
<ellipse cx="357.2" cy="1228.3" rx="44.4" ry="14.0" fill="#ebe5f2" />
<ellipse cx="357.2" cy="1308.4" rx="41.4" ry="12.0" fill="#dcd2e8" opacity="0.6"/>
<rect x="392.6" y="1242.3" width="5.0" height="68.1" fill="#fff" opacity="0.6"/>
<circle cx="135.5" cy="1264.7" r="3.5" fill="#fff" opacity="0.55"/>
<circle cx="155.9" cy="1256.5" r="3.5" fill="#fff" opacity="0.55"/>
<circle cx="169.0" cy="1272.8" r="5.2" fill="#fff" opacity="0.55"/>
<circle cx="189.4" cy="1272.0" r="3.5" fill="#fff" opacity="0.55"/>
<circle cx="198.1" cy="1258.9" r="7.3" fill="#fff" opacity="0.55"/>
<circle cx="180.7" cy="1300.2" r="3.5" fill="#fff" opacity="0.55"/>
<circle cx="324.9" cy="1260.3" r="7.3" fill="#fff" opacity="0.55"/>
<circle cx="346.2" cy="1253.0" r="3.5" fill="#fff" opacity="0.55"/>
<circle cx="371.5" cy="1257.4" r="5.2" fill="#fff" opacity="0.55"/>
<circle cx="359.8" cy="1280.1" r="3.5" fill="#fff" opacity="0.55"/>
<circle cx="386.1" cy="1273.4" r="3.5" fill="#fff" opacity="0.55"/>
<circle cx="334.2" cy="1303.1" r="3.5" fill="#fff" opacity="0.55"/>
<circle cx="381.1" cy="1299.1" r="2.3" fill="#fff" opacity="0.55"/>
<path d="M203.1,1081.1 L145.7,1111.7 L145.7,1200.6" fill="none" stroke="#fab86e" stroke-width="2.6" stroke-linejoin="miter"/>
<path d="M203.1,1081.1 L168.1,1116.1 L168.1,1206.4" fill="none" stroke="#fab86e" stroke-width="2.6" stroke-linejoin="miter"/>
<path d="M203.1,1081.1 L184.1,1124.8 L184.1,1200.6" fill="none" stroke="#fab86e" stroke-width="2.6" stroke-linejoin="miter"/>
<path d="M394.8,1079.7 L340.9,1116.1 L340.9,1203.5" fill="none" stroke="#fab86e" stroke-width="2.6" stroke-linejoin="miter"/>
<path d="M394.8,1079.7 L363.6,1124.8 L363.6,1203.5" fill="none" stroke="#fab86e" stroke-width="2.6" stroke-linejoin="miter"/>
<path d="M394.8,1079.7 L380.2,1126.3 L380.2,1200.6" fill="none" stroke="#fab86e" stroke-width="2.6" stroke-linejoin="miter"/>
<line x1="145.7" y1="1200.6" x2="145.7" y2="1248.7" stroke="#3f6cb6" stroke-width="1.9" />
<line x1="168.1" y1="1206.4" x2="168.1" y2="1250.1" stroke="#3f6cb6" stroke-width="1.9" />
<line x1="184.1" y1="1200.6" x2="184.1" y2="1245.7" stroke="#3f6cb6" stroke-width="1.9" />
<line x1="341.5" y1="1203.5" x2="341.5" y2="1245.7" stroke="#3f6cb6" stroke-width="1.9" />
<line x1="364.2" y1="1203.5" x2="364.2" y2="1247.8" stroke="#3f6cb6" stroke-width="1.9" />
<line x1="381.1" y1="1200.6" x2="381.1" y2="1246.6" stroke="#3f6cb6" stroke-width="1.9" />
<rect x="139.9" y="1250.1" width="12.5" height="42.2" fill="#dfe3e4" stroke="#8c8f92" stroke-width="1.2" />
<rect x="139.9" y="1250.1" width="3.5" height="42.2" fill="#a6aaad" />
<rect x="164.6" y="1249.5" width="7.9" height="47.8" fill="#3f6cb6" />
<rect x="181.2" y="1245.7" width="5.8" height="32.1" fill="#3f6cb6" />
<rect x="338.0" y="1244.9" width="9.3" height="47.5" fill="#111" />
<rect x="361.9" y="1247.8" width="4.7" height="32.1" fill="#3f6cb6" />
<rect x="375.9" y="1245.7" width="11.7" height="45.2" fill="#e4e6e8" stroke="#9a9c9e" stroke-width="1.0" />
<rect x="384.0" y="1248.7" width="3.5" height="42.2" fill="#111" />
<circle cx="169.0" cy="1272.8" r="4.7" fill="#fff" opacity="0.7"/>
<circle cx="346.2" cy="1253.0" r="3.2" fill="#fff" opacity="0.7"/>
<circle cx="386.1" cy="1273.4" r="2.9" fill="#fff" opacity="0.7"/>
<path d="M123.4,1186.6 L123.4,1308.4 A46.2,17 0 0 0 215.8,1308.4 L215.8,1186.6" fill="none" stroke="#b4c4e4" stroke-width="5.2" />
<path d="M123.4,1186.6 A46.2,17 0 0 0 215.8,1186.6" fill="none" stroke="#b4c4e4" stroke-width="5.2" />
<path d="M309.9,1186.6 L309.9,1308.4 A47.4,17 0 0 0 404.6,1308.4 L404.6,1186.6" fill="none" stroke="#b4c4e4" stroke-width="5.2" />
<path d="M309.9,1186.6 A47.4,17 0 0 0 404.6,1186.6" fill="none" stroke="#b4c4e4" stroke-width="5.2" />
<line x1="220.6" y1="1293.2" x2="181.4" y2="1290.1" stroke="#1f6cb7" stroke-width="2.2" />
<path d="M173.4,1289.5 L182.8,1286.1 L181.4,1290.1 L182.2,1294.3 Z" fill="#1f6cb7" />
<line x1="113.6" y1="1331.7" x2="139.5" y2="1310.6" stroke="#5bbcb0" stroke-width="2.2" />
<path d="M145.7,1305.5 L141.2,1314.4 L139.5,1310.6 L136.0,1308.1 Z" fill="#5bbcb0" />
<line x1="298.7" y1="1334.0" x2="325.9" y2="1312.7" stroke="#9b77c2" stroke-width="2.2" />
<path d="M332.2,1307.8 L327.5,1316.6 L325.9,1312.7 L322.5,1310.2 Z" fill="#9b77c2" />
<line x1="419.0" y1="1331.7" x2="350.4" y2="1297.4" stroke="#34476b" stroke-width="2.2" />
<path d="M343.2,1293.8 L353.2,1294.2 L350.4,1297.4 L349.5,1301.5 Z" fill="#34476b" />
<text x="226.7" y="1300.5" font-size="20" textLength="41.0" lengthAdjust="spacingAndGlyphs">GCE</text>
<text x="96.0" y="1355.0" font-size="20" textLength="108.0" lengthAdjust="spacingAndGlyphs">PE Solution</text>
<text x="234.0" y="1351.5" font-size="20" textLength="103.0" lengthAdjust="spacingAndGlyphs">Electrolyte</text>
<text x="249.7" y="1376.0" font-size="20" textLength="76.0" lengthAdjust="spacingAndGlyphs">solution</text>
<text x="359.0" y="1355.0" font-size="20" textLength="116.0" lengthAdjust="spacingAndGlyphs">Used NCNT-</text>
<text x="354.0" y="1378.0" font-size="20" textLength="132.0" lengthAdjust="spacingAndGlyphs">modified GCE</text>
<text x="556.0" y="987.2" font-size="38.5" font-weight="bold" stroke="#231f20" stroke-width="1.2">i</text>
<rect x="641.3" y="1008.0" width="34.4" height="327.5" fill="url(#gBandY)" />
<rect x="689.4" y="995.5" width="51.9" height="340.0" fill="url(#gBandP)" />
<rect x="784.0" y="995.5" width="57.8" height="340.0" fill="url(#gBandT)" />
<rect x="592.7" y="996.0" width="361.8" height="342.4" fill="none" stroke="#333" stroke-width="1.5" />
<line x1="592.7" y1="1338.4" x2="592.7" y2="1346.4" stroke="#333" stroke-width="1.5" />
<text x="592.7" y="1371.0" font-size="20.5" text-anchor="middle">−0.2</text>
<line x1="713.3" y1="1338.4" x2="713.3" y2="1346.4" stroke="#333" stroke-width="1.5" />
<text x="713.3" y="1371.0" font-size="20.5" text-anchor="middle">0.3</text>
<line x1="833.9" y1="1338.4" x2="833.9" y2="1346.4" stroke="#333" stroke-width="1.5" />
<text x="833.9" y="1371.0" font-size="20.5" text-anchor="middle">0.8</text>
<line x1="954.5" y1="1338.4" x2="954.5" y2="1346.4" stroke="#333" stroke-width="1.5" />
<text x="954.5" y="1371.0" font-size="20.5" text-anchor="middle">1.3</text>
<text x="774.0" y="1407.5" font-size="22" text-anchor="middle" textLength="137.0" lengthAdjust="spacingAndGlyphs">Potential (V)</text>
<text x="577.0" y="1167.0" font-size="22" text-anchor="middle" textLength="138.0" lengthAdjust="spacingAndGlyphs" transform="rotate(-90 577.0 1167.0)">Current (μA)</text>
<path d="M623.8,1047.6 C624.6,1050.0 626.0,1058.1 628.2,1062.2 C630.4,1066.3 633.5,1069.7 636.9,1072.4 C640.3,1075.0 644.7,1076.7 648.6,1078.2 C652.5,1079.7 655.9,1079.2 660.3,1081.1 C664.6,1083.1 670.0,1087.8 674.8,1089.9 C679.7,1091.9 685.5,1093.4 689.4,1093.4 C693.3,1093.4 695.2,1091.9 698.1,1089.9 C701.0,1087.8 704.0,1083.1 706.9,1081.1 C709.8,1079.2 712.9,1077.7 715.6,1078.2 C718.3,1078.7 720.5,1080.6 722.9,1084.0 C725.3,1087.4 727.5,1094.2 730.2,1098.6 C732.9,1103.0 735.5,1106.4 738.9,1110.3 C742.3,1114.1 746.7,1119.0 750.6,1121.9 C754.5,1124.8 758.4,1126.5 762.2,1127.7 C766.1,1129.0 770.0,1129.7 773.9,1129.2 C777.8,1128.7 782.1,1126.8 785.5,1124.8 C788.9,1122.9 791.4,1119.8 794.3,1117.5 C797.2,1115.3 800.4,1112.3 803.0,1111.1 C805.7,1109.9 807.9,1109.7 810.3,1110.3 C812.7,1110.8 814.9,1113.4 817.6,1114.6 C820.3,1115.8 822.9,1117.3 826.3,1117.5 C829.7,1117.8 834.1,1116.8 838.0,1116.1 C841.9,1115.4 844.3,1114.1 849.7,1113.2 C855.0,1112.2 863.7,1112.0 870.0,1110.3 C876.4,1108.6 881.7,1106.4 887.5,1103.0 C893.4,1099.6 899.7,1095.0 905.0,1089.9 C910.4,1084.8 915.5,1078.9 919.6,1072.4 C923.7,1065.8 928.1,1054.2 929.8,1050.5" fill="none" stroke="#c5b3da" stroke-width="2.8" stroke-linecap="round"/>
<path d="M625.3,1190.4 C626.3,1192.3 628.2,1198.2 631.1,1202.0 C634.0,1205.9 638.4,1210.3 642.8,1213.7 C647.1,1217.1 652.0,1220.3 657.3,1222.4 C662.7,1224.6 669.0,1225.3 674.8,1226.8 C680.7,1228.3 685.5,1230.1 692.3,1231.2 C699.1,1232.2 708.3,1233.1 715.6,1233.2 C722.9,1233.4 729.7,1232.9 736.0,1232.1 C742.3,1231.2 747.7,1230.1 753.5,1228.3 C759.3,1226.4 766.1,1223.6 771.0,1221.0 C775.8,1218.3 779.2,1215.6 782.6,1212.2 C786.0,1208.8 788.5,1205.4 791.4,1200.6 C794.3,1195.7 797.2,1187.6 800.1,1183.1 C803.0,1178.6 806.4,1174.7 808.9,1173.8 C811.3,1172.8 812.7,1175.2 814.7,1177.3 C816.6,1179.3 818.6,1183.8 820.5,1186.0 C822.5,1188.2 823.4,1189.3 826.3,1190.4 C829.3,1191.5 834.1,1192.7 838.0,1192.4 C841.9,1192.2 845.3,1190.2 849.7,1188.9 C854.0,1187.6 859.4,1186.0 864.2,1184.6 C869.1,1183.1 874.4,1182.4 878.8,1180.2 C883.2,1178.0 886.6,1174.8 890.4,1171.4 C894.3,1168.0 898.2,1164.2 902.1,1159.8 C906.0,1155.4 910.4,1150.1 913.8,1145.2 C917.2,1140.4 919.5,1136.2 922.5,1130.7 C925.5,1125.1 930.3,1114.9 931.8,1111.7" fill="none" stroke="#7ecac1" stroke-width="2.9" stroke-linecap="round"/>
<text x="644.8" y="1055.5" font-size="19.5" textLength="62.0" lengthAdjust="spacingAndGlyphs">Peak 2</text>
<text x="718.0" y="1072.4" font-size="19.5" textLength="62.0" lengthAdjust="spacingAndGlyphs">Peak 3</text>
<text x="804.5" y="1090.7" font-size="19.5" textLength="58.0" lengthAdjust="spacingAndGlyphs">Peak 1</text>
<text x="843.2" y="1136.5" font-size="19.5" textLength="73.0" lengthAdjust="spacingAndGlyphs">2nd run</text>
<text x="748.5" y="1161.2" font-size="19.5" textLength="58.0" lengthAdjust="spacingAndGlyphs">Peak 1</text>
<text x="843.2" y="1225.3" font-size="19.5" textLength="61.0" lengthAdjust="spacingAndGlyphs">1st run</text>
<line x1="782.0" y1="1175.0" x2="801.5" y2="1232.0" stroke="#34476b" stroke-width="2.3" stroke-dasharray="6.5,4"/>
<path d="M796.5,1229 L803.5,1240 L805.5,1227 Z" fill="#34476b" />
<path d="M760.2,1273.5 L786.2,1288.5 L786.2,1318.5 L760.2,1333.5 L734.2,1318.5 L734.2,1288.5 Z" fill="none" stroke="#111" stroke-width="2.1" stroke-linejoin="miter"/>
<line x1="781.8" y1="1293.5" x2="781.8" y2="1313.5" stroke="#111" stroke-width="2.1" />
<line x1="758.0" y1="1327.2" x2="740.8" y2="1317.2" stroke="#111" stroke-width="2.1" />
<line x1="740.8" y1="1289.8" x2="758.0" y2="1279.8" stroke="#111" stroke-width="2.1" />
<line x1="760.2" y1="1273.5" x2="760.2" y2="1251.5" stroke="#111" stroke-width="2.1" />
<text x="754.0" y="1247.3" font-size="15.5" font-weight="bold" textLength="23.0" lengthAdjust="spacingAndGlyphs">OH</text>
<path d="M857.5,1274.2 L883.5,1289.2 L883.5,1319.2 L857.5,1334.2 L831.5,1319.2 L831.5,1289.2 Z" fill="none" stroke="#111" stroke-width="2.1" stroke-linejoin="miter"/>
<line x1="879.1" y1="1294.2" x2="879.1" y2="1314.2" stroke="#111" stroke-width="2.1" />
<line x1="855.3" y1="1327.9" x2="838.1" y2="1317.9" stroke="#111" stroke-width="2.1" />
<line x1="838.1" y1="1290.5" x2="855.3" y2="1280.5" stroke="#111" stroke-width="2.1" />
<line x1="857.5" y1="1274.2" x2="857.5" y2="1252.5" stroke="#111" stroke-width="2.1" />
<text x="857.6" y="1247.8" font-size="15.5" text-anchor="middle" font-weight="bold">O</text>
<circle cx="857.0" cy="1234.4" r="2.0" fill="#a3c4bf" />
<line x1="790.8" y1="1299.3" x2="817.0" y2="1299.3" stroke="#111" stroke-width="2.6" />
<path d="M816,1294.8 L825,1299.3 L816,1303.8 Z" fill="#111" />
<text x="1001.0" y="987.2" font-size="38.5" font-weight="bold" stroke="#231f20" stroke-width="1.2">j</text>
<ellipse cx="1277.9" cy="1194.2" rx="176.0" ry="47.0" fill="#e9edeb" transform="rotate(49.3 1277.9 1194.2)"/>
<rect x="1114.7" y="1001.0" width="350.8" height="337.4" fill="none" stroke="#333" stroke-width="1.5" />
<line x1="1107.7" y1="1338.4" x2="1114.7" y2="1338.4" stroke="#333" stroke-width="1.5" />
<text x="1106.0" y="1345.7" font-size="20.5" text-anchor="end">0</text>
<line x1="1107.7" y1="1282.2" x2="1114.7" y2="1282.2" stroke="#333" stroke-width="1.5" />
<text x="1106.0" y="1289.5" font-size="20.5" text-anchor="end">0.1</text>
<line x1="1107.7" y1="1225.9" x2="1114.7" y2="1225.9" stroke="#333" stroke-width="1.5" />
<text x="1106.0" y="1233.2" font-size="20.5" text-anchor="end">0.2</text>
<line x1="1107.7" y1="1169.7" x2="1114.7" y2="1169.7" stroke="#333" stroke-width="1.5" />
<text x="1106.0" y="1177.0" font-size="20.5" text-anchor="end">0.3</text>
<line x1="1107.7" y1="1113.5" x2="1114.7" y2="1113.5" stroke="#333" stroke-width="1.5" />
<text x="1106.0" y="1120.8" font-size="20.5" text-anchor="end">0.4</text>
<line x1="1107.7" y1="1057.2" x2="1114.7" y2="1057.2" stroke="#333" stroke-width="1.5" />
<text x="1106.0" y="1064.5" font-size="20.5" text-anchor="end">0.5</text>
<line x1="1107.7" y1="1001.0" x2="1114.7" y2="1001.0" stroke="#333" stroke-width="1.5" />
<text x="1106.0" y="1008.3" font-size="20.5" text-anchor="end">0.6</text>
<line x1="1114.4" y1="1338.4" x2="1114.4" y2="1345.4" stroke="#333" stroke-width="1.5" />
<text x="1114.4" y="1371.0" font-size="20.5" text-anchor="middle">−0.05</text>
<line x1="1184.6" y1="1338.4" x2="1184.6" y2="1345.4" stroke="#333" stroke-width="1.5" />
<text x="1184.6" y="1371.0" font-size="20.5" text-anchor="middle">0</text>
<line x1="1254.8" y1="1338.4" x2="1254.8" y2="1345.4" stroke="#333" stroke-width="1.5" />
<text x="1254.8" y="1371.0" font-size="20.5" text-anchor="middle">0.05</text>
<line x1="1325.0" y1="1338.4" x2="1325.0" y2="1345.4" stroke="#333" stroke-width="1.5" />
<text x="1325.0" y="1371.0" font-size="20.5" text-anchor="middle">0.10</text>
<line x1="1395.2" y1="1338.4" x2="1395.2" y2="1345.4" stroke="#333" stroke-width="1.5" />
<text x="1395.2" y="1371.0" font-size="20.5" text-anchor="middle">0.15</text>
<line x1="1465.4" y1="1338.4" x2="1465.4" y2="1345.4" stroke="#333" stroke-width="1.5" />
<text x="1465.4" y="1371.0" font-size="20.5" text-anchor="middle">0.20</text>
<circle cx="1195.5" cy="1093.0" r="1.7" fill="#c6b7da" />
<circle cx="1204.0" cy="1103.2" r="1.7" fill="#c6b7da" />
<circle cx="1212.4" cy="1113.3" r="1.7" fill="#c6b7da" />
<circle cx="1220.9" cy="1123.5" r="1.7" fill="#c6b7da" />
<circle cx="1229.4" cy="1133.6" r="1.7" fill="#c6b7da" />
<circle cx="1237.9" cy="1143.8" r="1.7" fill="#c6b7da" />
<circle cx="1246.3" cy="1154.0" r="1.7" fill="#c6b7da" />
<circle cx="1254.8" cy="1164.1" r="1.7" fill="#c6b7da" />
<circle cx="1263.3" cy="1174.3" r="1.7" fill="#c6b7da" />
<circle cx="1271.8" cy="1184.4" r="1.7" fill="#c6b7da" />
<circle cx="1280.2" cy="1194.6" r="1.7" fill="#c6b7da" />
<circle cx="1288.7" cy="1204.8" r="1.7" fill="#c6b7da" />
<circle cx="1297.2" cy="1214.9" r="1.7" fill="#c6b7da" />
<circle cx="1305.6" cy="1225.1" r="1.7" fill="#c6b7da" />
<circle cx="1314.1" cy="1235.2" r="1.7" fill="#c6b7da" />
<circle cx="1322.6" cy="1245.4" r="1.7" fill="#c6b7da" />
<circle cx="1331.1" cy="1255.5" r="1.7" fill="#c6b7da" />
<circle cx="1339.5" cy="1265.7" r="1.7" fill="#c6b7da" />
<circle cx="1348.0" cy="1275.9" r="1.7" fill="#c6b7da" />
<circle cx="1356.5" cy="1286.0" r="1.7" fill="#c6b7da" />
<circle cx="1365.0" cy="1296.2" r="1.7" fill="#c6b7da" />
<circle cx="1373.4" cy="1306.3" r="1.7" fill="#c6b7da" />
<circle cx="1381.9" cy="1316.5" r="1.7" fill="#c6b7da" />
<path d="M1186,1059 L1206.5,1080 M1206.5,1059 L1186,1080" fill="none" stroke="#c6b7da" stroke-width="2.6" />
<path d="M1181,1088.4 L1201,1088.4 M1191,1078 L1191,1098" fill="none" stroke="#c6b7da" stroke-width="2.6" />
<path d="M1208.5,1081.5 L1198.5,1098.5 L1218.5,1098.5 Z" fill="none" stroke="#c6b7da" stroke-width="2.6" />
<circle cx="1213.8" cy="1165.6" r="9.8" fill="none" stroke="#c6b7da" stroke-width="2.6" />
<rect x="1343.6" y="1277.4" width="20.0" height="20.0" fill="none" stroke="#c6b7da" stroke-width="2.6" />
<path d="M1381.9,1306.5 L1391.9,1316.5 L1381.9,1326.5 L1371.9,1316.5 Z" fill="none" stroke="#c6b7da" stroke-width="2.6" />
<text x="1261.6" y="1095.7" font-size="22" font-style="italic">R</text>
<text x="1277.5" y="1085.5" font-size="14">2</text>
<text x="1292.0" y="1095.7" font-size="22" textLength="97.0" lengthAdjust="spacingAndGlyphs">= 0.9407</text>
<text transform="translate(1047 1170) rotate(-90)" text-anchor="middle" font-size="23" textLength="134" lengthAdjust="spacingAndGlyphs">∫<tspan font-style="italic">I</tspan> ×d<tspan font-style="italic">U</tspan> (μVA)</text>
<text x="1290" y="1409" text-anchor="middle" font-size="23" textLength="121" lengthAdjust="spacingAndGlyphs"><tspan font-style="italic">k</tspan><tspan font-size="15" dy="5">obs</tspan><tspan dy="-5"> (min</tspan><tspan font-size="14" dy="-8">−1</tspan><tspan dy="8">)</tspan></text>
<text x="12.0" y="1473.4" font-size="38.5" font-weight="bold" stroke="#231f20" stroke-width="1.2">k</text>
<rect x="104.3" y="1479.5" width="364.8" height="337.5" fill="none" stroke="#333" stroke-width="1.5" />
<line x1="97.0" y1="1817.0" x2="104.3" y2="1817.0" stroke="#333" stroke-width="1.5" />
<line x1="97.0" y1="1817.0" x2="104.3" y2="1817.0" stroke="#333" stroke-width="1.5" />
<text x="87.0" y="1824.3" font-size="20.5" text-anchor="end">0</text>
<line x1="97.0" y1="1711.6" x2="104.3" y2="1711.6" stroke="#333" stroke-width="1.5" />
<text x="87.0" y="1718.9" font-size="20.5" text-anchor="end">0.5</text>
<line x1="97.0" y1="1606.2" x2="104.3" y2="1606.2" stroke="#333" stroke-width="1.5" />
<text x="87.0" y="1613.5" font-size="20.5" text-anchor="end">1.0</text>
<line x1="97.0" y1="1500.8" x2="104.3" y2="1500.8" stroke="#333" stroke-width="1.5" />
<text x="87.0" y="1508.1" font-size="20.5" text-anchor="end">1.5</text>
<rect x="122.9" y="1705.3" width="16.7" height="110.3" fill="url(#sK)" stroke="#8ccbe3" stroke-width="2.8" />
<rect x="306.4" y="1806.5" width="16.7" height="9.1" fill="url(#sKp)" stroke="#f4a3a3" stroke-width="2.8" />
<rect x="148.7" y="1608.3" width="16.7" height="207.3" fill="url(#sK)" stroke="#8ccbe3" stroke-width="2.8" />
<rect x="332.0" y="1795.9" width="16.7" height="19.7" fill="url(#sKp)" stroke="#f4a3a3" stroke-width="2.8" />
<rect x="174.4" y="1536.6" width="16.7" height="279.0" fill="url(#sK)" stroke="#8ccbe3" stroke-width="2.8" />
<rect x="357.6" y="1774.8" width="16.7" height="40.8" fill="url(#sKp)" stroke="#f4a3a3" stroke-width="2.8" />
<rect x="200.2" y="1528.2" width="16.7" height="287.4" fill="url(#sK)" stroke="#8ccbe3" stroke-width="2.8" />
<rect x="383.2" y="1772.7" width="16.7" height="42.9" fill="url(#sKp)" stroke="#f4a3a3" stroke-width="2.8" />
<rect x="225.9" y="1521.9" width="16.7" height="293.7" fill="url(#sK)" stroke="#8ccbe3" stroke-width="2.8" />
<rect x="408.8" y="1770.6" width="16.7" height="45.0" fill="url(#sKp)" stroke="#f4a3a3" stroke-width="2.8" />
<rect x="251.7" y="1521.9" width="16.7" height="293.7" fill="url(#sK)" stroke="#8ccbe3" stroke-width="2.8" />
<rect x="434.4" y="1770.6" width="16.7" height="45.0" fill="url(#sKp)" stroke="#f4a3a3" stroke-width="2.8" />
<text x="106.4" y="1695.2" font-size="19.5" textLength="39.0" lengthAdjust="spacingAndGlyphs">0.53</text>
<text x="126.7" y="1597.5" font-size="19.5" textLength="39.0" lengthAdjust="spacingAndGlyphs">0.99</text>
<text x="151.0" y="1524.7" font-size="19.5" textLength="39.0" lengthAdjust="spacingAndGlyphs">1.33</text>
<text x="188.0" y="1498.5" font-size="19.5" textLength="39.0" lengthAdjust="spacingAndGlyphs">1.37</text>
<text x="221.4" y="1510.1" font-size="19.5" textLength="39.0" lengthAdjust="spacingAndGlyphs">1.40</text>
<text x="265.7" y="1505.2" font-size="19.5" textLength="39.0" lengthAdjust="spacingAndGlyphs">1.40</text>
<text x="290.8" y="1794.2" font-size="19.5" textLength="39.0" lengthAdjust="spacingAndGlyphs">0.05</text>
<text x="323.4" y="1773.2" font-size="19.5" textLength="39.0" lengthAdjust="spacingAndGlyphs">0.10</text>
<text x="349.7" y="1741.2" font-size="19.5" textLength="39.0" lengthAdjust="spacingAndGlyphs">0.20</text>
<text x="381.7" y="1760.7" font-size="19.5" textLength="39.0" lengthAdjust="spacingAndGlyphs">0.21</text>
<text x="405.0" y="1734.5" font-size="19.5" textLength="39.0" lengthAdjust="spacingAndGlyphs">0.22</text>
<text x="428.3" y="1763.0" font-size="19.5" textLength="39.0" lengthAdjust="spacingAndGlyphs">0.22</text>
<path d="M171.3,1530.5 L183,1537.2 M372.4,1748.2 L365.7,1774.7 M425.4,1743.2 L416.7,1769.5" fill="none" stroke="#222" stroke-width="1.2" />
<path d="M204,1506.3 L208.3,1529 M284,1510 L259.3,1521.8 M344.7,1782.6 L339.4,1795.7" fill="none" stroke="#999" stroke-width="1.2" />
<line x1="113.6" y1="1874.3" x2="270.8" y2="1874.3" stroke="#8ccbe3" stroke-width="2.4" />
<path d="M267.8,1868.8 L278.8,1874.3 L267.8,1879.8 Z" fill="#8ccbe3" />
<line x1="151.5" y1="1859.8" x2="151.5" y2="1874.3" stroke="#8ccbe3" stroke-width="2.4" />
<line x1="201.6" y1="1859.8" x2="201.6" y2="1874.3" stroke="#8ccbe3" stroke-width="2.4" />
<line x1="254.0" y1="1859.8" x2="254.0" y2="1874.3" stroke="#8ccbe3" stroke-width="2.4" />
<line x1="125.3" y1="1874.3" x2="125.3" y2="1887.5" stroke="#8ccbe3" stroke-width="2.4" />
<line x1="175.4" y1="1874.3" x2="175.4" y2="1887.5" stroke="#8ccbe3" stroke-width="2.4" />
<line x1="227.9" y1="1874.3" x2="227.9" y2="1887.5" stroke="#8ccbe3" stroke-width="2.4" />
<text x="148.3" y="1846.7" font-size="20" text-anchor="middle" textLength="41.5" lengthAdjust="spacingAndGlyphs">0.10</text>
<text x="199.1" y="1846.7" font-size="20" text-anchor="middle" textLength="41.5" lengthAdjust="spacingAndGlyphs">0.30</text>
<text x="254.0" y="1846.7" font-size="20" text-anchor="middle" textLength="41.5" lengthAdjust="spacingAndGlyphs">1.00</text>
<text x="123.1" y="1913.7" font-size="20" text-anchor="middle" textLength="41.5" lengthAdjust="spacingAndGlyphs">0.05</text>
<text x="176.7" y="1913.7" font-size="20" text-anchor="middle" textLength="41.5" lengthAdjust="spacingAndGlyphs">0.20</text>
<text x="228.9" y="1913.7" font-size="20" text-anchor="middle" textLength="41.5" lengthAdjust="spacingAndGlyphs">0.50</text>
<line x1="297.8" y1="1874.3" x2="454.7" y2="1874.3" stroke="#f4a3a3" stroke-width="2.4" />
<path d="M451.7,1868.8 L462.7,1874.3 L451.7,1879.8 Z" fill="#f4a3a3" />
<line x1="336.0" y1="1859.8" x2="336.0" y2="1874.3" stroke="#f4a3a3" stroke-width="2.4" />
<line x1="386.0" y1="1859.8" x2="386.0" y2="1874.3" stroke="#f4a3a3" stroke-width="2.4" />
<line x1="438.0" y1="1859.8" x2="438.0" y2="1874.3" stroke="#f4a3a3" stroke-width="2.4" />
<line x1="309.4" y1="1874.3" x2="309.4" y2="1887.5" stroke="#f4a3a3" stroke-width="2.4" />
<line x1="359.8" y1="1874.3" x2="359.8" y2="1887.5" stroke="#f4a3a3" stroke-width="2.4" />
<line x1="411.7" y1="1874.3" x2="411.7" y2="1887.5" stroke="#f4a3a3" stroke-width="2.4" />
<text x="332.8" y="1846.7" font-size="20" text-anchor="middle" textLength="41.5" lengthAdjust="spacingAndGlyphs">0.10</text>
<text x="383.5" y="1846.7" font-size="20" text-anchor="middle" textLength="41.5" lengthAdjust="spacingAndGlyphs">0.30</text>
<text x="438.0" y="1846.7" font-size="20" text-anchor="middle" textLength="41.5" lengthAdjust="spacingAndGlyphs">1.00</text>
<text x="307.2" y="1913.7" font-size="20" text-anchor="middle" textLength="41.5" lengthAdjust="spacingAndGlyphs">0.05</text>
<text x="361.1" y="1913.7" font-size="20" text-anchor="middle" textLength="41.5" lengthAdjust="spacingAndGlyphs">0.20</text>
<text x="412.7" y="1913.7" font-size="20" text-anchor="middle" textLength="41.5" lengthAdjust="spacingAndGlyphs">0.50</text>
<text x="214.0" y="1951.6" font-size="22" font-style="italic">C</text>
<text x="230.0" y="1960.0" font-size="16" textLength="66.0" lengthAdjust="spacingAndGlyphs">PI, initial</text>
<text x="302.0" y="1951.6" font-size="22" textLength="58.0" lengthAdjust="spacingAndGlyphs">(mM)</text>
<text transform="translate(31.5 1648.5) rotate(-90)" text-anchor="middle" font-size="24.5" textLength="250.6" lengthAdjust="spacingAndGlyphs"><tspan font-style="italic" fill="#8ccbe3" dy="0">q</tspan><tspan font-size="17.5" fill="#8ccbe3" dy="7">PI,need</tspan><tspan dy="-7"> or </tspan><tspan font-style="italic" fill="#f4a3a3" dy="0">q</tspan><tspan font-size="17.5" fill="#f4a3a3" dy="7">PI, real</tspan><tspan dy="-7"> (mM)</tspan></text>
<text x="542.0" y="1473.4" font-size="38.5" font-weight="bold" stroke="#231f20" stroke-width="1.2">l</text>
<rect x="631.1" y="1476.5" width="370.4" height="342.7" fill="none" stroke="#333" stroke-width="1.5" />
<line x1="623.0" y1="1819.2" x2="631.1" y2="1819.2" stroke="#333" stroke-width="1.5" />
<line x1="623.0" y1="1819.2" x2="631.1" y2="1819.2" stroke="#333" stroke-width="1.5" />
<text x="613.0" y="1826.5" font-size="20.5" text-anchor="end">0</text>
<line x1="623.0" y1="1704.9" x2="631.1" y2="1704.9" stroke="#333" stroke-width="1.5" />
<text x="613.0" y="1712.2" font-size="20.5" text-anchor="end">0.5</text>
<line x1="623.0" y1="1590.6" x2="631.1" y2="1590.6" stroke="#333" stroke-width="1.5" />
<text x="613.0" y="1597.9" font-size="20.5" text-anchor="end">1.0</text>
<line x1="623.0" y1="1476.3" x2="631.1" y2="1476.3" stroke="#333" stroke-width="1.5" />
<text x="613.0" y="1483.6" font-size="20.5" text-anchor="end">1.5</text>
<rect x="650.6" y="1743.8" width="16.7" height="74.0" fill="url(#sL)" stroke="#8ed0c6" stroke-width="2.8" />
<rect x="835.9" y="1807.8" width="16.7" height="10.0" fill="url(#sLo)" stroke="#f8b86f" stroke-width="2.8" />
<rect x="676.5" y="1636.3" width="16.7" height="181.5" fill="url(#sL)" stroke="#8ed0c6" stroke-width="2.8" />
<rect x="861.8" y="1796.3" width="16.7" height="21.5" fill="url(#sLo)" stroke="#f8b86f" stroke-width="2.8" />
<rect x="702.4" y="1567.7" width="16.7" height="250.1" fill="url(#sL)" stroke="#8ed0c6" stroke-width="2.8" />
<rect x="887.7" y="1780.3" width="16.7" height="37.5" fill="url(#sLo)" stroke="#f8b86f" stroke-width="2.8" />
<rect x="728.3" y="1542.6" width="16.7" height="275.2" fill="url(#sL)" stroke="#8ed0c6" stroke-width="2.8" />
<rect x="913.6" y="1775.8" width="16.7" height="42.0" fill="url(#sLo)" stroke="#f8b86f" stroke-width="2.8" />
<rect x="754.2" y="1528.9" width="16.7" height="288.9" fill="url(#sL)" stroke="#8ed0c6" stroke-width="2.8" />
<rect x="939.5" y="1775.8" width="16.7" height="42.0" fill="url(#sLo)" stroke="#f8b86f" stroke-width="2.8" />
<rect x="780.1" y="1526.6" width="16.7" height="291.2" fill="url(#sL)" stroke="#8ed0c6" stroke-width="2.8" />
<rect x="965.4" y="1771.2" width="16.7" height="46.6" fill="url(#sLo)" stroke="#f8b86f" stroke-width="2.8" />
<text x="637.8" y="1734.5" font-size="16.5" textLength="30.0" lengthAdjust="spacingAndGlyphs">0.33</text>
<text x="659.7" y="1628.1" font-size="16.5" textLength="30.0" lengthAdjust="spacingAndGlyphs">0.80</text>
<text x="673.4" y="1553.8" font-size="16.5" textLength="30.0" lengthAdjust="spacingAndGlyphs">1.10</text>
<text x="713.3" y="1525.6" font-size="16.5" textLength="30.0" lengthAdjust="spacingAndGlyphs">1.21</text>
<text x="754.0" y="1518.9" font-size="16.5" textLength="30.0" lengthAdjust="spacingAndGlyphs">1.27</text>
<text x="791.4" y="1517.4" font-size="16.5" textLength="30.0" lengthAdjust="spacingAndGlyphs">1.28</text>
<text x="822.0" y="1799.5" font-size="16.5" textLength="30.0" lengthAdjust="spacingAndGlyphs">0.05</text>
<text x="854.9" y="1785.5" font-size="16.5" textLength="30.0" lengthAdjust="spacingAndGlyphs">0.10</text>
<text x="889.9" y="1748.5" font-size="16.5" textLength="30.0" lengthAdjust="spacingAndGlyphs">0.17</text>
<text x="907.0" y="1770.2" font-size="16.5" textLength="30.0" lengthAdjust="spacingAndGlyphs">0.19</text>
<text x="941.7" y="1741.5" font-size="16.5" textLength="30.0" lengthAdjust="spacingAndGlyphs">0.19</text>
<text x="959.0" y="1763.7" font-size="16.5" textLength="30.0" lengthAdjust="spacingAndGlyphs">0.21</text>
<path d="M688,1560.2 L710.4,1567 M903.6,1754.9 L896.3,1781 M956.6,1748 L947.3,1774.9" fill="none" stroke="#222" stroke-width="1.2" />
<path d="M728.7,1532.6 L736,1542.2" fill="none" stroke="#999" stroke-width="1.2" />
<line x1="646.3" y1="1873.0" x2="803.2" y2="1873.0" stroke="#8ed0c6" stroke-width="2.4" />
<path d="M800.2,1867.5 L811.2,1873 L800.2,1878.5 Z" fill="#8ed0c6" />
<line x1="684.1" y1="1858.5" x2="684.1" y2="1873.0" stroke="#8ed0c6" stroke-width="2.4" />
<line x1="734.6" y1="1858.5" x2="734.6" y2="1873.0" stroke="#8ed0c6" stroke-width="2.4" />
<line x1="786.4" y1="1858.5" x2="786.4" y2="1873.0" stroke="#8ed0c6" stroke-width="2.4" />
<line x1="658.2" y1="1873.0" x2="658.2" y2="1886.2" stroke="#8ed0c6" stroke-width="2.4" />
<line x1="708.3" y1="1873.0" x2="708.3" y2="1886.2" stroke="#8ed0c6" stroke-width="2.4" />
<line x1="760.2" y1="1873.0" x2="760.2" y2="1886.2" stroke="#8ed0c6" stroke-width="2.4" />
<text x="680.9" y="1846.7" font-size="20" text-anchor="middle" textLength="41.5" lengthAdjust="spacingAndGlyphs">0.10</text>
<text x="732.1" y="1846.7" font-size="20" text-anchor="middle" textLength="41.5" lengthAdjust="spacingAndGlyphs">0.30</text>
<text x="786.4" y="1846.7" font-size="20" text-anchor="middle" textLength="41.5" lengthAdjust="spacingAndGlyphs">1.00</text>
<text x="656.0" y="1913.7" font-size="20" text-anchor="middle" textLength="41.5" lengthAdjust="spacingAndGlyphs">0.05</text>
<text x="709.6" y="1913.7" font-size="20" text-anchor="middle" textLength="41.5" lengthAdjust="spacingAndGlyphs">0.20</text>
<text x="761.2" y="1913.7" font-size="20" text-anchor="middle" textLength="41.5" lengthAdjust="spacingAndGlyphs">0.50</text>
<line x1="830.7" y1="1873.0" x2="987.3" y2="1873.0" stroke="#f8b86f" stroke-width="2.4" />
<path d="M984.3,1867.5 L995.3,1873 L984.3,1878.5 Z" fill="#f8b86f" />
<line x1="868.9" y1="1858.5" x2="868.9" y2="1873.0" stroke="#f8b86f" stroke-width="2.4" />
<line x1="918.7" y1="1858.5" x2="918.7" y2="1873.0" stroke="#f8b86f" stroke-width="2.4" />
<line x1="970.6" y1="1858.5" x2="970.6" y2="1873.0" stroke="#f8b86f" stroke-width="2.4" />
<line x1="842.4" y1="1873.0" x2="842.4" y2="1886.2" stroke="#f8b86f" stroke-width="2.4" />
<line x1="892.5" y1="1873.0" x2="892.5" y2="1886.2" stroke="#f8b86f" stroke-width="2.4" />
<line x1="944.6" y1="1873.0" x2="944.6" y2="1886.2" stroke="#f8b86f" stroke-width="2.4" />
<text x="865.7" y="1846.7" font-size="20" text-anchor="middle" textLength="41.5" lengthAdjust="spacingAndGlyphs">0.10</text>
<text x="916.2" y="1846.7" font-size="20" text-anchor="middle" textLength="41.5" lengthAdjust="spacingAndGlyphs">0.30</text>
<text x="970.6" y="1846.7" font-size="20" text-anchor="middle" textLength="41.5" lengthAdjust="spacingAndGlyphs">1.00</text>
<text x="840.2" y="1913.7" font-size="20" text-anchor="middle" textLength="41.5" lengthAdjust="spacingAndGlyphs">0.05</text>
<text x="893.8" y="1913.7" font-size="20" text-anchor="middle" textLength="41.5" lengthAdjust="spacingAndGlyphs">0.20</text>
<text x="945.6" y="1913.7" font-size="20" text-anchor="middle" textLength="41.5" lengthAdjust="spacingAndGlyphs">0.50</text>
<text x="734.6" y="1951.6" font-size="22" font-style="italic">C</text>
<text x="751.0" y="1960.0" font-size="16" textLength="82.0" lengthAdjust="spacingAndGlyphs">PDS, initial</text>
<text x="840.0" y="1951.6" font-size="22" textLength="58.0" lengthAdjust="spacingAndGlyphs">(mM)</text>
<text transform="translate(562 1648.4) rotate(-90)" text-anchor="middle" font-size="24.5" textLength="288.5" lengthAdjust="spacingAndGlyphs"><tspan font-style="italic" fill="#8ed0c6" dy="0">q</tspan><tspan font-size="17.5" fill="#8ed0c6" dy="7">PDS,need</tspan><tspan dy="-7"> or </tspan><tspan font-style="italic" fill="#f8b86f" dy="0">q</tspan><tspan font-size="17.5" fill="#f8b86f" dy="7">PDS, real</tspan><tspan dy="-7"> (mM)</tspan></text>
<text x="12.0" y="1987.0" font-size="38.5" font-weight="bold" stroke="#231f20" stroke-width="1.2">m</text>
<rect x="96.7" y="2001.0" width="364.5" height="362.2" fill="none" stroke="#333" stroke-width="1.5" />
<line x1="89.7" y1="2363.2" x2="96.7" y2="2363.2" stroke="#333" stroke-width="1.5" />
<line x1="89.7" y1="2363.2" x2="96.7" y2="2363.2" stroke="#333" stroke-width="1.5" />
<text x="79.0" y="2370.5" font-size="20.5" text-anchor="end">0</text>
<line x1="89.7" y1="2290.8" x2="96.7" y2="2290.8" stroke="#333" stroke-width="1.5" />
<text x="79.0" y="2298.1" font-size="20.5" text-anchor="end">0.4</text>
<line x1="89.7" y1="2218.4" x2="96.7" y2="2218.4" stroke="#333" stroke-width="1.5" />
<text x="79.0" y="2225.7" font-size="20.5" text-anchor="end">1.8</text>
<line x1="89.7" y1="2146.0" x2="96.7" y2="2146.0" stroke="#333" stroke-width="1.5" />
<text x="79.0" y="2153.3" font-size="20.5" text-anchor="end">1.2</text>
<line x1="89.7" y1="2073.6" x2="96.7" y2="2073.6" stroke="#333" stroke-width="1.5" />
<text x="79.0" y="2080.9" font-size="20.5" text-anchor="end">1.6</text>
<line x1="89.7" y1="2001.2" x2="96.7" y2="2001.2" stroke="#333" stroke-width="1.5" />
<text x="79.0" y="2008.5" font-size="20.5" text-anchor="end">2</text>
<rect x="104.0" y="2142.4" width="28.2" height="219.4" fill="url(#sM)" stroke="#aac0bc" stroke-width="2.8" />
<rect x="134.0" y="2339.7" width="27.2" height="22.1" fill="url(#sMp)" stroke="#c8b6dc" stroke-width="2.8" />
<rect x="177.1" y="2289.0" width="28.2" height="72.8" fill="url(#sM)" stroke="#aac0bc" stroke-width="2.8" />
<rect x="207.1" y="2359.6" width="27.2" height="2.2" fill="url(#sMp)" stroke="#c8b6dc" stroke-width="2.8" />
<rect x="250.4" y="2097.1" width="28.2" height="264.7" fill="url(#sM)" stroke="#aac0bc" stroke-width="2.8" />
<rect x="280.4" y="2316.1" width="27.2" height="45.7" fill="url(#sMp)" stroke="#c8b6dc" stroke-width="2.8" />
<rect x="323.4" y="2241.9" width="28.2" height="119.9" fill="url(#sM)" stroke="#aac0bc" stroke-width="2.8" />
<rect x="353.4" y="2359.6" width="27.2" height="2.2" fill="url(#sMp)" stroke="#c8b6dc" stroke-width="2.8" />
<rect x="396.2" y="2222.0" width="28.2" height="139.8" fill="url(#sM)" stroke="#aac0bc" stroke-width="2.8" />
<rect x="426.2" y="2357.8" width="27.2" height="4.0" fill="url(#sMp)" stroke="#c8b6dc" stroke-width="2.8" />
<text x="100.5" y="2133.6" font-size="19.5" textLength="38.5" lengthAdjust="spacingAndGlyphs">1.22</text>
<text x="127.3" y="2332.3" font-size="19.5" textLength="38.5" lengthAdjust="spacingAndGlyphs">0.13</text>
<text x="173.4" y="2280.7" font-size="19.5" textLength="38.5" lengthAdjust="spacingAndGlyphs">0.41</text>
<text x="202.0" y="2349.8" font-size="19.5" textLength="38.5" lengthAdjust="spacingAndGlyphs">0.02</text>
<text x="247.0" y="2081.1" font-size="19.5" textLength="38.5" lengthAdjust="spacingAndGlyphs">1.47</text>
<text x="271.0" y="2306.0" font-size="19.5" textLength="38.5" lengthAdjust="spacingAndGlyphs">0.26</text>
<text x="317.0" y="2233.2" font-size="19.5" textLength="38.5" lengthAdjust="spacingAndGlyphs">0.67</text>
<text x="346.7" y="2349.8" font-size="19.5" textLength="38.5" lengthAdjust="spacingAndGlyphs">0.02</text>
<text x="392.0" y="2213.7" font-size="19.5" textLength="38.5" lengthAdjust="spacingAndGlyphs">0.78</text>
<text x="418.7" y="2347.7" font-size="19.5" textLength="38.5" lengthAdjust="spacingAndGlyphs">0.03</text>
<text x="126.7" y="2390.0" font-size="20.5" text-anchor="middle">CNT</text>
<text x="209.2" y="2390.0" font-size="20.5" text-anchor="middle">BC</text>
<text x="271.9" y="2390.0" font-size="20.5" text-anchor="middle">N-BC</text>
<text x="356.0" y="2390.0" font-size="20.5" text-anchor="middle">GP</text>
<text x="422.5" y="2390.0" font-size="20.5" text-anchor="middle">N-GP</text>
<text x="278.3" y="2426.4" font-size="22" text-anchor="middle" textLength="92.0" lengthAdjust="spacingAndGlyphs">Catalyst</text>
<text transform="translate(25.5 2183.5) rotate(-90)" text-anchor="middle" font-size="24.5" textLength="242" lengthAdjust="spacingAndGlyphs"><tspan font-style="italic" fill="#aac0bc" dy="0">q</tspan><tspan font-size="17.5" fill="#aac0bc" dy="7">e-need</tspan><tspan dy="-7"> or </tspan><tspan font-style="italic" fill="#c8b6dc" dy="0">q</tspan><tspan font-size="17.5" fill="#c8b6dc" dy="7">e-real</tspan><tspan dy="-7"> (mM)</tspan></text>
<text x="542.0" y="1987.0" font-size="38.5" font-weight="bold" stroke="#231f20" stroke-width="1.2">n</text>
<rect x="630.2" y="2003.0" width="361.1" height="357.8" fill="none" stroke="#333" stroke-width="1.5" />
<line x1="623.0" y1="2360.8" x2="630.2" y2="2360.8" stroke="#333" stroke-width="1.5" />
<line x1="623.0" y1="2360.8" x2="630.2" y2="2360.8" stroke="#333" stroke-width="1.5" />
<text x="613.0" y="2368.1" font-size="20.5" text-anchor="end">0</text>
<line x1="623.0" y1="2241.5" x2="630.2" y2="2241.5" stroke="#333" stroke-width="1.5" />
<text x="613.0" y="2248.8" font-size="20.5" text-anchor="end">2.0</text>
<line x1="623.0" y1="2122.2" x2="630.2" y2="2122.2" stroke="#333" stroke-width="1.5" />
<text x="613.0" y="2129.5" font-size="20.5" text-anchor="end">4.0</text>
<line x1="623.0" y1="2002.9" x2="630.2" y2="2002.9" stroke="#333" stroke-width="1.5" />
<text x="613.0" y="2010.2" font-size="20.5" text-anchor="end">6.0</text>
<rect x="635.3" y="2198.0" width="10.0" height="161.5" fill="url(#sN)" stroke="#aac0bc" stroke-width="2.6" />
<rect x="647.0" y="2344.7" width="9.4" height="14.8" fill="url(#sMp)" stroke="#c8b6dc" stroke-width="2.6" />
<rect x="668.3" y="2157.4" width="10.0" height="202.1" fill="url(#sN)" stroke="#aac0bc" stroke-width="2.6" />
<rect x="680.0" y="2345.3" width="9.4" height="14.2" fill="url(#sMp)" stroke="#c8b6dc" stroke-width="2.6" />
<rect x="701.3" y="2271.9" width="10.0" height="87.6" fill="url(#sN)" stroke="#aac0bc" stroke-width="2.6" />
<rect x="713.0" y="2344.7" width="9.4" height="14.8" fill="url(#sMp)" stroke="#c8b6dc" stroke-width="2.6" />
<rect x="733.8" y="2292.8" width="10.0" height="66.7" fill="url(#sN)" stroke="#aac0bc" stroke-width="2.6" />
<rect x="745.5" y="2346.5" width="9.4" height="13.0" fill="url(#sMp)" stroke="#c8b6dc" stroke-width="2.6" />
<rect x="767.0" y="2283.3" width="10.0" height="76.2" fill="url(#sN)" stroke="#aac0bc" stroke-width="2.6" />
<rect x="778.7" y="2349.5" width="9.4" height="10.0" fill="url(#sMp)" stroke="#c8b6dc" stroke-width="2.6" />
<rect x="800.0" y="2236.7" width="10.0" height="122.8" fill="url(#sN)" stroke="#aac0bc" stroke-width="2.6" />
<rect x="811.7" y="2344.7" width="9.4" height="14.8" fill="url(#sMp)" stroke="#c8b6dc" stroke-width="2.6" />
<rect x="832.6" y="2066.7" width="10.0" height="292.8" fill="url(#sN)" stroke="#aac0bc" stroke-width="2.6" />
<rect x="844.3" y="2338.7" width="9.4" height="20.8" fill="url(#sMp)" stroke="#c8b6dc" stroke-width="2.6" />
<rect x="865.5" y="2090.0" width="10.0" height="269.5" fill="url(#sN)" stroke="#aac0bc" stroke-width="2.6" />
<rect x="877.2" y="2341.7" width="9.4" height="17.8" fill="url(#sMp)" stroke="#c8b6dc" stroke-width="2.6" />
<rect x="898.1" y="2056.6" width="10.0" height="302.9" fill="url(#sN)" stroke="#aac0bc" stroke-width="2.6" />
<rect x="909.8" y="2338.1" width="9.4" height="21.4" fill="url(#sMp)" stroke="#c8b6dc" stroke-width="2.6" />
<rect x="931.1" y="2066.7" width="10.0" height="292.8" fill="url(#sN)" stroke="#aac0bc" stroke-width="2.6" />
<rect x="942.8" y="2335.7" width="9.4" height="23.8" fill="url(#sMp)" stroke="#c8b6dc" stroke-width="2.6" />
<rect x="964.0" y="2194.4" width="10.0" height="165.1" fill="url(#sN)" stroke="#aac0bc" stroke-width="2.6" />
<rect x="975.7" y="2335.2" width="9.4" height="24.3" fill="url(#sMp)" stroke="#c8b6dc" stroke-width="2.6" />
<text x="623.8" y="2189.0" font-size="17.5" textLength="33.0" lengthAdjust="spacingAndGlyphs">2.73</text>
<text x="655.9" y="2146.7" font-size="17.5" textLength="33.0" lengthAdjust="spacingAndGlyphs">3.41</text>
<text x="690.8" y="2261.2" font-size="17.5" textLength="33.0" lengthAdjust="spacingAndGlyphs">1.49</text>
<text x="725.8" y="2284.5" font-size="17.5" textLength="33.0" lengthAdjust="spacingAndGlyphs">1.14</text>
<text x="757.9" y="2274.0" font-size="17.5" textLength="33.0" lengthAdjust="spacingAndGlyphs">1.30</text>
<text x="787.0" y="2227.7" font-size="17.5" textLength="33.0" lengthAdjust="spacingAndGlyphs">2.08</text>
<text x="819.6" y="2057.2" font-size="17.5" textLength="33.0" lengthAdjust="spacingAndGlyphs">4.93</text>
<text x="851.7" y="2081.7" font-size="17.5" textLength="33.0" lengthAdjust="spacingAndGlyphs">4.54</text>
<text x="888.4" y="2046.2" font-size="17.5" textLength="33.0" lengthAdjust="spacingAndGlyphs">5.10</text>
<text x="920.5" y="2058.4" font-size="17.5" textLength="33.0" lengthAdjust="spacingAndGlyphs">4.93</text>
<text x="952.5" y="2188.3" font-size="17.5" textLength="33.0" lengthAdjust="spacingAndGlyphs">2.79</text>
<text x="630.2" y="2336.7" font-size="16" textLength="31.0" lengthAdjust="spacingAndGlyphs">0.27</text>
<text x="665.5" y="2336.7" font-size="16" textLength="31.0" lengthAdjust="spacingAndGlyphs">0.26</text>
<text x="700.5" y="2336.7" font-size="16" textLength="31.0" lengthAdjust="spacingAndGlyphs">0.27</text>
<text x="732.2" y="2339.0" font-size="16" textLength="31.0" lengthAdjust="spacingAndGlyphs">0.24</text>
<text x="765.2" y="2341.3" font-size="16" textLength="31.0" lengthAdjust="spacingAndGlyphs">0.19</text>
<text x="797.8" y="2336.7" font-size="16" textLength="31.0" lengthAdjust="spacingAndGlyphs">0.27</text>
<text x="829.3" y="2330.8" font-size="16" textLength="31.0" lengthAdjust="spacingAndGlyphs">0.37</text>
<text x="864.2" y="2330.8" font-size="16" textLength="31.0" lengthAdjust="spacingAndGlyphs">0.32</text>
<text x="897.7" y="2330.8" font-size="16" textLength="31.0" lengthAdjust="spacingAndGlyphs">0.38</text>
<text x="931.2" y="2318.6" font-size="16" textLength="31.0" lengthAdjust="spacingAndGlyphs">0.42</text>
<text x="963.3" y="2330.8" font-size="16" textLength="31.0" lengthAdjust="spacingAndGlyphs">0.43</text>
<line x1="946.0" y1="2322.0" x2="946.0" y2="2336.0" stroke="#999" stroke-width="1" />
<text x="658.8" y="2372.5" font-size="21" text-anchor="end" textLength="37.9" lengthAdjust="spacingAndGlyphs" transform="rotate(-90 658.8 2372.5)">OPP</text>
<text x="688.8" y="2372.5" font-size="21" text-anchor="end" textLength="35.0" lengthAdjust="spacingAndGlyphs" transform="rotate(-90 688.8 2372.5)">BPA</text>
<text x="722.9" y="2372.5" font-size="21" text-anchor="end" textLength="43.7" lengthAdjust="spacingAndGlyphs" transform="rotate(-90 722.9 2372.5)">4-CP</text>
<text x="755.5" y="2372.5" font-size="21" text-anchor="end" textLength="49.5" lengthAdjust="spacingAndGlyphs" transform="rotate(-90 755.5 2372.5)">PHBA</text>
<text x="789.9" y="2372.5" font-size="21" text-anchor="end" textLength="48.0" lengthAdjust="spacingAndGlyphs" transform="rotate(-90 789.9 2372.5)">PNPE</text>
<text x="820.0" y="2372.5" font-size="21" text-anchor="end" textLength="24.8" lengthAdjust="spacingAndGlyphs" transform="rotate(-90 820.0 2372.5)">SA</text>
<text x="858.4" y="2372.5" font-size="21" text-anchor="end" textLength="32.0" lengthAdjust="spacingAndGlyphs" transform="rotate(-90 858.4 2372.5)">SPY</text>
<text x="888.1" y="2372.5" font-size="21" text-anchor="end" textLength="45.0" lengthAdjust="spacingAndGlyphs" transform="rotate(-90 888.1 2372.5)">SMM</text>
<text x="919.6" y="2372.5" font-size="21" text-anchor="end" textLength="40.8" lengthAdjust="spacingAndGlyphs" transform="rotate(-90 919.6 2372.5)">SMX</text>
<text x="957.5" y="2372.5" font-size="21" text-anchor="end" textLength="32.0" lengthAdjust="spacingAndGlyphs" transform="rotate(-90 957.5 2372.5)">STZ</text>
<text x="988.0" y="2372.5" font-size="21" text-anchor="end" textLength="36.4" lengthAdjust="spacingAndGlyphs" transform="rotate(-90 988.0 2372.5)">NPX</text>
<text x="810.3" y="2454.0" font-size="22" text-anchor="middle" textLength="101.0" lengthAdjust="spacingAndGlyphs">Pollutant</text>
<text transform="translate(555 2182) rotate(-90)" text-anchor="middle" font-size="24.5" textLength="237.5" lengthAdjust="spacingAndGlyphs"><tspan font-style="italic" fill="#aac0bc" dy="0">q</tspan><tspan font-size="17.5" fill="#aac0bc" dy="7">e-need</tspan><tspan dy="-7"> or </tspan><tspan font-style="italic" fill="#c8b6dc" dy="0">q</tspan><tspan font-size="17.5" fill="#c8b6dc" dy="7">e-real</tspan><tspan dy="-7"> (mM)</tspan></text>
<text x="1082.5" y="1473.1" font-size="38.5" font-weight="bold" stroke="#231f20" stroke-width="1.2">o</text>
<circle cx="1242.7" cy="1518.7" r="12.5" fill="url(#gBallT)" />
<text x="1269.0" y="1526.6" font-size="22" textLength="83.0" lengthAdjust="spacingAndGlyphs">Oxidant</text>
<circle cx="1493.5" cy="1518.7" r="12.5" fill="url(#gBallP)" />
<text x="1520.0" y="1526.6" font-size="22" textLength="105.0" lengthAdjust="spacingAndGlyphs">Pollutants</text>
<text x="1652.0" y="1624.3" font-size="22" text-anchor="middle" textLength="350.0" lengthAdjust="spacingAndGlyphs">Factors determining degree of</text>
<text x="1655.6" y="1652.8" font-size="22" text-anchor="middle" textLength="180.0" lengthAdjust="spacingAndGlyphs">polymerization?</text>
<circle cx="1252.0" cy="1654.4" r="12.5" fill="url(#gBallT)" />
<circle cx="1180.4" cy="1705.6" r="12.5" fill="url(#gBallP)" />
<path d="M1265,1672 Q1297,1676 1306,1699 L1312,1697 L1311.5,1713 L1298,1704 L1303,1701 Q1293,1684 1265,1679 Z" fill="url(#gArrT)" stroke="#9fb6b1" stroke-width="1" />
<path d="M1190,1732 Q1196,1760 1222,1769 L1220,1775 L1235,1773.5 L1227,1761 L1224.5,1765 Q1203,1755 1196,1731 Z" fill="url(#gArrP)" stroke="#b49bd0" stroke-width="1" />
<path d="M1241.1,1794.3 L1271.8,1726.7 L1368.4,1726.7 L1399.5,1794.3 L1368.4,1864.0 L1271.8,1864.0 Z" fill="#c6b5d9" stroke="#8d69b4" stroke-width="3.8" />
<path d="M1438,1799.5 L1513,1799.5 L1510,1791 L1542,1803.8 L1510,1816.5 L1513,1808 L1438,1808 Z" fill="#8e69b1" />
<text x="1395.8" y="1744.2" font-size="22" textLength="196.0" lengthAdjust="spacingAndGlyphs">Elementary step?</text>
<path d="M1575.3,1794.3 L1609.7,1719.3 L1717.9,1719.3 L1752.2,1794.3 L1717.9,1870.9 L1609.7,1870.9 Z" fill="#231f20" />
<rect x="1666.7" y="1719.3" width="39.6" height="7.5" fill="#fff" />
<path d="M1584.3,1794.3 L1613.9,1726.7 L1712.6,1726.7 L1742.7,1794.3 L1712.6,1863.0 L1613.9,1863.0 Z" fill="#c6b5d9" stroke="#8d69b4" stroke-width="3.6" />
<ellipse cx="1663.5" cy="1873.5" rx="29.0" ry="31.5" fill="none" stroke="#7fa39c" stroke-width="1.8" stroke-dasharray="6,4"/>
<line x1="1609.7" y1="1867.0" x2="1285.0" y2="2002.9" stroke="#7fa39c" stroke-width="1.8" stroke-dasharray="6,4"/>
<line x1="1696.8" y1="1873.5" x2="1762.8" y2="2002.9" stroke="#7fa39c" stroke-width="1.8" stroke-dasharray="6,4"/>
<rect x="1165.0" y="2002.9" width="704.4" height="237.6" fill="none" stroke="#7fa39c" stroke-width="1.8" stroke-dasharray="6,4"/>
<text x="1282.3" y="2059.9" font-size="22" textLength="184.0" lengthAdjust="spacingAndGlyphs">Hard desorption</text>
<circle cx="1598.0" cy="2048.8" r="12.5" fill="url(#gBallP)" />
<text x="1675.7" y="2059.9" font-size="22" textLength="126.0" lengthAdjust="spacingAndGlyphs">Elimination</text>
<line x1="1309.8" y1="2127.0" x2="1309.8" y2="2081.0" stroke="#8f6bb9" stroke-width="1.8" />
<path d="M1305.3,2083 L1309.8,2072 L1314.3,2083 Z" fill="#8f6bb9" />
<line x1="1426.5" y1="2127.0" x2="1426.5" y2="2081.0" stroke="#8f6bb9" stroke-width="1.8" />
<path d="M1422.0,2083 L1426.5,2072 L1431.0,2083 Z" fill="#8f6bb9" />
<path d="M1203,2216.7 Q1203,2224 1212,2225 L1831,2225 Q1840,2224 1840,2216.7 Z" fill="#e8e2ef" />
<rect x="1203.5" y="2146.5" width="636.5" height="70.2" fill="url(#gSlab)" stroke="#2b2530" stroke-width="1.5" rx="8"/>
<rect x="1222.0" y="2127.5" width="297.5" height="18.0" fill="url(#gFilm)" stroke="#8f6bb9" stroke-width="2.6" rx="2.5"/>
<rect x="1528.0" y="2126.0" width="297.5" height="19.5" fill="url(#gFilm)" stroke="#8f6bb9" stroke-width="2.6" rx="2.5"/>
<path d="M1622,2084 L1633,2084 Q1636,2111 1661,2120 L1659,2125 Q1623,2117 1622,2084 Z" fill="url(#gArrL)" />
<path d="M1683,2121 Q1707,2118 1714,2097 L1721,2096 Q1713,2124 1685,2126 Z" fill="url(#gArrR)" stroke="#a58bc8" stroke-width="0.8" />
<path d="M1707,2098 L1721,2083 L1732,2096 Z" fill="#d9cbea" stroke="#a58bc8" stroke-width="0.8" />
<path d="M1660,2104 L1693,2136 M1693,2104 L1660,2136" fill="none" stroke="#1b2438" stroke-width="5.5" />
<text x="1335.0" y="2268.4" font-size="22" text-anchor="middle" textLength="218.0" lengthAdjust="spacingAndGlyphs">Polymer deposition</text>
<text x="1339.0" y="2298.5" font-size="22" text-anchor="middle" textLength="142.0" lengthAdjust="spacingAndGlyphs">mechanism?</text>
<text x="1691.5" y="2268.4" font-size="22" text-anchor="middle" textLength="340.0" lengthAdjust="spacingAndGlyphs">Intrinsic relationship between</text>
<text x="1691.5" y="2298.5" font-size="22" text-anchor="middle" textLength="366.0" lengthAdjust="spacingAndGlyphs">surface polymeric products and</text>
<text x="1695.0" y="2327.6" font-size="22" text-anchor="middle" textLength="236.0" lengthAdjust="spacingAndGlyphs">catalyst deactivation</text>
</g>
</svg></body></html>
